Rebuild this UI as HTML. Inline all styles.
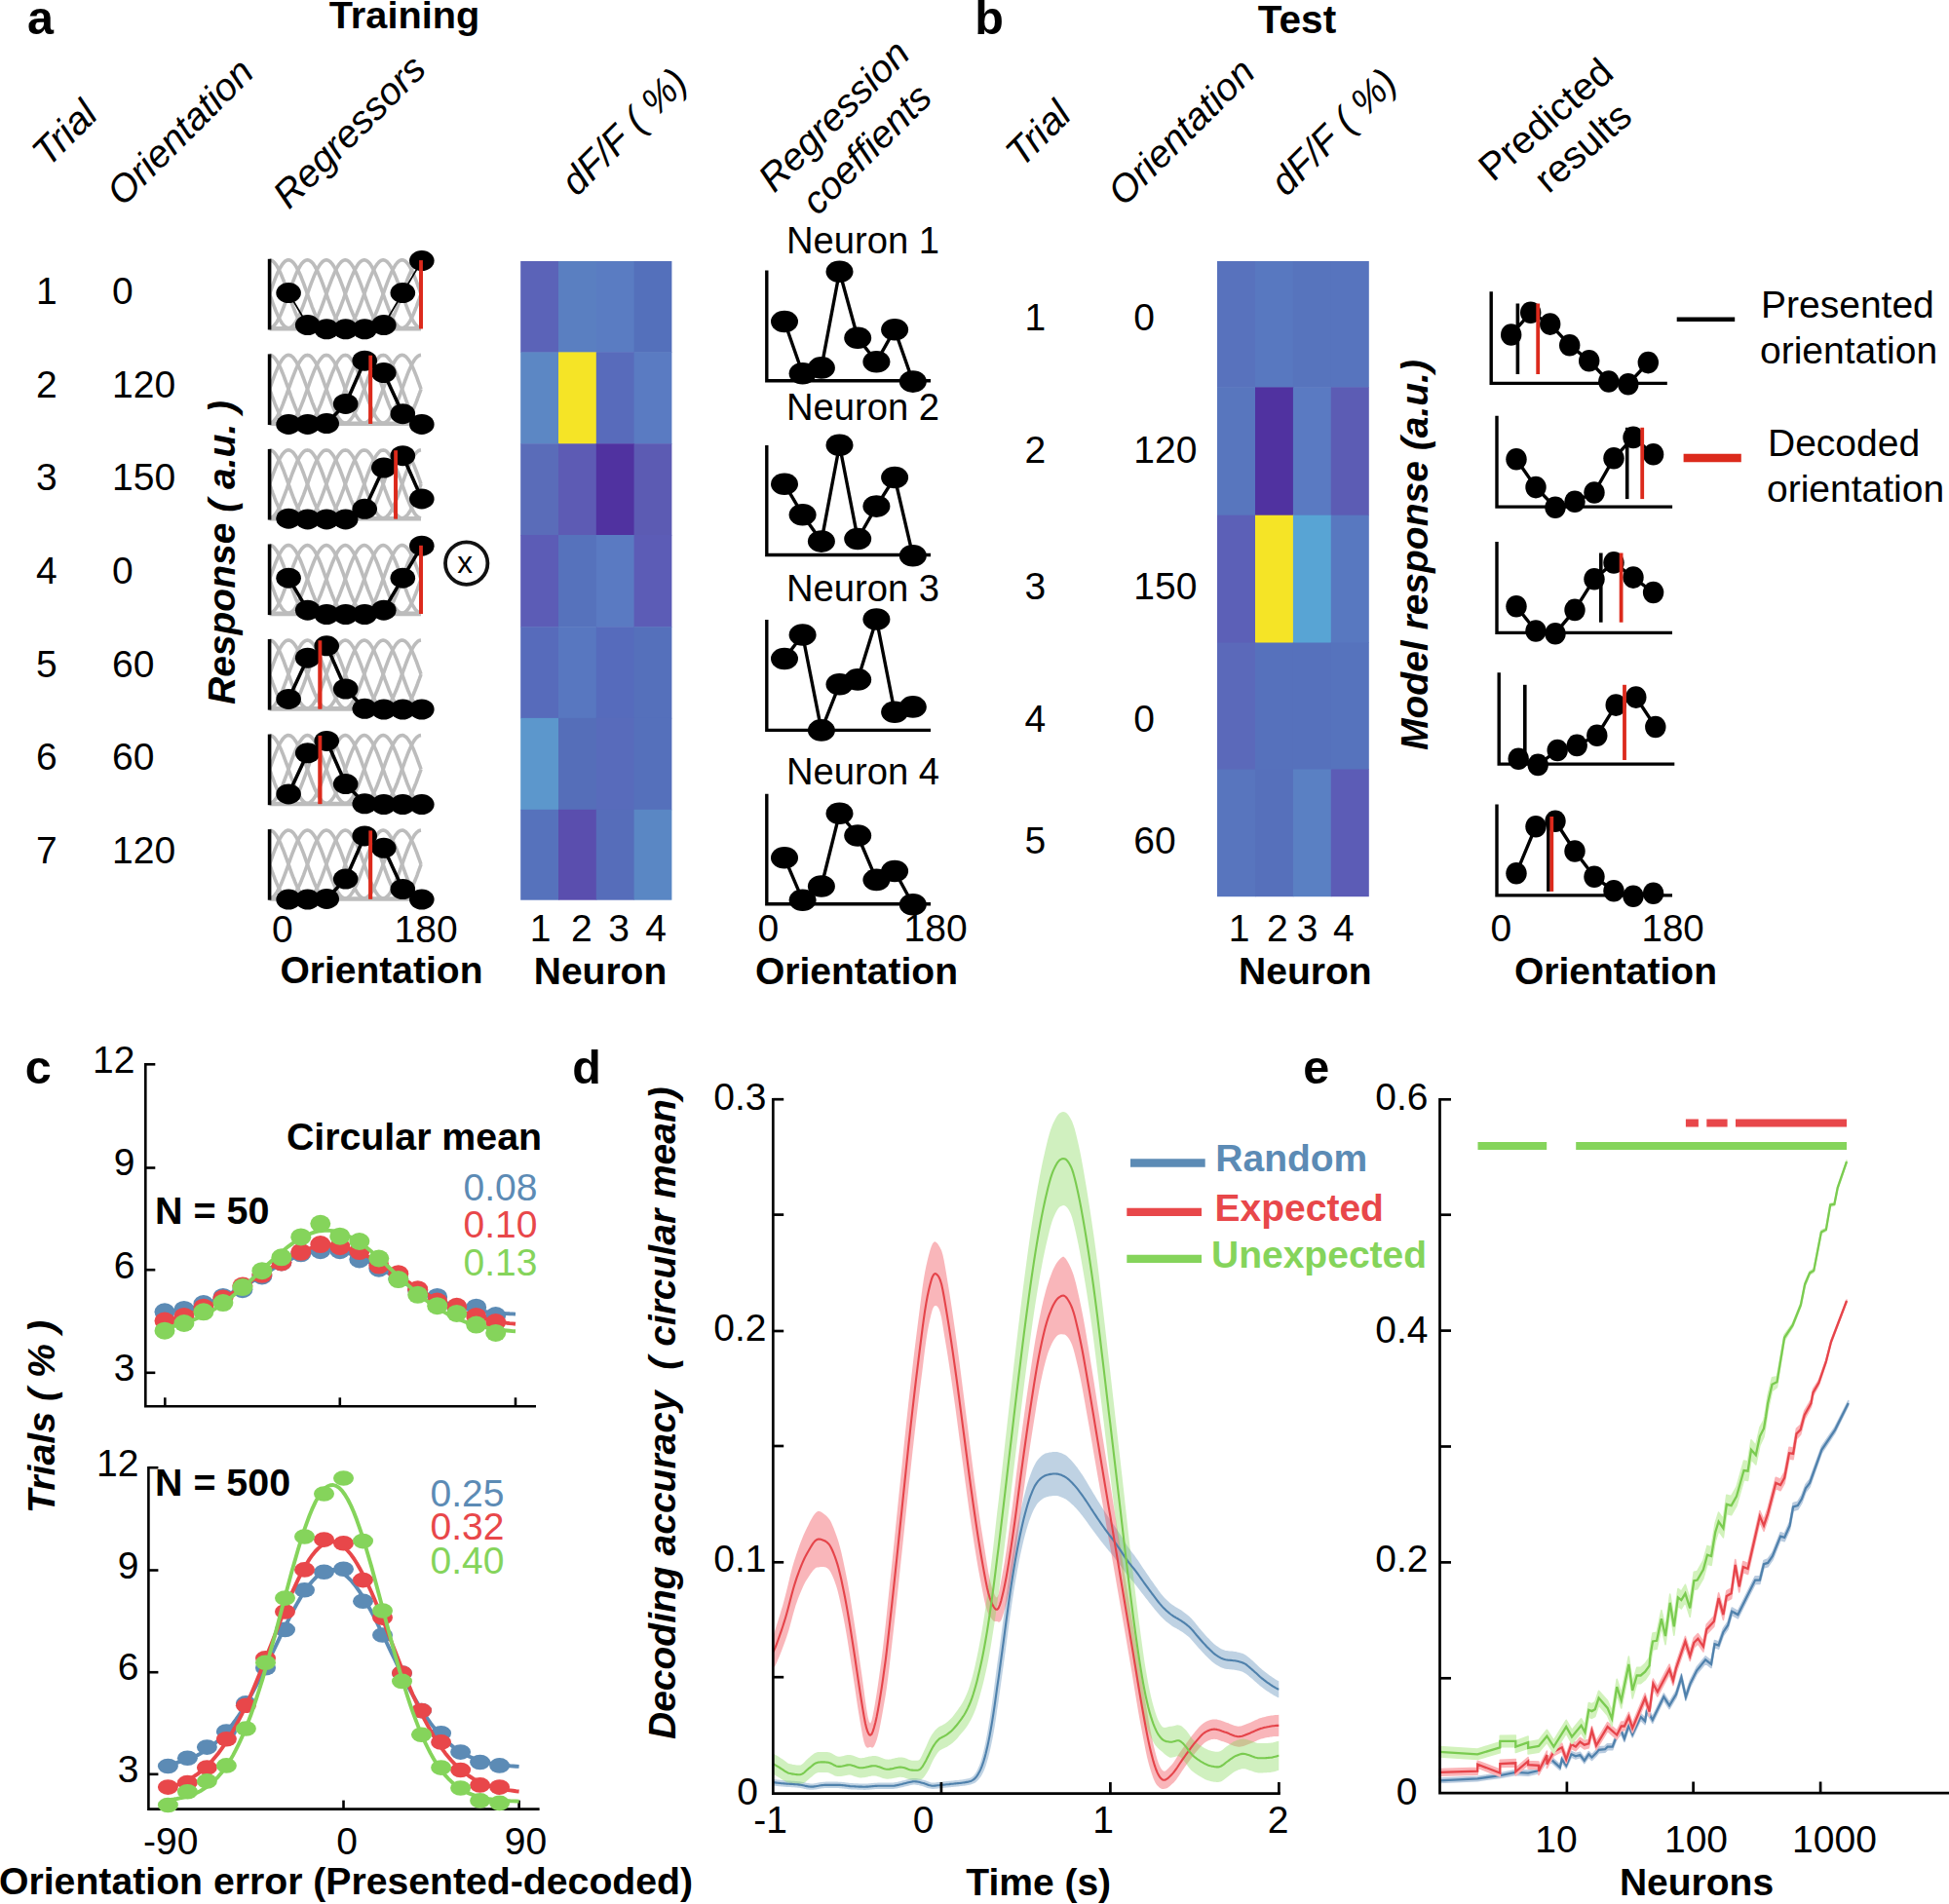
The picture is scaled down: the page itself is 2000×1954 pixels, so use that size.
<!DOCTYPE html>
<html lang="en">
<head>
<meta charset="utf-8">
<title>Orientation decoding figure</title>
<style>
html,body{margin:0;padding:0;background:#fff;}
body{width:2000px;height:1954px;overflow:hidden;}
svg{display:block;font-family:"Liberation Sans",sans-serif;}
</style>
</head>
<body>
<svg width="2000" height="1954" viewBox="0 0 2000 1954">
<rect width="2000" height="1954" fill="#fff"/>
<g id="panel-a">
<text x="28" y="35.3" font-size="48.5" font-weight="bold">a</text>
<text x="415" y="29" font-size="39.7" font-weight="bold" text-anchor="middle">Training</text>
<text transform="translate(49.5 172.5) rotate(-45)" font-size="40" font-style="italic">Trial</text>
<text transform="translate(126 213) rotate(-45)" font-size="39.5" font-style="italic">Orientation</text>
<text transform="translate(296.5 215.8) rotate(-45)" font-size="39.5" font-style="italic">Regressors</text>
<text transform="translate(592 202.5) rotate(-45)" font-size="39.5" font-style="italic">dF/F ( %)</text>
<text transform="translate(794.5 198.8) rotate(-45)" font-size="39.5" font-style="italic">Regression</text>
<text transform="translate(839 222.2) rotate(-45)" font-size="39.5" font-style="italic">coeffients</text>
<text x="37" y="312" font-size="39">1</text>
<text x="115" y="312" font-size="39">0</text>
<text x="37" y="408" font-size="39">2</text>
<text x="115" y="408" font-size="39">120</text>
<text x="37" y="503.4" font-size="39">3</text>
<text x="115" y="503.4" font-size="39">150</text>
<text x="37" y="599.2" font-size="39">4</text>
<text x="115" y="599.2" font-size="39">0</text>
<text x="37" y="694.7" font-size="39">5</text>
<text x="115" y="694.7" font-size="39">60</text>
<text x="37" y="790.3" font-size="39">6</text>
<text x="115" y="790.3" font-size="39">60</text>
<text x="37" y="886.3" font-size="39">7</text>
<text x="115" y="886.3" font-size="39">120</text>
<text transform="translate(240.5 723) rotate(-90)" font-size="39" font-weight="bold" font-style="italic">Response ( a.u. )</text>
<polyline points="276.6,301.7 277.1,303.1 277.6,304.4 278.1,305.8 278.5,307.2 279,308.5 279.5,309.8 280,311.2 280.5,312.5 281,313.8 281.5,315.1 281.9,316.3 282.4,317.5 282.9,318.8 283.4,319.9 283.9,321.1 284.4,322.2 284.9,323.3 285.3,324.4 285.8,325.4 286.3,326.4 286.8,327.3 287.3,328.2 287.8,329.1 288.3,329.9 288.7,330.7 289.2,331.5 289.7,332.2 290.2,332.8 290.7,333.4 291.2,333.9 291.7,334.4 292.1,334.9 292.6,335.3 293.1,335.6 293.6,335.9 294.1,336.2 294.6,336.4 295.1,336.5 295.5,336.6 296,336.6" fill="none" stroke="#bcbcbc" stroke-width="3.6" stroke-linejoin="round" stroke-linecap="butt"/>
<polyline points="276.6,266.8 277.6,266.9 278.5,267.2 279.5,267.8 280.5,268.5 281.5,269.5 282.4,270.6 283.4,271.9 284.4,273.5 285.3,275.2 286.3,277 287.3,279 288.3,281.2 289.2,283.5 290.2,285.9 291.2,288.3 292.1,290.9 293.1,293.6 294.1,296.2 295.1,299 296,301.7 297,304.4 298,307.2 298.9,309.8 299.9,312.5 300.9,315.1 301.9,317.5 302.8,319.9 303.8,322.2 304.8,324.4 305.7,326.4 306.7,328.2 307.7,329.9 308.7,331.5 309.6,332.8 310.6,333.9 311.6,334.9 312.5,335.6 313.5,336.2 314.5,336.5 315.5,336.6" fill="none" stroke="#bcbcbc" stroke-width="3.6" stroke-linejoin="round" stroke-linecap="butt"/>
<polyline points="276.6,301.7 278.1,297.6 279.5,293.6 281,289.6 282.4,285.9 283.9,282.3 285.3,279 286.8,276.1 288.3,273.5 289.7,271.2 291.2,269.5 292.6,268.1 294.1,267.2 295.5,266.8 297,266.9 298.5,267.5 299.9,268.5 301.4,270 302.8,271.9 304.3,274.3 305.7,277 307.2,280.1 308.7,283.5 310.1,287.1 311.6,290.9 313,294.9 314.5,299 315.9,303.1 317.4,307.2 318.9,311.2 320.3,315.1 321.8,318.8 323.2,322.2 324.7,325.4 326.1,328.2 327.6,330.7 329.1,332.8 330.5,334.4 332,335.6 333.4,336.4 334.9,336.6" fill="none" stroke="#bcbcbc" stroke-width="3.6" stroke-linejoin="round" stroke-linecap="butt"/>
<polyline points="276.6,336.6 278.5,336.2 280.5,334.9 282.4,332.8 284.4,329.9 286.3,326.4 288.3,322.2 290.2,317.5 292.1,312.5 294.1,307.2 296,301.7 298,296.2 299.9,290.9 301.9,285.9 303.8,281.2 305.7,277 307.7,273.5 309.6,270.6 311.6,268.5 313.5,267.2 315.5,266.8 317.4,267.2 319.3,268.5 321.3,270.6 323.2,273.5 325.2,277 327.1,281.2 329.1,285.9 331,290.9 332.9,296.2 334.9,301.7 336.8,307.2 338.8,312.5 340.7,317.5 342.7,322.2 344.6,326.4 346.5,329.9 348.5,332.8 350.4,334.9 352.4,336.2 354.3,336.6" fill="none" stroke="#bcbcbc" stroke-width="3.6" stroke-linejoin="round" stroke-linecap="butt"/>
<polyline points="296,336.6 298,336.2 299.9,334.9 301.9,332.8 303.8,329.9 305.7,326.4 307.7,322.2 309.6,317.5 311.6,312.5 313.5,307.2 315.5,301.7 317.4,296.2 319.3,290.9 321.3,285.9 323.2,281.2 325.2,277 327.1,273.5 329.1,270.6 331,268.5 332.9,267.2 334.9,266.8 336.8,267.2 338.8,268.5 340.7,270.6 342.7,273.5 344.6,277 346.5,281.2 348.5,285.9 350.4,290.9 352.4,296.2 354.3,301.7 356.3,307.2 358.2,312.5 360.1,317.5 362.1,322.2 364,326.4 366,329.9 367.9,332.8 369.9,334.9 371.8,336.2 373.8,336.6" fill="none" stroke="#bcbcbc" stroke-width="3.6" stroke-linejoin="round" stroke-linecap="butt"/>
<polyline points="315.5,336.6 317.4,336.2 319.3,334.9 321.3,332.8 323.2,329.9 325.2,326.4 327.1,322.2 329.1,317.5 331,312.5 332.9,307.2 334.9,301.7 336.8,296.2 338.8,290.9 340.7,285.9 342.7,281.2 344.6,277 346.5,273.5 348.5,270.6 350.4,268.5 352.4,267.2 354.3,266.8 356.3,267.2 358.2,268.5 360.1,270.6 362.1,273.5 364,277 366,281.2 367.9,285.9 369.9,290.9 371.8,296.2 373.8,301.7 375.7,307.2 377.6,312.5 379.6,317.5 381.5,322.2 383.5,326.4 385.4,329.9 387.4,332.8 389.3,334.9 391.2,336.2 393.2,336.6" fill="none" stroke="#bcbcbc" stroke-width="3.6" stroke-linejoin="round" stroke-linecap="butt"/>
<polyline points="334.9,336.6 336.8,336.2 338.8,334.9 340.7,332.8 342.7,329.9 344.6,326.4 346.5,322.2 348.5,317.5 350.4,312.5 352.4,307.2 354.3,301.7 356.3,296.2 358.2,290.9 360.1,285.9 362.1,281.2 364,277 366,273.5 367.9,270.6 369.9,268.5 371.8,267.2 373.8,266.8 375.7,267.2 377.6,268.5 379.6,270.6 381.5,273.5 383.5,277 385.4,281.2 387.4,285.9 389.3,290.9 391.2,296.2 393.2,301.7 395.1,307.2 397.1,312.5 399,317.5 401,322.2 402.9,326.4 404.8,329.9 406.8,332.8 408.7,334.9 410.7,336.2 412.6,336.6" fill="none" stroke="#bcbcbc" stroke-width="3.6" stroke-linejoin="round" stroke-linecap="butt"/>
<polyline points="354.3,336.6 356.3,336.2 358.2,334.9 360.1,332.8 362.1,329.9 364,326.4 366,322.2 367.9,317.5 369.9,312.5 371.8,307.2 373.8,301.7 375.7,296.2 377.6,290.9 379.6,285.9 381.5,281.2 383.5,277 385.4,273.5 387.4,270.6 389.3,268.5 391.2,267.2 393.2,266.8 395.1,267.2 397.1,268.5 399,270.6 401,273.5 402.9,277 404.8,281.2 406.8,285.9 408.7,290.9 410.7,296.2 412.6,301.7 414.6,307.2 416.5,312.5 418.4,317.5 420.4,322.2 422.3,326.4 424.3,329.9 426.2,332.8 428.2,334.9 430.1,336.2 432,336.6" fill="none" stroke="#bcbcbc" stroke-width="3.6" stroke-linejoin="round" stroke-linecap="butt"/>
<polyline points="373.8,336.6 375.2,336.4 376.7,335.6 378.1,334.4 379.6,332.8 381,330.7 382.5,328.2 384,325.4 385.4,322.2 386.9,318.8 388.3,315.1 389.8,311.2 391.2,307.2 392.7,303.1 394.2,299 395.6,294.9 397.1,290.9 398.5,287.1 400,283.5 401.4,280.1 402.9,277 404.4,274.3 405.8,271.9 407.3,270 408.7,268.5 410.2,267.5 411.6,266.9 413.1,266.8 414.6,267.2 416,268.1 417.5,269.5 418.9,271.2 420.4,273.5 421.8,276.1 423.3,279 424.8,282.3 426.2,285.9 427.7,289.6 429.1,293.6 430.6,297.6 432,301.7" fill="none" stroke="#bcbcbc" stroke-width="3.6" stroke-linejoin="round" stroke-linecap="butt"/>
<polyline points="393.2,336.6 394.2,336.5 395.1,336.2 396.1,335.6 397.1,334.9 398,333.9 399,332.8 400,331.5 401,329.9 401.9,328.2 402.9,326.4 403.9,324.4 404.8,322.2 405.8,319.9 406.8,317.5 407.8,315.1 408.7,312.5 409.7,309.8 410.7,307.2 411.6,304.4 412.6,301.7 413.6,299 414.6,296.2 415.5,293.6 416.5,290.9 417.5,288.3 418.4,285.9 419.4,283.5 420.4,281.2 421.4,279 422.3,277 423.3,275.2 424.3,273.5 425.2,271.9 426.2,270.6 427.2,269.5 428.2,268.5 429.1,267.8 430.1,267.2 431.1,266.9 432,266.8" fill="none" stroke="#bcbcbc" stroke-width="3.6" stroke-linejoin="round" stroke-linecap="butt"/>
<polyline points="412.6,336.6 413.1,336.6 413.6,336.5 414.1,336.4 414.6,336.2 415,335.9 415.5,335.6 416,335.3 416.5,334.9 417,334.4 417.5,333.9 418,333.4 418.4,332.8 418.9,332.2 419.4,331.5 419.9,330.7 420.4,329.9 420.9,329.1 421.4,328.2 421.8,327.3 422.3,326.4 422.8,325.4 423.3,324.4 423.8,323.3 424.3,322.2 424.8,321.1 425.2,319.9 425.7,318.8 426.2,317.5 426.7,316.3 427.2,315.1 427.7,313.8 428.2,312.5 428.6,311.2 429.1,309.8 429.6,308.5 430.1,307.2 430.6,305.8 431.1,304.4 431.6,303.1 432,301.7" fill="none" stroke="#bcbcbc" stroke-width="3.6" stroke-linejoin="round" stroke-linecap="butt"/>
<line x1="276.6" y1="337.2" x2="432" y2="337.2" stroke="#bcbcbc" stroke-width="4.6"/>
<line x1="276.6" y1="265.8" x2="276.6" y2="338.4" stroke="#000" stroke-width="3.6"/>
<polyline points="296.1,300.6 315.7,333.6 335.2,337.8 354.7,337.8 374.2,337.8 393.8,333.6 413.3,300.6 432.8,267.6" fill="none" stroke="#000" stroke-width="1.8" stroke-linejoin="round" stroke-linecap="butt"/>
<line x1="432" y1="267.1" x2="432" y2="337.3" stroke="#dc2a1c" stroke-width="3.8"/>
<ellipse cx="296.1" cy="300.6" rx="12.8" ry="10.5" fill="#000"/>
<ellipse cx="315.7" cy="333.6" rx="12.8" ry="10.5" fill="#000"/>
<ellipse cx="335.2" cy="337.8" rx="12.8" ry="10.5" fill="#000"/>
<ellipse cx="354.7" cy="337.8" rx="12.8" ry="10.5" fill="#000"/>
<ellipse cx="374.2" cy="337.8" rx="12.8" ry="10.5" fill="#000"/>
<ellipse cx="393.8" cy="333.6" rx="12.8" ry="10.5" fill="#000"/>
<ellipse cx="413.3" cy="300.6" rx="12.8" ry="10.5" fill="#000"/>
<ellipse cx="432.8" cy="267.6" rx="12.8" ry="10.5" fill="#000"/>
<polyline points="276.6,399.3 277.1,400.6 277.6,402 278.1,403.4 278.5,404.7 279,406.1 279.5,407.4 280,408.7 280.5,410 281,411.3 281.5,412.6 281.9,413.9 282.4,415.1 282.9,416.3 283.4,417.5 283.9,418.6 284.4,419.8 284.9,420.9 285.3,421.9 285.8,422.9 286.3,423.9 286.8,424.9 287.3,425.8 287.8,426.7 288.3,427.5 288.7,428.3 289.2,429 289.7,429.7 290.2,430.3 290.7,430.9 291.2,431.5 291.7,432 292.1,432.4 292.6,432.8 293.1,433.2 293.6,433.5 294.1,433.7 294.6,433.9 295.1,434 295.5,434.1 296,434.2" fill="none" stroke="#bcbcbc" stroke-width="3.6" stroke-linejoin="round" stroke-linecap="butt"/>
<polyline points="276.6,364.4 277.6,364.5 278.5,364.8 279.5,365.3 280.5,366.1 281.5,367 282.4,368.2 283.4,369.5 284.4,371 285.3,372.7 286.3,374.6 287.3,376.6 288.3,378.7 289.2,381 290.2,383.4 291.2,385.9 292.1,388.5 293.1,391.1 294.1,393.8 295.1,396.5 296,399.3 297,402 298,404.7 298.9,407.4 299.9,410 300.9,412.6 301.9,415.1 302.8,417.5 303.8,419.8 304.8,421.9 305.7,423.9 306.7,425.8 307.7,427.5 308.7,429 309.6,430.3 310.6,431.5 311.6,432.4 312.5,433.2 313.5,433.7 314.5,434 315.5,434.2" fill="none" stroke="#bcbcbc" stroke-width="3.6" stroke-linejoin="round" stroke-linecap="butt"/>
<polyline points="276.6,399.3 278.1,395.1 279.5,391.1 281,387.2 282.4,383.4 283.9,379.9 285.3,376.6 286.8,373.6 288.3,371 289.7,368.8 291.2,367 292.6,365.7 294.1,364.8 295.5,364.4 297,364.5 298.5,365 299.9,366.1 301.4,367.6 302.8,369.5 304.3,371.8 305.7,374.6 307.2,377.6 308.7,381 310.1,384.6 311.6,388.5 313,392.4 314.5,396.5 315.9,400.6 317.4,404.7 318.9,408.7 320.3,412.6 321.8,416.3 323.2,419.8 324.7,422.9 326.1,425.8 327.6,428.3 329.1,430.3 330.5,432 332,433.2 333.4,433.9 334.9,434.2" fill="none" stroke="#bcbcbc" stroke-width="3.6" stroke-linejoin="round" stroke-linecap="butt"/>
<polyline points="276.6,434.2 278.5,433.7 280.5,432.4 282.4,430.3 284.4,427.5 286.3,423.9 288.3,419.8 290.2,415.1 292.1,410 294.1,404.7 296,399.3 298,393.8 299.9,388.5 301.9,383.4 303.8,378.7 305.7,374.6 307.7,371 309.6,368.2 311.6,366.1 313.5,364.8 315.5,364.4 317.4,364.8 319.3,366.1 321.3,368.2 323.2,371 325.2,374.6 327.1,378.7 329.1,383.4 331,388.5 332.9,393.8 334.9,399.3 336.8,404.7 338.8,410 340.7,415.1 342.7,419.8 344.6,423.9 346.5,427.5 348.5,430.3 350.4,432.4 352.4,433.7 354.3,434.2" fill="none" stroke="#bcbcbc" stroke-width="3.6" stroke-linejoin="round" stroke-linecap="butt"/>
<polyline points="296,434.2 298,433.7 299.9,432.4 301.9,430.3 303.8,427.5 305.7,423.9 307.7,419.8 309.6,415.1 311.6,410 313.5,404.7 315.5,399.3 317.4,393.8 319.3,388.5 321.3,383.4 323.2,378.7 325.2,374.6 327.1,371 329.1,368.2 331,366.1 332.9,364.8 334.9,364.4 336.8,364.8 338.8,366.1 340.7,368.2 342.7,371 344.6,374.6 346.5,378.7 348.5,383.4 350.4,388.5 352.4,393.8 354.3,399.3 356.3,404.7 358.2,410 360.1,415.1 362.1,419.8 364,423.9 366,427.5 367.9,430.3 369.9,432.4 371.8,433.7 373.8,434.2" fill="none" stroke="#bcbcbc" stroke-width="3.6" stroke-linejoin="round" stroke-linecap="butt"/>
<polyline points="315.5,434.2 317.4,433.7 319.3,432.4 321.3,430.3 323.2,427.5 325.2,423.9 327.1,419.8 329.1,415.1 331,410 332.9,404.7 334.9,399.3 336.8,393.8 338.8,388.5 340.7,383.4 342.7,378.7 344.6,374.6 346.5,371 348.5,368.2 350.4,366.1 352.4,364.8 354.3,364.4 356.3,364.8 358.2,366.1 360.1,368.2 362.1,371 364,374.6 366,378.7 367.9,383.4 369.9,388.5 371.8,393.8 373.8,399.3 375.7,404.7 377.6,410 379.6,415.1 381.5,419.8 383.5,423.9 385.4,427.5 387.4,430.3 389.3,432.4 391.2,433.7 393.2,434.2" fill="none" stroke="#bcbcbc" stroke-width="3.6" stroke-linejoin="round" stroke-linecap="butt"/>
<polyline points="334.9,434.2 336.8,433.7 338.8,432.4 340.7,430.3 342.7,427.5 344.6,423.9 346.5,419.8 348.5,415.1 350.4,410 352.4,404.7 354.3,399.3 356.3,393.8 358.2,388.5 360.1,383.4 362.1,378.7 364,374.6 366,371 367.9,368.2 369.9,366.1 371.8,364.8 373.8,364.4 375.7,364.8 377.6,366.1 379.6,368.2 381.5,371 383.5,374.6 385.4,378.7 387.4,383.4 389.3,388.5 391.2,393.8 393.2,399.3 395.1,404.7 397.1,410 399,415.1 401,419.8 402.9,423.9 404.8,427.5 406.8,430.3 408.7,432.4 410.7,433.7 412.6,434.2" fill="none" stroke="#bcbcbc" stroke-width="3.6" stroke-linejoin="round" stroke-linecap="butt"/>
<polyline points="354.3,434.2 356.3,433.7 358.2,432.4 360.1,430.3 362.1,427.5 364,423.9 366,419.8 367.9,415.1 369.9,410 371.8,404.7 373.8,399.3 375.7,393.8 377.6,388.5 379.6,383.4 381.5,378.7 383.5,374.6 385.4,371 387.4,368.2 389.3,366.1 391.2,364.8 393.2,364.4 395.1,364.8 397.1,366.1 399,368.2 401,371 402.9,374.6 404.8,378.7 406.8,383.4 408.7,388.5 410.7,393.8 412.6,399.3 414.6,404.7 416.5,410 418.4,415.1 420.4,419.8 422.3,423.9 424.3,427.5 426.2,430.3 428.2,432.4 430.1,433.7 432,434.2" fill="none" stroke="#bcbcbc" stroke-width="3.6" stroke-linejoin="round" stroke-linecap="butt"/>
<polyline points="373.8,434.2 375.2,433.9 376.7,433.2 378.1,432 379.6,430.3 381,428.3 382.5,425.8 384,422.9 385.4,419.8 386.9,416.3 388.3,412.6 389.8,408.7 391.2,404.7 392.7,400.6 394.2,396.5 395.6,392.4 397.1,388.5 398.5,384.6 400,381 401.4,377.6 402.9,374.6 404.4,371.8 405.8,369.5 407.3,367.6 408.7,366.1 410.2,365 411.6,364.5 413.1,364.4 414.6,364.8 416,365.7 417.5,367 418.9,368.8 420.4,371 421.8,373.6 423.3,376.6 424.8,379.9 426.2,383.4 427.7,387.2 429.1,391.1 430.6,395.1 432,399.3" fill="none" stroke="#bcbcbc" stroke-width="3.6" stroke-linejoin="round" stroke-linecap="butt"/>
<polyline points="393.2,434.2 394.2,434 395.1,433.7 396.1,433.2 397.1,432.4 398,431.5 399,430.3 400,429 401,427.5 401.9,425.8 402.9,423.9 403.9,421.9 404.8,419.8 405.8,417.5 406.8,415.1 407.8,412.6 408.7,410 409.7,407.4 410.7,404.7 411.6,402 412.6,399.3 413.6,396.5 414.6,393.8 415.5,391.1 416.5,388.5 417.5,385.9 418.4,383.4 419.4,381 420.4,378.7 421.4,376.6 422.3,374.6 423.3,372.7 424.3,371 425.2,369.5 426.2,368.2 427.2,367 428.2,366.1 429.1,365.3 430.1,364.8 431.1,364.5 432,364.4" fill="none" stroke="#bcbcbc" stroke-width="3.6" stroke-linejoin="round" stroke-linecap="butt"/>
<polyline points="412.6,434.2 413.1,434.1 413.6,434 414.1,433.9 414.6,433.7 415,433.5 415.5,433.2 416,432.8 416.5,432.4 417,432 417.5,431.5 418,430.9 418.4,430.3 418.9,429.7 419.4,429 419.9,428.3 420.4,427.5 420.9,426.7 421.4,425.8 421.8,424.9 422.3,423.9 422.8,422.9 423.3,421.9 423.8,420.9 424.3,419.8 424.8,418.6 425.2,417.5 425.7,416.3 426.2,415.1 426.7,413.9 427.2,412.6 427.7,411.3 428.2,410 428.6,408.7 429.1,407.4 429.6,406.1 430.1,404.7 430.6,403.4 431.1,402 431.6,400.6 432,399.3" fill="none" stroke="#bcbcbc" stroke-width="3.6" stroke-linejoin="round" stroke-linecap="butt"/>
<line x1="276.6" y1="434.8" x2="432" y2="434.8" stroke="#bcbcbc" stroke-width="4.6"/>
<line x1="276.6" y1="363.4" x2="276.6" y2="436" stroke="#000" stroke-width="3.6"/>
<polyline points="296.1,435.4 315.7,435.4 335.2,434.6 354.7,414.4 374.2,370.2 393.8,382.6 413.3,424.7 432.8,435.4" fill="none" stroke="#000" stroke-width="3.6" stroke-linejoin="round" stroke-linecap="butt"/>
<line x1="380.2" y1="364.7" x2="380.2" y2="434.9" stroke="#dc2a1c" stroke-width="3.8"/>
<ellipse cx="296.1" cy="435.4" rx="12.8" ry="10.5" fill="#000"/>
<ellipse cx="315.7" cy="435.4" rx="12.8" ry="10.5" fill="#000"/>
<ellipse cx="335.2" cy="434.6" rx="12.8" ry="10.5" fill="#000"/>
<ellipse cx="354.7" cy="414.4" rx="12.8" ry="10.5" fill="#000"/>
<ellipse cx="374.2" cy="370.2" rx="12.8" ry="10.5" fill="#000"/>
<ellipse cx="393.8" cy="382.6" rx="12.8" ry="10.5" fill="#000"/>
<ellipse cx="413.3" cy="424.7" rx="12.8" ry="10.5" fill="#000"/>
<ellipse cx="432.8" cy="435.4" rx="12.8" ry="10.5" fill="#000"/>
<polyline points="276.6,496.8 277.1,498.2 277.6,499.5 278.1,500.9 278.5,502.3 279,503.6 279.5,504.9 280,506.3 280.5,507.6 281,508.9 281.5,510.2 281.9,511.4 282.4,512.6 282.9,513.9 283.4,515 283.9,516.2 284.4,517.3 284.9,518.4 285.3,519.5 285.8,520.5 286.3,521.5 286.8,522.4 287.3,523.3 287.8,524.2 288.3,525 288.7,525.8 289.2,526.6 289.7,527.3 290.2,527.9 290.7,528.5 291.2,529 291.7,529.5 292.1,530 292.6,530.4 293.1,530.7 293.6,531 294.1,531.3 294.6,531.5 295.1,531.6 295.5,531.7 296,531.7" fill="none" stroke="#bcbcbc" stroke-width="3.6" stroke-linejoin="round" stroke-linecap="butt"/>
<polyline points="276.6,461.9 277.6,462 278.5,462.3 279.5,462.9 280.5,463.6 281.5,464.6 282.4,465.7 283.4,467 284.4,468.6 285.3,470.3 286.3,472.1 287.3,474.1 288.3,476.3 289.2,478.6 290.2,481 291.2,483.4 292.1,486 293.1,488.7 294.1,491.3 295.1,494.1 296,496.8 297,499.5 298,502.3 298.9,504.9 299.9,507.6 300.9,510.2 301.9,512.6 302.8,515 303.8,517.3 304.8,519.5 305.7,521.5 306.7,523.3 307.7,525 308.7,526.6 309.6,527.9 310.6,529 311.6,530 312.5,530.7 313.5,531.3 314.5,531.6 315.5,531.7" fill="none" stroke="#bcbcbc" stroke-width="3.6" stroke-linejoin="round" stroke-linecap="butt"/>
<polyline points="276.6,496.8 278.1,492.7 279.5,488.7 281,484.7 282.4,481 283.9,477.4 285.3,474.1 286.8,471.2 288.3,468.6 289.7,466.3 291.2,464.6 292.6,463.2 294.1,462.3 295.5,461.9 297,462 298.5,462.6 299.9,463.6 301.4,465.1 302.8,467 304.3,469.4 305.7,472.1 307.2,475.2 308.7,478.6 310.1,482.2 311.6,486 313,490 314.5,494.1 315.9,498.2 317.4,502.3 318.9,506.3 320.3,510.2 321.8,513.9 323.2,517.3 324.7,520.5 326.1,523.3 327.6,525.8 329.1,527.9 330.5,529.5 332,530.7 333.4,531.5 334.9,531.7" fill="none" stroke="#bcbcbc" stroke-width="3.6" stroke-linejoin="round" stroke-linecap="butt"/>
<polyline points="276.6,531.7 278.5,531.3 280.5,530 282.4,527.9 284.4,525 286.3,521.5 288.3,517.3 290.2,512.6 292.1,507.6 294.1,502.3 296,496.8 298,491.3 299.9,486 301.9,481 303.8,476.3 305.7,472.1 307.7,468.6 309.6,465.7 311.6,463.6 313.5,462.3 315.5,461.9 317.4,462.3 319.3,463.6 321.3,465.7 323.2,468.6 325.2,472.1 327.1,476.3 329.1,481 331,486 332.9,491.3 334.9,496.8 336.8,502.3 338.8,507.6 340.7,512.6 342.7,517.3 344.6,521.5 346.5,525 348.5,527.9 350.4,530 352.4,531.3 354.3,531.7" fill="none" stroke="#bcbcbc" stroke-width="3.6" stroke-linejoin="round" stroke-linecap="butt"/>
<polyline points="296,531.7 298,531.3 299.9,530 301.9,527.9 303.8,525 305.7,521.5 307.7,517.3 309.6,512.6 311.6,507.6 313.5,502.3 315.5,496.8 317.4,491.3 319.3,486 321.3,481 323.2,476.3 325.2,472.1 327.1,468.6 329.1,465.7 331,463.6 332.9,462.3 334.9,461.9 336.8,462.3 338.8,463.6 340.7,465.7 342.7,468.6 344.6,472.1 346.5,476.3 348.5,481 350.4,486 352.4,491.3 354.3,496.8 356.3,502.3 358.2,507.6 360.1,512.6 362.1,517.3 364,521.5 366,525 367.9,527.9 369.9,530 371.8,531.3 373.8,531.7" fill="none" stroke="#bcbcbc" stroke-width="3.6" stroke-linejoin="round" stroke-linecap="butt"/>
<polyline points="315.5,531.7 317.4,531.3 319.3,530 321.3,527.9 323.2,525 325.2,521.5 327.1,517.3 329.1,512.6 331,507.6 332.9,502.3 334.9,496.8 336.8,491.3 338.8,486 340.7,481 342.7,476.3 344.6,472.1 346.5,468.6 348.5,465.7 350.4,463.6 352.4,462.3 354.3,461.9 356.3,462.3 358.2,463.6 360.1,465.7 362.1,468.6 364,472.1 366,476.3 367.9,481 369.9,486 371.8,491.3 373.8,496.8 375.7,502.3 377.6,507.6 379.6,512.6 381.5,517.3 383.5,521.5 385.4,525 387.4,527.9 389.3,530 391.2,531.3 393.2,531.7" fill="none" stroke="#bcbcbc" stroke-width="3.6" stroke-linejoin="round" stroke-linecap="butt"/>
<polyline points="334.9,531.7 336.8,531.3 338.8,530 340.7,527.9 342.7,525 344.6,521.5 346.5,517.3 348.5,512.6 350.4,507.6 352.4,502.3 354.3,496.8 356.3,491.3 358.2,486 360.1,481 362.1,476.3 364,472.1 366,468.6 367.9,465.7 369.9,463.6 371.8,462.3 373.8,461.9 375.7,462.3 377.6,463.6 379.6,465.7 381.5,468.6 383.5,472.1 385.4,476.3 387.4,481 389.3,486 391.2,491.3 393.2,496.8 395.1,502.3 397.1,507.6 399,512.6 401,517.3 402.9,521.5 404.8,525 406.8,527.9 408.7,530 410.7,531.3 412.6,531.7" fill="none" stroke="#bcbcbc" stroke-width="3.6" stroke-linejoin="round" stroke-linecap="butt"/>
<polyline points="354.3,531.7 356.3,531.3 358.2,530 360.1,527.9 362.1,525 364,521.5 366,517.3 367.9,512.6 369.9,507.6 371.8,502.3 373.8,496.8 375.7,491.3 377.6,486 379.6,481 381.5,476.3 383.5,472.1 385.4,468.6 387.4,465.7 389.3,463.6 391.2,462.3 393.2,461.9 395.1,462.3 397.1,463.6 399,465.7 401,468.6 402.9,472.1 404.8,476.3 406.8,481 408.7,486 410.7,491.3 412.6,496.8 414.6,502.3 416.5,507.6 418.4,512.6 420.4,517.3 422.3,521.5 424.3,525 426.2,527.9 428.2,530 430.1,531.3 432,531.7" fill="none" stroke="#bcbcbc" stroke-width="3.6" stroke-linejoin="round" stroke-linecap="butt"/>
<polyline points="373.8,531.7 375.2,531.5 376.7,530.7 378.1,529.5 379.6,527.9 381,525.8 382.5,523.3 384,520.5 385.4,517.3 386.9,513.9 388.3,510.2 389.8,506.3 391.2,502.3 392.7,498.2 394.2,494.1 395.6,490 397.1,486 398.5,482.2 400,478.6 401.4,475.2 402.9,472.1 404.4,469.4 405.8,467 407.3,465.1 408.7,463.6 410.2,462.6 411.6,462 413.1,461.9 414.6,462.3 416,463.2 417.5,464.6 418.9,466.3 420.4,468.6 421.8,471.2 423.3,474.1 424.8,477.4 426.2,481 427.7,484.7 429.1,488.7 430.6,492.7 432,496.8" fill="none" stroke="#bcbcbc" stroke-width="3.6" stroke-linejoin="round" stroke-linecap="butt"/>
<polyline points="393.2,531.7 394.2,531.6 395.1,531.3 396.1,530.7 397.1,530 398,529 399,527.9 400,526.6 401,525 401.9,523.3 402.9,521.5 403.9,519.5 404.8,517.3 405.8,515 406.8,512.6 407.8,510.2 408.7,507.6 409.7,504.9 410.7,502.3 411.6,499.5 412.6,496.8 413.6,494.1 414.6,491.3 415.5,488.7 416.5,486 417.5,483.4 418.4,481 419.4,478.6 420.4,476.3 421.4,474.1 422.3,472.1 423.3,470.3 424.3,468.6 425.2,467 426.2,465.7 427.2,464.6 428.2,463.6 429.1,462.9 430.1,462.3 431.1,462 432,461.9" fill="none" stroke="#bcbcbc" stroke-width="3.6" stroke-linejoin="round" stroke-linecap="butt"/>
<polyline points="412.6,531.7 413.1,531.7 413.6,531.6 414.1,531.5 414.6,531.3 415,531 415.5,530.7 416,530.4 416.5,530 417,529.5 417.5,529 418,528.5 418.4,527.9 418.9,527.3 419.4,526.6 419.9,525.8 420.4,525 420.9,524.2 421.4,523.3 421.8,522.4 422.3,521.5 422.8,520.5 423.3,519.5 423.8,518.4 424.3,517.3 424.8,516.2 425.2,515 425.7,513.9 426.2,512.6 426.7,511.4 427.2,510.2 427.7,508.9 428.2,507.6 428.6,506.3 429.1,504.9 429.6,503.6 430.1,502.3 430.6,500.9 431.1,499.5 431.6,498.2 432,496.8" fill="none" stroke="#bcbcbc" stroke-width="3.6" stroke-linejoin="round" stroke-linecap="butt"/>
<line x1="276.6" y1="532.3" x2="432" y2="532.3" stroke="#bcbcbc" stroke-width="4.6"/>
<line x1="276.6" y1="460.9" x2="276.6" y2="533.5" stroke="#000" stroke-width="3.6"/>
<polyline points="296.1,532.2 315.7,532.9 335.2,532.9 354.7,532.9 374.2,522.3 393.8,480.1 413.3,467.7 432.8,511.9" fill="none" stroke="#000" stroke-width="3.6" stroke-linejoin="round" stroke-linecap="butt"/>
<line x1="406.1" y1="462.2" x2="406.1" y2="532.4" stroke="#dc2a1c" stroke-width="3.8"/>
<ellipse cx="296.1" cy="532.2" rx="12.8" ry="10.5" fill="#000"/>
<ellipse cx="315.7" cy="532.9" rx="12.8" ry="10.5" fill="#000"/>
<ellipse cx="335.2" cy="532.9" rx="12.8" ry="10.5" fill="#000"/>
<ellipse cx="354.7" cy="532.9" rx="12.8" ry="10.5" fill="#000"/>
<ellipse cx="374.2" cy="522.3" rx="12.8" ry="10.5" fill="#000"/>
<ellipse cx="393.8" cy="480.1" rx="12.8" ry="10.5" fill="#000"/>
<ellipse cx="413.3" cy="467.7" rx="12.8" ry="10.5" fill="#000"/>
<ellipse cx="432.8" cy="511.9" rx="12.8" ry="10.5" fill="#000"/>
<polyline points="276.6,594.4 277.1,595.7 277.6,597.1 278.1,598.5 278.5,599.8 279,601.2 279.5,602.5 280,603.8 280.5,605.1 281,606.4 281.5,607.7 281.9,609 282.4,610.2 282.9,611.4 283.4,612.6 283.9,613.7 284.4,614.9 284.9,616 285.3,617 285.8,618 286.3,619 286.8,620 287.3,620.9 287.8,621.8 288.3,622.6 288.7,623.4 289.2,624.1 289.7,624.8 290.2,625.4 290.7,626 291.2,626.6 291.7,627.1 292.1,627.5 292.6,627.9 293.1,628.3 293.6,628.6 294.1,628.8 294.6,629 295.1,629.1 295.5,629.2 296,629.2" fill="none" stroke="#bcbcbc" stroke-width="3.6" stroke-linejoin="round" stroke-linecap="butt"/>
<polyline points="276.6,559.5 277.6,559.6 278.5,559.9 279.5,560.4 280.5,561.2 281.5,562.1 282.4,563.3 283.4,564.6 284.4,566.1 285.3,567.8 286.3,569.7 287.3,571.7 288.3,573.8 289.2,576.1 290.2,578.5 291.2,581 292.1,583.6 293.1,586.2 294.1,588.9 295.1,591.6 296,594.4 297,597.1 298,599.8 298.9,602.5 299.9,605.1 300.9,607.7 301.9,610.2 302.8,612.6 303.8,614.9 304.8,617 305.7,619 306.7,620.9 307.7,622.6 308.7,624.1 309.6,625.4 310.6,626.6 311.6,627.5 312.5,628.3 313.5,628.8 314.5,629.1 315.5,629.2" fill="none" stroke="#bcbcbc" stroke-width="3.6" stroke-linejoin="round" stroke-linecap="butt"/>
<polyline points="276.6,594.4 278.1,590.2 279.5,586.2 281,582.3 282.4,578.5 283.9,575 285.3,571.7 286.8,568.7 288.3,566.1 289.7,563.9 291.2,562.1 292.6,560.8 294.1,559.9 295.5,559.5 297,559.6 298.5,560.1 299.9,561.2 301.4,562.7 302.8,564.6 304.3,566.9 305.7,569.7 307.2,572.7 308.7,576.1 310.1,579.7 311.6,583.6 313,587.5 314.5,591.6 315.9,595.7 317.4,599.8 318.9,603.8 320.3,607.7 321.8,611.4 323.2,614.9 324.7,618 326.1,620.9 327.6,623.4 329.1,625.4 330.5,627.1 332,628.3 333.4,629 334.9,629.2" fill="none" stroke="#bcbcbc" stroke-width="3.6" stroke-linejoin="round" stroke-linecap="butt"/>
<polyline points="276.6,629.2 278.5,628.8 280.5,627.5 282.4,625.4 284.4,622.6 286.3,619 288.3,614.9 290.2,610.2 292.1,605.1 294.1,599.8 296,594.4 298,588.9 299.9,583.6 301.9,578.5 303.8,573.8 305.7,569.7 307.7,566.1 309.6,563.3 311.6,561.2 313.5,559.9 315.5,559.5 317.4,559.9 319.3,561.2 321.3,563.3 323.2,566.1 325.2,569.7 327.1,573.8 329.1,578.5 331,583.6 332.9,588.9 334.9,594.4 336.8,599.8 338.8,605.1 340.7,610.2 342.7,614.9 344.6,619 346.5,622.6 348.5,625.4 350.4,627.5 352.4,628.8 354.3,629.2" fill="none" stroke="#bcbcbc" stroke-width="3.6" stroke-linejoin="round" stroke-linecap="butt"/>
<polyline points="296,629.2 298,628.8 299.9,627.5 301.9,625.4 303.8,622.6 305.7,619 307.7,614.9 309.6,610.2 311.6,605.1 313.5,599.8 315.5,594.4 317.4,588.9 319.3,583.6 321.3,578.5 323.2,573.8 325.2,569.7 327.1,566.1 329.1,563.3 331,561.2 332.9,559.9 334.9,559.5 336.8,559.9 338.8,561.2 340.7,563.3 342.7,566.1 344.6,569.7 346.5,573.8 348.5,578.5 350.4,583.6 352.4,588.9 354.3,594.4 356.3,599.8 358.2,605.1 360.1,610.2 362.1,614.9 364,619 366,622.6 367.9,625.4 369.9,627.5 371.8,628.8 373.8,629.2" fill="none" stroke="#bcbcbc" stroke-width="3.6" stroke-linejoin="round" stroke-linecap="butt"/>
<polyline points="315.5,629.2 317.4,628.8 319.3,627.5 321.3,625.4 323.2,622.6 325.2,619 327.1,614.9 329.1,610.2 331,605.1 332.9,599.8 334.9,594.4 336.8,588.9 338.8,583.6 340.7,578.5 342.7,573.8 344.6,569.7 346.5,566.1 348.5,563.3 350.4,561.2 352.4,559.9 354.3,559.5 356.3,559.9 358.2,561.2 360.1,563.3 362.1,566.1 364,569.7 366,573.8 367.9,578.5 369.9,583.6 371.8,588.9 373.8,594.4 375.7,599.8 377.6,605.1 379.6,610.2 381.5,614.9 383.5,619 385.4,622.6 387.4,625.4 389.3,627.5 391.2,628.8 393.2,629.2" fill="none" stroke="#bcbcbc" stroke-width="3.6" stroke-linejoin="round" stroke-linecap="butt"/>
<polyline points="334.9,629.2 336.8,628.8 338.8,627.5 340.7,625.4 342.7,622.6 344.6,619 346.5,614.9 348.5,610.2 350.4,605.1 352.4,599.8 354.3,594.4 356.3,588.9 358.2,583.6 360.1,578.5 362.1,573.8 364,569.7 366,566.1 367.9,563.3 369.9,561.2 371.8,559.9 373.8,559.5 375.7,559.9 377.6,561.2 379.6,563.3 381.5,566.1 383.5,569.7 385.4,573.8 387.4,578.5 389.3,583.6 391.2,588.9 393.2,594.4 395.1,599.8 397.1,605.1 399,610.2 401,614.9 402.9,619 404.8,622.6 406.8,625.4 408.7,627.5 410.7,628.8 412.6,629.2" fill="none" stroke="#bcbcbc" stroke-width="3.6" stroke-linejoin="round" stroke-linecap="butt"/>
<polyline points="354.3,629.2 356.3,628.8 358.2,627.5 360.1,625.4 362.1,622.6 364,619 366,614.9 367.9,610.2 369.9,605.1 371.8,599.8 373.8,594.4 375.7,588.9 377.6,583.6 379.6,578.5 381.5,573.8 383.5,569.7 385.4,566.1 387.4,563.3 389.3,561.2 391.2,559.9 393.2,559.5 395.1,559.9 397.1,561.2 399,563.3 401,566.1 402.9,569.7 404.8,573.8 406.8,578.5 408.7,583.6 410.7,588.9 412.6,594.4 414.6,599.8 416.5,605.1 418.4,610.2 420.4,614.9 422.3,619 424.3,622.6 426.2,625.4 428.2,627.5 430.1,628.8 432,629.2" fill="none" stroke="#bcbcbc" stroke-width="3.6" stroke-linejoin="round" stroke-linecap="butt"/>
<polyline points="373.8,629.2 375.2,629 376.7,628.3 378.1,627.1 379.6,625.4 381,623.4 382.5,620.9 384,618 385.4,614.9 386.9,611.4 388.3,607.7 389.8,603.8 391.2,599.8 392.7,595.7 394.2,591.6 395.6,587.5 397.1,583.6 398.5,579.7 400,576.1 401.4,572.7 402.9,569.7 404.4,566.9 405.8,564.6 407.3,562.7 408.7,561.2 410.2,560.1 411.6,559.6 413.1,559.5 414.6,559.9 416,560.8 417.5,562.1 418.9,563.9 420.4,566.1 421.8,568.7 423.3,571.7 424.8,575 426.2,578.5 427.7,582.3 429.1,586.2 430.6,590.2 432,594.4" fill="none" stroke="#bcbcbc" stroke-width="3.6" stroke-linejoin="round" stroke-linecap="butt"/>
<polyline points="393.2,629.2 394.2,629.1 395.1,628.8 396.1,628.3 397.1,627.5 398,626.6 399,625.4 400,624.1 401,622.6 401.9,620.9 402.9,619 403.9,617 404.8,614.9 405.8,612.6 406.8,610.2 407.8,607.7 408.7,605.1 409.7,602.5 410.7,599.8 411.6,597.1 412.6,594.4 413.6,591.6 414.6,588.9 415.5,586.2 416.5,583.6 417.5,581 418.4,578.5 419.4,576.1 420.4,573.8 421.4,571.7 422.3,569.7 423.3,567.8 424.3,566.1 425.2,564.6 426.2,563.3 427.2,562.1 428.2,561.2 429.1,560.4 430.1,559.9 431.1,559.6 432,559.5" fill="none" stroke="#bcbcbc" stroke-width="3.6" stroke-linejoin="round" stroke-linecap="butt"/>
<polyline points="412.6,629.2 413.1,629.2 413.6,629.1 414.1,629 414.6,628.8 415,628.6 415.5,628.3 416,627.9 416.5,627.5 417,627.1 417.5,626.6 418,626 418.4,625.4 418.9,624.8 419.4,624.1 419.9,623.4 420.4,622.6 420.9,621.8 421.4,620.9 421.8,620 422.3,619 422.8,618 423.3,617 423.8,616 424.3,614.9 424.8,613.7 425.2,612.6 425.7,611.4 426.2,610.2 426.7,609 427.2,607.7 427.7,606.4 428.2,605.1 428.6,603.8 429.1,602.5 429.6,601.2 430.1,599.8 430.6,598.5 431.1,597.1 431.6,595.7 432,594.4" fill="none" stroke="#bcbcbc" stroke-width="3.6" stroke-linejoin="round" stroke-linecap="butt"/>
<line x1="276.6" y1="629.9" x2="432" y2="629.9" stroke="#bcbcbc" stroke-width="4.6"/>
<line x1="276.6" y1="558.5" x2="276.6" y2="631.1" stroke="#000" stroke-width="3.6"/>
<polyline points="296.1,593.2 315.7,626.2 335.2,630.5 354.7,630.5 374.2,630.5 393.8,626.2 413.3,593.2 432.8,560.2" fill="none" stroke="#000" stroke-width="3.6" stroke-linejoin="round" stroke-linecap="butt"/>
<line x1="432" y1="559.8" x2="432" y2="630" stroke="#dc2a1c" stroke-width="3.8"/>
<ellipse cx="296.1" cy="593.2" rx="12.8" ry="10.5" fill="#000"/>
<ellipse cx="315.7" cy="626.2" rx="12.8" ry="10.5" fill="#000"/>
<ellipse cx="335.2" cy="630.5" rx="12.8" ry="10.5" fill="#000"/>
<ellipse cx="354.7" cy="630.5" rx="12.8" ry="10.5" fill="#000"/>
<ellipse cx="374.2" cy="630.5" rx="12.8" ry="10.5" fill="#000"/>
<ellipse cx="393.8" cy="626.2" rx="12.8" ry="10.5" fill="#000"/>
<ellipse cx="413.3" cy="593.2" rx="12.8" ry="10.5" fill="#000"/>
<ellipse cx="432.8" cy="560.2" rx="12.8" ry="10.5" fill="#000"/>
<polyline points="276.6,691.9 277.1,693.3 277.6,694.6 278.1,696 278.5,697.4 279,698.7 279.5,700 280,701.4 280.5,702.7 281,704 281.5,705.3 281.9,706.5 282.4,707.7 282.9,709 283.4,710.1 283.9,711.3 284.4,712.4 284.9,713.5 285.3,714.6 285.8,715.6 286.3,716.6 286.8,717.5 287.3,718.4 287.8,719.3 288.3,720.1 288.7,720.9 289.2,721.7 289.7,722.4 290.2,723 290.7,723.6 291.2,724.1 291.7,724.6 292.1,725.1 292.6,725.5 293.1,725.8 293.6,726.1 294.1,726.4 294.6,726.6 295.1,726.7 295.5,726.8 296,726.8" fill="none" stroke="#bcbcbc" stroke-width="3.6" stroke-linejoin="round" stroke-linecap="butt"/>
<polyline points="276.6,657 277.6,657.1 278.5,657.4 279.5,658 280.5,658.7 281.5,659.7 282.4,660.8 283.4,662.1 284.4,663.7 285.3,665.4 286.3,667.2 287.3,669.2 288.3,671.4 289.2,673.7 290.2,676.1 291.2,678.5 292.1,681.1 293.1,683.8 294.1,686.4 295.1,689.2 296,691.9 297,694.6 298,697.4 298.9,700 299.9,702.7 300.9,705.3 301.9,707.7 302.8,710.1 303.8,712.4 304.8,714.6 305.7,716.6 306.7,718.4 307.7,720.1 308.7,721.7 309.6,723 310.6,724.1 311.6,725.1 312.5,725.8 313.5,726.4 314.5,726.7 315.5,726.8" fill="none" stroke="#bcbcbc" stroke-width="3.6" stroke-linejoin="round" stroke-linecap="butt"/>
<polyline points="276.6,691.9 278.1,687.8 279.5,683.8 281,679.8 282.4,676.1 283.9,672.5 285.3,669.2 286.8,666.3 288.3,663.7 289.7,661.4 291.2,659.7 292.6,658.3 294.1,657.4 295.5,657 297,657.1 298.5,657.7 299.9,658.7 301.4,660.2 302.8,662.1 304.3,664.5 305.7,667.2 307.2,670.3 308.7,673.7 310.1,677.3 311.6,681.1 313,685.1 314.5,689.2 315.9,693.3 317.4,697.4 318.9,701.4 320.3,705.3 321.8,709 323.2,712.4 324.7,715.6 326.1,718.4 327.6,720.9 329.1,723 330.5,724.6 332,725.8 333.4,726.6 334.9,726.8" fill="none" stroke="#bcbcbc" stroke-width="3.6" stroke-linejoin="round" stroke-linecap="butt"/>
<polyline points="276.6,726.8 278.5,726.4 280.5,725.1 282.4,723 284.4,720.1 286.3,716.6 288.3,712.4 290.2,707.7 292.1,702.7 294.1,697.4 296,691.9 298,686.4 299.9,681.1 301.9,676.1 303.8,671.4 305.7,667.2 307.7,663.7 309.6,660.8 311.6,658.7 313.5,657.4 315.5,657 317.4,657.4 319.3,658.7 321.3,660.8 323.2,663.7 325.2,667.2 327.1,671.4 329.1,676.1 331,681.1 332.9,686.4 334.9,691.9 336.8,697.4 338.8,702.7 340.7,707.7 342.7,712.4 344.6,716.6 346.5,720.1 348.5,723 350.4,725.1 352.4,726.4 354.3,726.8" fill="none" stroke="#bcbcbc" stroke-width="3.6" stroke-linejoin="round" stroke-linecap="butt"/>
<polyline points="296,726.8 298,726.4 299.9,725.1 301.9,723 303.8,720.1 305.7,716.6 307.7,712.4 309.6,707.7 311.6,702.7 313.5,697.4 315.5,691.9 317.4,686.4 319.3,681.1 321.3,676.1 323.2,671.4 325.2,667.2 327.1,663.7 329.1,660.8 331,658.7 332.9,657.4 334.9,657 336.8,657.4 338.8,658.7 340.7,660.8 342.7,663.7 344.6,667.2 346.5,671.4 348.5,676.1 350.4,681.1 352.4,686.4 354.3,691.9 356.3,697.4 358.2,702.7 360.1,707.7 362.1,712.4 364,716.6 366,720.1 367.9,723 369.9,725.1 371.8,726.4 373.8,726.8" fill="none" stroke="#bcbcbc" stroke-width="3.6" stroke-linejoin="round" stroke-linecap="butt"/>
<polyline points="315.5,726.8 317.4,726.4 319.3,725.1 321.3,723 323.2,720.1 325.2,716.6 327.1,712.4 329.1,707.7 331,702.7 332.9,697.4 334.9,691.9 336.8,686.4 338.8,681.1 340.7,676.1 342.7,671.4 344.6,667.2 346.5,663.7 348.5,660.8 350.4,658.7 352.4,657.4 354.3,657 356.3,657.4 358.2,658.7 360.1,660.8 362.1,663.7 364,667.2 366,671.4 367.9,676.1 369.9,681.1 371.8,686.4 373.8,691.9 375.7,697.4 377.6,702.7 379.6,707.7 381.5,712.4 383.5,716.6 385.4,720.1 387.4,723 389.3,725.1 391.2,726.4 393.2,726.8" fill="none" stroke="#bcbcbc" stroke-width="3.6" stroke-linejoin="round" stroke-linecap="butt"/>
<polyline points="334.9,726.8 336.8,726.4 338.8,725.1 340.7,723 342.7,720.1 344.6,716.6 346.5,712.4 348.5,707.7 350.4,702.7 352.4,697.4 354.3,691.9 356.3,686.4 358.2,681.1 360.1,676.1 362.1,671.4 364,667.2 366,663.7 367.9,660.8 369.9,658.7 371.8,657.4 373.8,657 375.7,657.4 377.6,658.7 379.6,660.8 381.5,663.7 383.5,667.2 385.4,671.4 387.4,676.1 389.3,681.1 391.2,686.4 393.2,691.9 395.1,697.4 397.1,702.7 399,707.7 401,712.4 402.9,716.6 404.8,720.1 406.8,723 408.7,725.1 410.7,726.4 412.6,726.8" fill="none" stroke="#bcbcbc" stroke-width="3.6" stroke-linejoin="round" stroke-linecap="butt"/>
<polyline points="354.3,726.8 356.3,726.4 358.2,725.1 360.1,723 362.1,720.1 364,716.6 366,712.4 367.9,707.7 369.9,702.7 371.8,697.4 373.8,691.9 375.7,686.4 377.6,681.1 379.6,676.1 381.5,671.4 383.5,667.2 385.4,663.7 387.4,660.8 389.3,658.7 391.2,657.4 393.2,657 395.1,657.4 397.1,658.7 399,660.8 401,663.7 402.9,667.2 404.8,671.4 406.8,676.1 408.7,681.1 410.7,686.4 412.6,691.9 414.6,697.4 416.5,702.7 418.4,707.7 420.4,712.4 422.3,716.6 424.3,720.1 426.2,723 428.2,725.1 430.1,726.4 432,726.8" fill="none" stroke="#bcbcbc" stroke-width="3.6" stroke-linejoin="round" stroke-linecap="butt"/>
<polyline points="373.8,726.8 375.2,726.6 376.7,725.8 378.1,724.6 379.6,723 381,720.9 382.5,718.4 384,715.6 385.4,712.4 386.9,709 388.3,705.3 389.8,701.4 391.2,697.4 392.7,693.3 394.2,689.2 395.6,685.1 397.1,681.1 398.5,677.3 400,673.7 401.4,670.3 402.9,667.2 404.4,664.5 405.8,662.1 407.3,660.2 408.7,658.7 410.2,657.7 411.6,657.1 413.1,657 414.6,657.4 416,658.3 417.5,659.7 418.9,661.4 420.4,663.7 421.8,666.3 423.3,669.2 424.8,672.5 426.2,676.1 427.7,679.8 429.1,683.8 430.6,687.8 432,691.9" fill="none" stroke="#bcbcbc" stroke-width="3.6" stroke-linejoin="round" stroke-linecap="butt"/>
<polyline points="393.2,726.8 394.2,726.7 395.1,726.4 396.1,725.8 397.1,725.1 398,724.1 399,723 400,721.7 401,720.1 401.9,718.4 402.9,716.6 403.9,714.6 404.8,712.4 405.8,710.1 406.8,707.7 407.8,705.3 408.7,702.7 409.7,700 410.7,697.4 411.6,694.6 412.6,691.9 413.6,689.2 414.6,686.4 415.5,683.8 416.5,681.1 417.5,678.5 418.4,676.1 419.4,673.7 420.4,671.4 421.4,669.2 422.3,667.2 423.3,665.4 424.3,663.7 425.2,662.1 426.2,660.8 427.2,659.7 428.2,658.7 429.1,658 430.1,657.4 431.1,657.1 432,657" fill="none" stroke="#bcbcbc" stroke-width="3.6" stroke-linejoin="round" stroke-linecap="butt"/>
<polyline points="412.6,726.8 413.1,726.8 413.6,726.7 414.1,726.6 414.6,726.4 415,726.1 415.5,725.8 416,725.5 416.5,725.1 417,724.6 417.5,724.1 418,723.6 418.4,723 418.9,722.4 419.4,721.7 419.9,720.9 420.4,720.1 420.9,719.3 421.4,718.4 421.8,717.5 422.3,716.6 422.8,715.6 423.3,714.6 423.8,713.5 424.3,712.4 424.8,711.3 425.2,710.1 425.7,709 426.2,707.7 426.7,706.5 427.2,705.3 427.7,704 428.2,702.7 428.6,701.4 429.1,700 429.6,698.7 430.1,697.4 430.6,696 431.1,694.6 431.6,693.3 432,691.9" fill="none" stroke="#bcbcbc" stroke-width="3.6" stroke-linejoin="round" stroke-linecap="butt"/>
<line x1="276.6" y1="727.4" x2="432" y2="727.4" stroke="#bcbcbc" stroke-width="4.6"/>
<line x1="276.6" y1="656" x2="276.6" y2="728.6" stroke="#000" stroke-width="3.6"/>
<polyline points="296.1,717.4 315.7,675.2 335.2,662.8 354.7,707 374.2,727.3 393.8,728 413.3,728 432.8,728" fill="none" stroke="#000" stroke-width="3.6" stroke-linejoin="round" stroke-linecap="butt"/>
<line x1="328.4" y1="657.3" x2="328.4" y2="727.5" stroke="#dc2a1c" stroke-width="3.8"/>
<ellipse cx="296.1" cy="717.4" rx="12.8" ry="10.5" fill="#000"/>
<ellipse cx="315.7" cy="675.2" rx="12.8" ry="10.5" fill="#000"/>
<ellipse cx="335.2" cy="662.8" rx="12.8" ry="10.5" fill="#000"/>
<ellipse cx="354.7" cy="707" rx="12.8" ry="10.5" fill="#000"/>
<ellipse cx="374.2" cy="727.3" rx="12.8" ry="10.5" fill="#000"/>
<ellipse cx="393.8" cy="728" rx="12.8" ry="10.5" fill="#000"/>
<ellipse cx="413.3" cy="728" rx="12.8" ry="10.5" fill="#000"/>
<ellipse cx="432.8" cy="728" rx="12.8" ry="10.5" fill="#000"/>
<polyline points="276.6,789.5 277.1,790.8 277.6,792.2 278.1,793.6 278.5,794.9 279,796.3 279.5,797.6 280,798.9 280.5,800.2 281,801.5 281.5,802.8 281.9,804.1 282.4,805.3 282.9,806.5 283.4,807.7 283.9,808.8 284.4,810 284.9,811.1 285.3,812.1 285.8,813.1 286.3,814.1 286.8,815.1 287.3,816 287.8,816.9 288.3,817.7 288.7,818.5 289.2,819.2 289.7,819.9 290.2,820.5 290.7,821.1 291.2,821.7 291.7,822.2 292.1,822.6 292.6,823 293.1,823.4 293.6,823.7 294.1,823.9 294.6,824.1 295.1,824.2 295.5,824.3 296,824.4" fill="none" stroke="#bcbcbc" stroke-width="3.6" stroke-linejoin="round" stroke-linecap="butt"/>
<polyline points="276.6,754.6 277.6,754.7 278.5,755 279.5,755.5 280.5,756.3 281.5,757.2 282.4,758.4 283.4,759.7 284.4,761.2 285.3,762.9 286.3,764.8 287.3,766.8 288.3,768.9 289.2,771.2 290.2,773.6 291.2,776.1 292.1,778.7 293.1,781.3 294.1,784 295.1,786.7 296,789.5 297,792.2 298,794.9 298.9,797.6 299.9,800.2 300.9,802.8 301.9,805.3 302.8,807.7 303.8,810 304.8,812.1 305.7,814.1 306.7,816 307.7,817.7 308.7,819.2 309.6,820.5 310.6,821.7 311.6,822.6 312.5,823.4 313.5,823.9 314.5,824.2 315.5,824.4" fill="none" stroke="#bcbcbc" stroke-width="3.6" stroke-linejoin="round" stroke-linecap="butt"/>
<polyline points="276.6,789.5 278.1,785.3 279.5,781.3 281,777.4 282.4,773.6 283.9,770.1 285.3,766.8 286.8,763.8 288.3,761.2 289.7,759 291.2,757.2 292.6,755.9 294.1,755 295.5,754.6 297,754.7 298.5,755.2 299.9,756.3 301.4,757.8 302.8,759.7 304.3,762 305.7,764.8 307.2,767.8 308.7,771.2 310.1,774.8 311.6,778.7 313,782.6 314.5,786.7 315.9,790.8 317.4,794.9 318.9,798.9 320.3,802.8 321.8,806.5 323.2,810 324.7,813.1 326.1,816 327.6,818.5 329.1,820.5 330.5,822.2 332,823.4 333.4,824.1 334.9,824.4" fill="none" stroke="#bcbcbc" stroke-width="3.6" stroke-linejoin="round" stroke-linecap="butt"/>
<polyline points="276.6,824.4 278.5,823.9 280.5,822.6 282.4,820.5 284.4,817.7 286.3,814.1 288.3,810 290.2,805.3 292.1,800.2 294.1,794.9 296,789.5 298,784 299.9,778.7 301.9,773.6 303.8,768.9 305.7,764.8 307.7,761.2 309.6,758.4 311.6,756.3 313.5,755 315.5,754.6 317.4,755 319.3,756.3 321.3,758.4 323.2,761.2 325.2,764.8 327.1,768.9 329.1,773.6 331,778.7 332.9,784 334.9,789.5 336.8,794.9 338.8,800.2 340.7,805.3 342.7,810 344.6,814.1 346.5,817.7 348.5,820.5 350.4,822.6 352.4,823.9 354.3,824.4" fill="none" stroke="#bcbcbc" stroke-width="3.6" stroke-linejoin="round" stroke-linecap="butt"/>
<polyline points="296,824.4 298,823.9 299.9,822.6 301.9,820.5 303.8,817.7 305.7,814.1 307.7,810 309.6,805.3 311.6,800.2 313.5,794.9 315.5,789.5 317.4,784 319.3,778.7 321.3,773.6 323.2,768.9 325.2,764.8 327.1,761.2 329.1,758.4 331,756.3 332.9,755 334.9,754.6 336.8,755 338.8,756.3 340.7,758.4 342.7,761.2 344.6,764.8 346.5,768.9 348.5,773.6 350.4,778.7 352.4,784 354.3,789.5 356.3,794.9 358.2,800.2 360.1,805.3 362.1,810 364,814.1 366,817.7 367.9,820.5 369.9,822.6 371.8,823.9 373.8,824.4" fill="none" stroke="#bcbcbc" stroke-width="3.6" stroke-linejoin="round" stroke-linecap="butt"/>
<polyline points="315.5,824.4 317.4,823.9 319.3,822.6 321.3,820.5 323.2,817.7 325.2,814.1 327.1,810 329.1,805.3 331,800.2 332.9,794.9 334.9,789.5 336.8,784 338.8,778.7 340.7,773.6 342.7,768.9 344.6,764.8 346.5,761.2 348.5,758.4 350.4,756.3 352.4,755 354.3,754.6 356.3,755 358.2,756.3 360.1,758.4 362.1,761.2 364,764.8 366,768.9 367.9,773.6 369.9,778.7 371.8,784 373.8,789.5 375.7,794.9 377.6,800.2 379.6,805.3 381.5,810 383.5,814.1 385.4,817.7 387.4,820.5 389.3,822.6 391.2,823.9 393.2,824.4" fill="none" stroke="#bcbcbc" stroke-width="3.6" stroke-linejoin="round" stroke-linecap="butt"/>
<polyline points="334.9,824.4 336.8,823.9 338.8,822.6 340.7,820.5 342.7,817.7 344.6,814.1 346.5,810 348.5,805.3 350.4,800.2 352.4,794.9 354.3,789.5 356.3,784 358.2,778.7 360.1,773.6 362.1,768.9 364,764.8 366,761.2 367.9,758.4 369.9,756.3 371.8,755 373.8,754.6 375.7,755 377.6,756.3 379.6,758.4 381.5,761.2 383.5,764.8 385.4,768.9 387.4,773.6 389.3,778.7 391.2,784 393.2,789.5 395.1,794.9 397.1,800.2 399,805.3 401,810 402.9,814.1 404.8,817.7 406.8,820.5 408.7,822.6 410.7,823.9 412.6,824.4" fill="none" stroke="#bcbcbc" stroke-width="3.6" stroke-linejoin="round" stroke-linecap="butt"/>
<polyline points="354.3,824.4 356.3,823.9 358.2,822.6 360.1,820.5 362.1,817.7 364,814.1 366,810 367.9,805.3 369.9,800.2 371.8,794.9 373.8,789.5 375.7,784 377.6,778.7 379.6,773.6 381.5,768.9 383.5,764.8 385.4,761.2 387.4,758.4 389.3,756.3 391.2,755 393.2,754.6 395.1,755 397.1,756.3 399,758.4 401,761.2 402.9,764.8 404.8,768.9 406.8,773.6 408.7,778.7 410.7,784 412.6,789.5 414.6,794.9 416.5,800.2 418.4,805.3 420.4,810 422.3,814.1 424.3,817.7 426.2,820.5 428.2,822.6 430.1,823.9 432,824.4" fill="none" stroke="#bcbcbc" stroke-width="3.6" stroke-linejoin="round" stroke-linecap="butt"/>
<polyline points="373.8,824.4 375.2,824.1 376.7,823.4 378.1,822.2 379.6,820.5 381,818.5 382.5,816 384,813.1 385.4,810 386.9,806.5 388.3,802.8 389.8,798.9 391.2,794.9 392.7,790.8 394.2,786.7 395.6,782.6 397.1,778.7 398.5,774.8 400,771.2 401.4,767.8 402.9,764.8 404.4,762 405.8,759.7 407.3,757.8 408.7,756.3 410.2,755.2 411.6,754.7 413.1,754.6 414.6,755 416,755.9 417.5,757.2 418.9,759 420.4,761.2 421.8,763.8 423.3,766.8 424.8,770.1 426.2,773.6 427.7,777.4 429.1,781.3 430.6,785.3 432,789.5" fill="none" stroke="#bcbcbc" stroke-width="3.6" stroke-linejoin="round" stroke-linecap="butt"/>
<polyline points="393.2,824.4 394.2,824.2 395.1,823.9 396.1,823.4 397.1,822.6 398,821.7 399,820.5 400,819.2 401,817.7 401.9,816 402.9,814.1 403.9,812.1 404.8,810 405.8,807.7 406.8,805.3 407.8,802.8 408.7,800.2 409.7,797.6 410.7,794.9 411.6,792.2 412.6,789.5 413.6,786.7 414.6,784 415.5,781.3 416.5,778.7 417.5,776.1 418.4,773.6 419.4,771.2 420.4,768.9 421.4,766.8 422.3,764.8 423.3,762.9 424.3,761.2 425.2,759.7 426.2,758.4 427.2,757.2 428.2,756.3 429.1,755.5 430.1,755 431.1,754.7 432,754.6" fill="none" stroke="#bcbcbc" stroke-width="3.6" stroke-linejoin="round" stroke-linecap="butt"/>
<polyline points="412.6,824.4 413.1,824.3 413.6,824.2 414.1,824.1 414.6,823.9 415,823.7 415.5,823.4 416,823 416.5,822.6 417,822.2 417.5,821.7 418,821.1 418.4,820.5 418.9,819.9 419.4,819.2 419.9,818.5 420.4,817.7 420.9,816.9 421.4,816 421.8,815.1 422.3,814.1 422.8,813.1 423.3,812.1 423.8,811.1 424.3,810 424.8,808.8 425.2,807.7 425.7,806.5 426.2,805.3 426.7,804.1 427.2,802.8 427.7,801.5 428.2,800.2 428.6,798.9 429.1,797.6 429.6,796.3 430.1,794.9 430.6,793.6 431.1,792.2 431.6,790.8 432,789.5" fill="none" stroke="#bcbcbc" stroke-width="3.6" stroke-linejoin="round" stroke-linecap="butt"/>
<line x1="276.6" y1="825" x2="432" y2="825" stroke="#bcbcbc" stroke-width="4.6"/>
<line x1="276.6" y1="753.6" x2="276.6" y2="826.2" stroke="#000" stroke-width="3.6"/>
<polyline points="296.1,814.9 315.7,772.8 335.2,760.4 354.7,804.6 374.2,824.8 393.8,825.6 413.3,825.6 432.8,825.6" fill="none" stroke="#000" stroke-width="3.6" stroke-linejoin="round" stroke-linecap="butt"/>
<line x1="328.4" y1="754.9" x2="328.4" y2="825.1" stroke="#dc2a1c" stroke-width="3.8"/>
<ellipse cx="296.1" cy="814.9" rx="12.8" ry="10.5" fill="#000"/>
<ellipse cx="315.7" cy="772.8" rx="12.8" ry="10.5" fill="#000"/>
<ellipse cx="335.2" cy="760.4" rx="12.8" ry="10.5" fill="#000"/>
<ellipse cx="354.7" cy="804.6" rx="12.8" ry="10.5" fill="#000"/>
<ellipse cx="374.2" cy="824.8" rx="12.8" ry="10.5" fill="#000"/>
<ellipse cx="393.8" cy="825.6" rx="12.8" ry="10.5" fill="#000"/>
<ellipse cx="413.3" cy="825.6" rx="12.8" ry="10.5" fill="#000"/>
<ellipse cx="432.8" cy="825.6" rx="12.8" ry="10.5" fill="#000"/>
<polyline points="276.6,887 277.1,888.4 277.6,889.7 278.1,891.1 278.5,892.5 279,893.8 279.5,895.1 280,896.5 280.5,897.8 281,899.1 281.5,900.4 281.9,901.6 282.4,902.8 282.9,904.1 283.4,905.2 283.9,906.4 284.4,907.5 284.9,908.6 285.3,909.7 285.8,910.7 286.3,911.7 286.8,912.6 287.3,913.5 287.8,914.4 288.3,915.2 288.7,916 289.2,916.8 289.7,917.5 290.2,918.1 290.7,918.7 291.2,919.2 291.7,919.7 292.1,920.2 292.6,920.6 293.1,920.9 293.6,921.2 294.1,921.5 294.6,921.7 295.1,921.8 295.5,921.9 296,921.9" fill="none" stroke="#bcbcbc" stroke-width="3.6" stroke-linejoin="round" stroke-linecap="butt"/>
<polyline points="276.6,852.1 277.6,852.2 278.5,852.5 279.5,853.1 280.5,853.8 281.5,854.8 282.4,855.9 283.4,857.2 284.4,858.8 285.3,860.5 286.3,862.3 287.3,864.3 288.3,866.5 289.2,868.8 290.2,871.2 291.2,873.6 292.1,876.2 293.1,878.9 294.1,881.5 295.1,884.3 296,887 297,889.7 298,892.5 298.9,895.1 299.9,897.8 300.9,900.4 301.9,902.8 302.8,905.2 303.8,907.5 304.8,909.7 305.7,911.7 306.7,913.5 307.7,915.2 308.7,916.8 309.6,918.1 310.6,919.2 311.6,920.2 312.5,920.9 313.5,921.5 314.5,921.8 315.5,921.9" fill="none" stroke="#bcbcbc" stroke-width="3.6" stroke-linejoin="round" stroke-linecap="butt"/>
<polyline points="276.6,887 278.1,882.9 279.5,878.9 281,874.9 282.4,871.2 283.9,867.6 285.3,864.3 286.8,861.4 288.3,858.8 289.7,856.5 291.2,854.8 292.6,853.4 294.1,852.5 295.5,852.1 297,852.2 298.5,852.8 299.9,853.8 301.4,855.3 302.8,857.2 304.3,859.6 305.7,862.3 307.2,865.4 308.7,868.8 310.1,872.4 311.6,876.2 313,880.2 314.5,884.3 315.9,888.4 317.4,892.5 318.9,896.5 320.3,900.4 321.8,904.1 323.2,907.5 324.7,910.7 326.1,913.5 327.6,916 329.1,918.1 330.5,919.7 332,920.9 333.4,921.7 334.9,921.9" fill="none" stroke="#bcbcbc" stroke-width="3.6" stroke-linejoin="round" stroke-linecap="butt"/>
<polyline points="276.6,921.9 278.5,921.5 280.5,920.2 282.4,918.1 284.4,915.2 286.3,911.7 288.3,907.5 290.2,902.8 292.1,897.8 294.1,892.5 296,887 298,881.5 299.9,876.2 301.9,871.2 303.8,866.5 305.7,862.3 307.7,858.8 309.6,855.9 311.6,853.8 313.5,852.5 315.5,852.1 317.4,852.5 319.3,853.8 321.3,855.9 323.2,858.8 325.2,862.3 327.1,866.5 329.1,871.2 331,876.2 332.9,881.5 334.9,887 336.8,892.5 338.8,897.8 340.7,902.8 342.7,907.5 344.6,911.7 346.5,915.2 348.5,918.1 350.4,920.2 352.4,921.5 354.3,921.9" fill="none" stroke="#bcbcbc" stroke-width="3.6" stroke-linejoin="round" stroke-linecap="butt"/>
<polyline points="296,921.9 298,921.5 299.9,920.2 301.9,918.1 303.8,915.2 305.7,911.7 307.7,907.5 309.6,902.8 311.6,897.8 313.5,892.5 315.5,887 317.4,881.5 319.3,876.2 321.3,871.2 323.2,866.5 325.2,862.3 327.1,858.8 329.1,855.9 331,853.8 332.9,852.5 334.9,852.1 336.8,852.5 338.8,853.8 340.7,855.9 342.7,858.8 344.6,862.3 346.5,866.5 348.5,871.2 350.4,876.2 352.4,881.5 354.3,887 356.3,892.5 358.2,897.8 360.1,902.8 362.1,907.5 364,911.7 366,915.2 367.9,918.1 369.9,920.2 371.8,921.5 373.8,921.9" fill="none" stroke="#bcbcbc" stroke-width="3.6" stroke-linejoin="round" stroke-linecap="butt"/>
<polyline points="315.5,921.9 317.4,921.5 319.3,920.2 321.3,918.1 323.2,915.2 325.2,911.7 327.1,907.5 329.1,902.8 331,897.8 332.9,892.5 334.9,887 336.8,881.5 338.8,876.2 340.7,871.2 342.7,866.5 344.6,862.3 346.5,858.8 348.5,855.9 350.4,853.8 352.4,852.5 354.3,852.1 356.3,852.5 358.2,853.8 360.1,855.9 362.1,858.8 364,862.3 366,866.5 367.9,871.2 369.9,876.2 371.8,881.5 373.8,887 375.7,892.5 377.6,897.8 379.6,902.8 381.5,907.5 383.5,911.7 385.4,915.2 387.4,918.1 389.3,920.2 391.2,921.5 393.2,921.9" fill="none" stroke="#bcbcbc" stroke-width="3.6" stroke-linejoin="round" stroke-linecap="butt"/>
<polyline points="334.9,921.9 336.8,921.5 338.8,920.2 340.7,918.1 342.7,915.2 344.6,911.7 346.5,907.5 348.5,902.8 350.4,897.8 352.4,892.5 354.3,887 356.3,881.5 358.2,876.2 360.1,871.2 362.1,866.5 364,862.3 366,858.8 367.9,855.9 369.9,853.8 371.8,852.5 373.8,852.1 375.7,852.5 377.6,853.8 379.6,855.9 381.5,858.8 383.5,862.3 385.4,866.5 387.4,871.2 389.3,876.2 391.2,881.5 393.2,887 395.1,892.5 397.1,897.8 399,902.8 401,907.5 402.9,911.7 404.8,915.2 406.8,918.1 408.7,920.2 410.7,921.5 412.6,921.9" fill="none" stroke="#bcbcbc" stroke-width="3.6" stroke-linejoin="round" stroke-linecap="butt"/>
<polyline points="354.3,921.9 356.3,921.5 358.2,920.2 360.1,918.1 362.1,915.2 364,911.7 366,907.5 367.9,902.8 369.9,897.8 371.8,892.5 373.8,887 375.7,881.5 377.6,876.2 379.6,871.2 381.5,866.5 383.5,862.3 385.4,858.8 387.4,855.9 389.3,853.8 391.2,852.5 393.2,852.1 395.1,852.5 397.1,853.8 399,855.9 401,858.8 402.9,862.3 404.8,866.5 406.8,871.2 408.7,876.2 410.7,881.5 412.6,887 414.6,892.5 416.5,897.8 418.4,902.8 420.4,907.5 422.3,911.7 424.3,915.2 426.2,918.1 428.2,920.2 430.1,921.5 432,921.9" fill="none" stroke="#bcbcbc" stroke-width="3.6" stroke-linejoin="round" stroke-linecap="butt"/>
<polyline points="373.8,921.9 375.2,921.7 376.7,920.9 378.1,919.7 379.6,918.1 381,916 382.5,913.5 384,910.7 385.4,907.5 386.9,904.1 388.3,900.4 389.8,896.5 391.2,892.5 392.7,888.4 394.2,884.3 395.6,880.2 397.1,876.2 398.5,872.4 400,868.8 401.4,865.4 402.9,862.3 404.4,859.6 405.8,857.2 407.3,855.3 408.7,853.8 410.2,852.8 411.6,852.2 413.1,852.1 414.6,852.5 416,853.4 417.5,854.8 418.9,856.5 420.4,858.8 421.8,861.4 423.3,864.3 424.8,867.6 426.2,871.2 427.7,874.9 429.1,878.9 430.6,882.9 432,887" fill="none" stroke="#bcbcbc" stroke-width="3.6" stroke-linejoin="round" stroke-linecap="butt"/>
<polyline points="393.2,921.9 394.2,921.8 395.1,921.5 396.1,920.9 397.1,920.2 398,919.2 399,918.1 400,916.8 401,915.2 401.9,913.5 402.9,911.7 403.9,909.7 404.8,907.5 405.8,905.2 406.8,902.8 407.8,900.4 408.7,897.8 409.7,895.1 410.7,892.5 411.6,889.7 412.6,887 413.6,884.3 414.6,881.5 415.5,878.9 416.5,876.2 417.5,873.6 418.4,871.2 419.4,868.8 420.4,866.5 421.4,864.3 422.3,862.3 423.3,860.5 424.3,858.8 425.2,857.2 426.2,855.9 427.2,854.8 428.2,853.8 429.1,853.1 430.1,852.5 431.1,852.2 432,852.1" fill="none" stroke="#bcbcbc" stroke-width="3.6" stroke-linejoin="round" stroke-linecap="butt"/>
<polyline points="412.6,921.9 413.1,921.9 413.6,921.8 414.1,921.7 414.6,921.5 415,921.2 415.5,920.9 416,920.6 416.5,920.2 417,919.7 417.5,919.2 418,918.7 418.4,918.1 418.9,917.5 419.4,916.8 419.9,916 420.4,915.2 420.9,914.4 421.4,913.5 421.8,912.6 422.3,911.7 422.8,910.7 423.3,909.7 423.8,908.6 424.3,907.5 424.8,906.4 425.2,905.2 425.7,904.1 426.2,902.8 426.7,901.6 427.2,900.4 427.7,899.1 428.2,897.8 428.6,896.5 429.1,895.1 429.6,893.8 430.1,892.5 430.6,891.1 431.1,889.7 431.6,888.4 432,887" fill="none" stroke="#bcbcbc" stroke-width="3.6" stroke-linejoin="round" stroke-linecap="butt"/>
<line x1="276.6" y1="922.5" x2="432" y2="922.5" stroke="#bcbcbc" stroke-width="4.6"/>
<line x1="276.6" y1="851.1" x2="276.6" y2="923.7" stroke="#000" stroke-width="3.6"/>
<polyline points="296.1,923.1 315.7,923.1 335.2,922.4 354.7,902.1 374.2,857.9 393.8,870.3 413.3,912.5 432.8,923.1" fill="none" stroke="#000" stroke-width="3.6" stroke-linejoin="round" stroke-linecap="butt"/>
<line x1="380.2" y1="852.4" x2="380.2" y2="922.6" stroke="#dc2a1c" stroke-width="3.8"/>
<ellipse cx="296.1" cy="923.1" rx="12.8" ry="10.5" fill="#000"/>
<ellipse cx="315.7" cy="923.1" rx="12.8" ry="10.5" fill="#000"/>
<ellipse cx="335.2" cy="922.4" rx="12.8" ry="10.5" fill="#000"/>
<ellipse cx="354.7" cy="902.1" rx="12.8" ry="10.5" fill="#000"/>
<ellipse cx="374.2" cy="857.9" rx="12.8" ry="10.5" fill="#000"/>
<ellipse cx="393.8" cy="870.3" rx="12.8" ry="10.5" fill="#000"/>
<ellipse cx="413.3" cy="912.5" rx="12.8" ry="10.5" fill="#000"/>
<ellipse cx="432.8" cy="923.1" rx="12.8" ry="10.5" fill="#000"/>
<line x1="432" y1="267.1" x2="432" y2="337.3" stroke="#dc2a1c" stroke-width="3.8"/>
<line x1="380.2" y1="364.7" x2="380.2" y2="434.9" stroke="#dc2a1c" stroke-width="3.8"/>
<line x1="406.1" y1="462.2" x2="406.1" y2="532.4" stroke="#dc2a1c" stroke-width="3.8"/>
<line x1="432" y1="559.8" x2="432" y2="630" stroke="#dc2a1c" stroke-width="3.8"/>
<line x1="328.4" y1="657.3" x2="328.4" y2="727.5" stroke="#dc2a1c" stroke-width="3.8"/>
<line x1="328.4" y1="754.9" x2="328.4" y2="825.1" stroke="#dc2a1c" stroke-width="3.8"/>
<line x1="380.2" y1="852.4" x2="380.2" y2="922.6" stroke="#dc2a1c" stroke-width="3.8"/>
<circle cx="478.7" cy="578.1" r="21.7" fill="none" stroke="#111" stroke-width="3.8"/>
<text x="477.2" y="588" font-size="31.5" text-anchor="middle">x</text>
<text x="279" y="967" font-size="39">0</text>
<text x="404.5" y="967" font-size="39">180</text>
<text x="391.5" y="1008.7" font-size="39" font-weight="bold" text-anchor="middle">Orientation</text>
<rect x="534.2" y="268" width="39.3" height="93.9" fill="#5b63b8"/>
<rect x="573" y="268" width="39.3" height="93.9" fill="#5a7fc1"/>
<rect x="611.8" y="268" width="39.3" height="93.9" fill="#5a7cc2"/>
<rect x="650.6" y="268" width="38.8" height="93.9" fill="#5470bb"/>
<rect x="534.2" y="361.4" width="39.3" height="94.4" fill="#5c87c4"/>
<rect x="573" y="361.4" width="39.3" height="94.4" fill="#f5e426"/>
<rect x="611.8" y="361.4" width="39.3" height="94.4" fill="#586bbb"/>
<rect x="650.6" y="361.4" width="38.8" height="94.4" fill="#5a7bc2"/>
<rect x="534.2" y="455.3" width="39.3" height="94.2" fill="#5a6cb9"/>
<rect x="573" y="455.3" width="39.3" height="94.2" fill="#5d5bb4"/>
<rect x="611.8" y="455.3" width="39.3" height="94.2" fill="#5032a0"/>
<rect x="650.6" y="455.3" width="38.8" height="94.2" fill="#5c5bb3"/>
<rect x="534.2" y="549" width="39.3" height="94.7" fill="#5c5cb6"/>
<rect x="573" y="549" width="39.3" height="94.7" fill="#5672bc"/>
<rect x="611.8" y="549" width="39.3" height="94.7" fill="#5a7ac2"/>
<rect x="650.6" y="549" width="38.8" height="94.7" fill="#5c5cb6"/>
<rect x="534.2" y="643.2" width="39.3" height="94.2" fill="#576bbb"/>
<rect x="573" y="643.2" width="39.3" height="94.2" fill="#5877c0"/>
<rect x="611.8" y="643.2" width="39.3" height="94.2" fill="#566bbc"/>
<rect x="650.6" y="643.2" width="38.8" height="94.2" fill="#5570bb"/>
<rect x="534.2" y="736.9" width="39.3" height="94.4" fill="#5c97cc"/>
<rect x="573" y="736.9" width="39.3" height="94.4" fill="#556eb9"/>
<rect x="611.8" y="736.9" width="39.3" height="94.4" fill="#586bbb"/>
<rect x="650.6" y="736.9" width="38.8" height="94.4" fill="#5570bb"/>
<rect x="534.2" y="830.8" width="39.3" height="92.9" fill="#5672bc"/>
<rect x="573" y="830.8" width="39.3" height="92.9" fill="#5a4eae"/>
<rect x="611.8" y="830.8" width="39.3" height="92.9" fill="#566dba"/>
<rect x="650.6" y="830.8" width="38.8" height="92.9" fill="#5a87c4"/>
<text x="554.7" y="966" font-size="39" text-anchor="middle">1</text>
<text x="596.8" y="966" font-size="39" text-anchor="middle">2</text>
<text x="635" y="966" font-size="39" text-anchor="middle">3</text>
<text x="673" y="966" font-size="39" text-anchor="middle">4</text>
<text x="616" y="1009.6" font-size="39" font-weight="bold" text-anchor="middle">Neuron</text>
<text x="807" y="260" font-size="38.2">Neuron 1</text>
<polyline points="786.8,277.4 786.8,390.8 955,390.8" fill="none" stroke="#000" stroke-width="3.4" stroke-linejoin="miter" stroke-linecap="butt"/>
<polyline points="805,330 823.6,383.3 842.9,377.4 861.5,278.7 880.2,346.7 899.4,371.3 918.1,338.2 936.8,391.6" fill="none" stroke="#000" stroke-width="3.4" stroke-linejoin="round" stroke-linecap="butt"/>
<ellipse cx="805" cy="330" rx="14" ry="11.3" fill="#000"/>
<ellipse cx="823.6" cy="383.3" rx="14" ry="11.3" fill="#000"/>
<ellipse cx="842.9" cy="377.4" rx="14" ry="11.3" fill="#000"/>
<ellipse cx="861.5" cy="278.7" rx="14" ry="11.3" fill="#000"/>
<ellipse cx="880.2" cy="346.7" rx="14" ry="11.3" fill="#000"/>
<ellipse cx="899.4" cy="371.3" rx="14" ry="11.3" fill="#000"/>
<ellipse cx="918.1" cy="338.2" rx="14" ry="11.3" fill="#000"/>
<ellipse cx="936.8" cy="391.6" rx="14" ry="11.3" fill="#000"/>
<text x="807" y="431.3" font-size="38.2">Neuron 2</text>
<polyline points="786.8,457 786.8,569.5 955,569.5" fill="none" stroke="#000" stroke-width="3.4" stroke-linejoin="miter" stroke-linecap="butt"/>
<polyline points="805,496.7 823.6,528.2 842.9,555.6 861.5,456.7 880.2,553 899.4,519.6 918.1,490 936.8,570.3" fill="none" stroke="#000" stroke-width="3.4" stroke-linejoin="round" stroke-linecap="butt"/>
<ellipse cx="805" cy="496.7" rx="14" ry="11.3" fill="#000"/>
<ellipse cx="823.6" cy="528.2" rx="14" ry="11.3" fill="#000"/>
<ellipse cx="842.9" cy="555.6" rx="14" ry="11.3" fill="#000"/>
<ellipse cx="861.5" cy="456.7" rx="14" ry="11.3" fill="#000"/>
<ellipse cx="880.2" cy="553" rx="14" ry="11.3" fill="#000"/>
<ellipse cx="899.4" cy="519.6" rx="14" ry="11.3" fill="#000"/>
<ellipse cx="918.1" cy="490" rx="14" ry="11.3" fill="#000"/>
<ellipse cx="936.8" cy="570.3" rx="14" ry="11.3" fill="#000"/>
<text x="807" y="616.6" font-size="38.2">Neuron 3</text>
<polyline points="786.8,636 786.8,749.4 955,749.4" fill="none" stroke="#000" stroke-width="3.4" stroke-linejoin="miter" stroke-linecap="butt"/>
<polyline points="805,676 823.6,651.5 842.9,749.4 861.5,702.2 880.2,697.4 899.4,635.5 918.1,730.8 936.8,725.4" fill="none" stroke="#000" stroke-width="3.4" stroke-linejoin="round" stroke-linecap="butt"/>
<ellipse cx="805" cy="676" rx="14" ry="11.3" fill="#000"/>
<ellipse cx="823.6" cy="651.5" rx="14" ry="11.3" fill="#000"/>
<ellipse cx="842.9" cy="749.4" rx="14" ry="11.3" fill="#000"/>
<ellipse cx="861.5" cy="702.2" rx="14" ry="11.3" fill="#000"/>
<ellipse cx="880.2" cy="697.4" rx="14" ry="11.3" fill="#000"/>
<ellipse cx="899.4" cy="635.5" rx="14" ry="11.3" fill="#000"/>
<ellipse cx="918.1" cy="730.8" rx="14" ry="11.3" fill="#000"/>
<ellipse cx="936.8" cy="725.4" rx="14" ry="11.3" fill="#000"/>
<text x="807" y="805" font-size="38.2">Neuron 4</text>
<polyline points="786.8,814.8 786.8,927.7 955,927.7" fill="none" stroke="#000" stroke-width="3.4" stroke-linejoin="miter" stroke-linecap="butt"/>
<polyline points="805,880.2 823.6,923.7 842.9,909.5 861.5,834.8 880.2,857.5 899.4,902.9 918.1,894 936.8,928.2" fill="none" stroke="#000" stroke-width="3.4" stroke-linejoin="round" stroke-linecap="butt"/>
<ellipse cx="805" cy="880.2" rx="14" ry="11.3" fill="#000"/>
<ellipse cx="823.6" cy="923.7" rx="14" ry="11.3" fill="#000"/>
<ellipse cx="842.9" cy="909.5" rx="14" ry="11.3" fill="#000"/>
<ellipse cx="861.5" cy="834.8" rx="14" ry="11.3" fill="#000"/>
<ellipse cx="880.2" cy="857.5" rx="14" ry="11.3" fill="#000"/>
<ellipse cx="899.4" cy="902.9" rx="14" ry="11.3" fill="#000"/>
<ellipse cx="918.1" cy="894" rx="14" ry="11.3" fill="#000"/>
<ellipse cx="936.8" cy="928.2" rx="14" ry="11.3" fill="#000"/>
<text x="777.5" y="966" font-size="39">0</text>
<text x="927.5" y="966" font-size="39">180</text>
<text x="879" y="1009.6" font-size="39" font-weight="bold" text-anchor="middle">Orientation</text>
</g>
<g id="panel-b">
<text x="1000.3" y="35.3" font-size="48.5" font-weight="bold">b</text>
<text x="1331" y="34" font-size="40.5" font-weight="bold" text-anchor="middle">Test</text>
<text transform="translate(1048.5 173) rotate(-45)" font-size="40" font-style="italic">Trial</text>
<text transform="translate(1153.3 213) rotate(-45)" font-size="39.5" font-style="italic">Orientation</text>
<text transform="translate(1320 202.7) rotate(-45)" font-size="39.5" font-style="italic">dF/F ( %)</text>
<text transform="translate(1532 187.5) rotate(-41)" font-size="39.5">Predicted</text>
<text transform="translate(1589 199.4) rotate(-41)" font-size="39.5">results</text>
<text x="1051.5" y="338.7" font-size="39">1</text>
<text x="1163.3" y="338.7" font-size="39">0</text>
<text x="1051.5" y="475.3" font-size="39">2</text>
<text x="1163.3" y="475.3" font-size="39">120</text>
<text x="1051.5" y="615.2" font-size="39">3</text>
<text x="1163.3" y="615.2" font-size="39">150</text>
<text x="1051.5" y="750.8" font-size="39">4</text>
<text x="1163.3" y="750.8" font-size="39">0</text>
<text x="1051.5" y="875.6" font-size="39">5</text>
<text x="1163.3" y="875.6" font-size="39">60</text>
<rect x="1249" y="268" width="39.5" height="129.9" fill="#5872bd"/>
<rect x="1288" y="268" width="39.5" height="129.9" fill="#5878c0"/>
<rect x="1326.9" y="268" width="39.5" height="129.9" fill="#5774bd"/>
<rect x="1365.8" y="268" width="39" height="129.9" fill="#5774be"/>
<rect x="1249" y="397.4" width="39.5" height="131.8" fill="#5876be"/>
<rect x="1288" y="397.4" width="39.5" height="131.8" fill="#5032a0"/>
<rect x="1326.9" y="397.4" width="39.5" height="131.8" fill="#5a7ac2"/>
<rect x="1365.8" y="397.4" width="39" height="131.8" fill="#5c5cb4"/>
<rect x="1249" y="528.7" width="39.5" height="131.3" fill="#5c60b7"/>
<rect x="1288" y="528.7" width="39.5" height="131.3" fill="#f5e426"/>
<rect x="1326.9" y="528.7" width="39.5" height="131.3" fill="#58a4d4"/>
<rect x="1365.8" y="528.7" width="39" height="131.3" fill="#5878c0"/>
<rect x="1249" y="659.5" width="39.5" height="130.5" fill="#5b69ba"/>
<rect x="1288" y="659.5" width="39.5" height="130.5" fill="#5671bc"/>
<rect x="1326.9" y="659.5" width="39.5" height="130.5" fill="#5671bc"/>
<rect x="1365.8" y="659.5" width="39" height="130.5" fill="#5673bd"/>
<rect x="1249" y="789.5" width="39.5" height="130.7" fill="#5875be"/>
<rect x="1288" y="789.5" width="39.5" height="130.7" fill="#5670bb"/>
<rect x="1326.9" y="789.5" width="39.5" height="130.7" fill="#5a80c3"/>
<rect x="1365.8" y="789.5" width="39" height="130.7" fill="#5c5cb6"/>
<text x="1271.6" y="966" font-size="39" text-anchor="middle">1</text>
<text x="1310.8" y="966" font-size="39" text-anchor="middle">2</text>
<text x="1341.5" y="966" font-size="39" text-anchor="middle">3</text>
<text x="1378.9" y="966" font-size="39" text-anchor="middle">4</text>
<text x="1339.3" y="1009.6" font-size="39" font-weight="bold" text-anchor="middle">Neuron</text>
<text transform="translate(1464.5 770) rotate(-90)" font-size="39" font-weight="bold" font-style="italic">Model response (a.u.)</text>
<polyline points="1530.2,299.2 1530.2,393.4 1710.8,393.4" fill="none" stroke="#000" stroke-width="3.4" stroke-linejoin="miter" stroke-linecap="butt"/>
<polyline points="1550.7,343.5 1570.7,320.8 1590.7,332.6 1610.7,354.2 1630.7,370.2 1650.8,391.5 1670.8,394.2 1691.3,372.1" fill="none" stroke="#000" stroke-width="3.4" stroke-linejoin="round" stroke-linecap="butt"/>
<ellipse cx="1550.7" cy="343.5" rx="10.7" ry="11.3" fill="#000"/>
<ellipse cx="1570.7" cy="320.8" rx="10.7" ry="11.3" fill="#000"/>
<ellipse cx="1590.7" cy="332.6" rx="10.7" ry="11.3" fill="#000"/>
<ellipse cx="1610.7" cy="354.2" rx="10.7" ry="11.3" fill="#000"/>
<ellipse cx="1630.7" cy="370.2" rx="10.7" ry="11.3" fill="#000"/>
<ellipse cx="1650.8" cy="391.5" rx="10.7" ry="11.3" fill="#000"/>
<ellipse cx="1670.8" cy="394.2" rx="10.7" ry="11.3" fill="#000"/>
<ellipse cx="1691.3" cy="372.1" rx="10.7" ry="11.3" fill="#000"/>
<line x1="1557.4" y1="311.5" x2="1557.4" y2="384" stroke="#000" stroke-width="3.6"/>
<line x1="1578.2" y1="311.5" x2="1578.2" y2="384" stroke="#dc2a1c" stroke-width="3.8"/>
<polyline points="1536,426.8 1536,520.1 1716.1,520.1" fill="none" stroke="#000" stroke-width="3.4" stroke-linejoin="miter" stroke-linecap="butt"/>
<polyline points="1556,471.3 1576,500.1 1596,520.7 1616,514.8 1636,505.5 1656,470.3 1676,448.9 1696.6,466.3" fill="none" stroke="#000" stroke-width="3.4" stroke-linejoin="round" stroke-linecap="butt"/>
<ellipse cx="1556" cy="471.3" rx="10.7" ry="11.3" fill="#000"/>
<ellipse cx="1576" cy="500.1" rx="10.7" ry="11.3" fill="#000"/>
<ellipse cx="1596" cy="520.7" rx="10.7" ry="11.3" fill="#000"/>
<ellipse cx="1616" cy="514.8" rx="10.7" ry="11.3" fill="#000"/>
<ellipse cx="1636" cy="505.5" rx="10.7" ry="11.3" fill="#000"/>
<ellipse cx="1656" cy="470.3" rx="10.7" ry="11.3" fill="#000"/>
<ellipse cx="1676" cy="448.9" rx="10.7" ry="11.3" fill="#000"/>
<ellipse cx="1696.6" cy="466.3" rx="10.7" ry="11.3" fill="#000"/>
<line x1="1669.7" y1="438.8" x2="1669.7" y2="512.1" stroke="#000" stroke-width="3.6"/>
<line x1="1685.2" y1="438.8" x2="1685.2" y2="512.1" stroke="#dc2a1c" stroke-width="3.8"/>
<polyline points="1536,556 1536,649.4 1716,649.4" fill="none" stroke="#000" stroke-width="3.4" stroke-linejoin="miter" stroke-linecap="butt"/>
<polyline points="1556,622.2 1576,647.5 1596,650.2 1616,625.9 1636,594.2 1656,577.4 1676,592.6 1696.6,608" fill="none" stroke="#000" stroke-width="3.4" stroke-linejoin="round" stroke-linecap="butt"/>
<ellipse cx="1556" cy="622.2" rx="10.7" ry="11.3" fill="#000"/>
<ellipse cx="1576" cy="647.5" rx="10.7" ry="11.3" fill="#000"/>
<ellipse cx="1596" cy="650.2" rx="10.7" ry="11.3" fill="#000"/>
<ellipse cx="1616" cy="625.9" rx="10.7" ry="11.3" fill="#000"/>
<ellipse cx="1636" cy="594.2" rx="10.7" ry="11.3" fill="#000"/>
<ellipse cx="1656" cy="577.4" rx="10.7" ry="11.3" fill="#000"/>
<ellipse cx="1676" cy="592.6" rx="10.7" ry="11.3" fill="#000"/>
<ellipse cx="1696.6" cy="608" rx="10.7" ry="11.3" fill="#000"/>
<line x1="1642.8" y1="567.5" x2="1642.8" y2="638.7" stroke="#000" stroke-width="3.6"/>
<line x1="1663.6" y1="567.5" x2="1663.6" y2="638.7" stroke="#dc2a1c" stroke-width="3.8"/>
<polyline points="1538.2,690.2 1538.2,784.1 1718.3,784.1" fill="none" stroke="#000" stroke-width="3.4" stroke-linejoin="miter" stroke-linecap="butt"/>
<polyline points="1558.2,778.8 1578.2,784.9 1598.2,770 1618.2,764.9 1638.8,754.8 1658.2,723.6 1678.8,715.6 1698.8,746" fill="none" stroke="#000" stroke-width="3.4" stroke-linejoin="round" stroke-linecap="butt"/>
<ellipse cx="1558.2" cy="778.8" rx="10.7" ry="11.3" fill="#000"/>
<ellipse cx="1578.2" cy="784.9" rx="10.7" ry="11.3" fill="#000"/>
<ellipse cx="1598.2" cy="770" rx="10.7" ry="11.3" fill="#000"/>
<ellipse cx="1618.2" cy="764.9" rx="10.7" ry="11.3" fill="#000"/>
<ellipse cx="1638.8" cy="754.8" rx="10.7" ry="11.3" fill="#000"/>
<ellipse cx="1658.2" cy="723.6" rx="10.7" ry="11.3" fill="#000"/>
<ellipse cx="1678.8" cy="715.6" rx="10.7" ry="11.3" fill="#000"/>
<ellipse cx="1698.8" cy="746" rx="10.7" ry="11.3" fill="#000"/>
<line x1="1564.8" y1="702.8" x2="1564.8" y2="774.8" stroke="#000" stroke-width="3.6"/>
<line x1="1667" y1="702.8" x2="1667" y2="780" stroke="#dc2a1c" stroke-width="3.8"/>
<polyline points="1536,825.5 1536,918.9 1716,918.9" fill="none" stroke="#000" stroke-width="3.4" stroke-linejoin="miter" stroke-linecap="butt"/>
<polyline points="1556,896.2 1576,848.2 1596,842.8 1616,873.5 1636,899.7 1656,914.3 1676,919.7 1696.6,916.7" fill="none" stroke="#000" stroke-width="3.4" stroke-linejoin="round" stroke-linecap="butt"/>
<ellipse cx="1556" cy="896.2" rx="10.7" ry="11.3" fill="#000"/>
<ellipse cx="1576" cy="848.2" rx="10.7" ry="11.3" fill="#000"/>
<ellipse cx="1596" cy="842.8" rx="10.7" ry="11.3" fill="#000"/>
<ellipse cx="1616" cy="873.5" rx="10.7" ry="11.3" fill="#000"/>
<ellipse cx="1636" cy="899.7" rx="10.7" ry="11.3" fill="#000"/>
<ellipse cx="1656" cy="914.3" rx="10.7" ry="11.3" fill="#000"/>
<ellipse cx="1676" cy="919.7" rx="10.7" ry="11.3" fill="#000"/>
<ellipse cx="1696.6" cy="916.7" rx="10.7" ry="11.3" fill="#000"/>
<line x1="1588.9" y1="838" x2="1588.9" y2="914.9" stroke="#000" stroke-width="3.6"/>
<line x1="1592.3" y1="838" x2="1592.3" y2="914.9" stroke="#dc2a1c" stroke-width="3.8"/>
<line x1="1720.7" y1="327.7" x2="1780.2" y2="327.7" stroke="#000" stroke-width="4.5"/>
<line x1="1727.6" y1="470" x2="1786.8" y2="470" stroke="#dc2a1c" stroke-width="8.5"/>
<text x="1807" y="325.9" font-size="39">Presented</text>
<text x="1806" y="372.6" font-size="39">orientation</text>
<text x="1814" y="468.1" font-size="39">Decoded</text>
<text x="1813" y="514.8" font-size="39">orientation</text>
<text x="1529.5" y="966.4" font-size="39">0</text>
<text x="1684.5" y="966.4" font-size="38.5">180</text>
<text x="1658" y="1009.6" font-size="39" font-weight="bold" text-anchor="middle">Orientation</text>
</g>
<g id="panel-c">
<text x="25.8" y="1111.7" font-size="48.5" font-weight="bold">c</text>
<text transform="translate(55.5 1553) rotate(-90)" font-size="39.3" font-weight="bold" font-style="italic">Trials ( % )</text>
<polyline points="149.3,1091 149.3,1443.3 550,1443.3" fill="none" stroke="#000" stroke-width="2.6" stroke-linejoin="miter" stroke-linecap="butt"/>
<line x1="149.3" y1="1092.3" x2="159.3" y2="1092.3" stroke="#000" stroke-width="2.6"/>
<line x1="149.3" y1="1198.5" x2="159.3" y2="1198.5" stroke="#000" stroke-width="2.6"/>
<line x1="149.3" y1="1303.2" x2="159.3" y2="1303.2" stroke="#000" stroke-width="2.6"/>
<line x1="149.3" y1="1408.8" x2="159.3" y2="1408.8" stroke="#000" stroke-width="2.6"/>
<line x1="169.3" y1="1443.3" x2="169.3" y2="1434.3" stroke="#000" stroke-width="2.6"/>
<line x1="348.8" y1="1443.3" x2="348.8" y2="1434.3" stroke="#000" stroke-width="2.6"/>
<line x1="529" y1="1443.3" x2="529" y2="1434.3" stroke="#000" stroke-width="2.6"/>
<polyline points="169,1346.6 172,1346.3 175,1345.9 178,1345.5 181.1,1345 184.1,1344.5 187.1,1343.9 190.1,1343.3 193.2,1342.7 196.2,1342 199.2,1341.3 202.2,1340.5 205.3,1339.6 208.3,1338.7 211.3,1337.7 214.3,1336.7 217.4,1335.6 220.4,1334.5 223.4,1333.3 226.4,1332 229.5,1330.6 232.5,1329.3 235.5,1327.8 238.5,1326.3 241.6,1324.7 244.6,1323.1 247.6,1321.5 250.6,1319.8 253.7,1318 256.7,1316.3 259.7,1314.5 262.7,1312.6 265.8,1310.8 268.8,1309 271.8,1307.1 274.8,1305.3 277.9,1303.5 280.9,1301.7 283.9,1299.9 286.9,1298.2 290,1296.5 293,1294.9 296,1293.4 299.1,1291.9 302.1,1290.5 305.1,1289.2 308.1,1288 311.2,1286.9 314.2,1286 317.2,1285.1 320.2,1284.4 323.3,1283.7 326.3,1283.2 329.3,1282.9 332.3,1282.7 335.4,1282.6 338.4,1282.7 341.4,1282.8 344.4,1283.2 347.5,1283.6 350.5,1284.2 353.5,1285 356.5,1285.8 359.6,1286.8 362.6,1287.8 365.6,1289 368.6,1290.3 371.7,1291.7 374.7,1293.1 377.7,1294.7 380.7,1296.3 383.8,1297.9 386.8,1299.6 389.8,1301.4 392.8,1303.2 395.9,1305 398.9,1306.8 401.9,1308.6 404.9,1310.5 408,1312.3 411,1314.1 414,1315.9 417.1,1317.7 420.1,1319.5 423.1,1321.2 426.1,1322.8 429.2,1324.4 432.2,1326 435.2,1327.5 438.2,1329 441.3,1330.4 444.3,1331.7 447.3,1333 450.3,1334.3 453.4,1335.4 456.4,1336.5 459.4,1337.6 462.4,1338.5 465.5,1339.5 468.5,1340.3 471.5,1341.1 474.5,1341.9 477.6,1342.6 480.6,1343.2 483.6,1343.8 486.6,1344.4 489.7,1344.9 492.7,1345.4 495.7,1345.8 498.7,1346.2 501.8,1346.6 504.8,1346.9 507.8,1347.2 510.8,1347.4 513.9,1347.7 516.9,1347.9 519.9,1348.1 522.9,1348.3 526,1348.4 529,1348.6" fill="none" stroke="#5c8bb5" stroke-width="3.9" stroke-linejoin="round" stroke-linecap="butt"/>
<ellipse cx="169" cy="1346.3" rx="10.5" ry="9" fill="#5c8bb5"/>
<ellipse cx="188.9" cy="1343.9" rx="10.5" ry="9" fill="#5c8bb5"/>
<ellipse cx="208.9" cy="1338" rx="10.5" ry="9" fill="#5c8bb5"/>
<ellipse cx="228.9" cy="1330.9" rx="10.5" ry="9" fill="#5c8bb5"/>
<ellipse cx="248.9" cy="1323.2" rx="10.5" ry="9" fill="#5c8bb5"/>
<ellipse cx="268.9" cy="1309.4" rx="10.5" ry="9" fill="#5c8bb5"/>
<ellipse cx="288.9" cy="1295.5" rx="10.5" ry="9" fill="#5c8bb5"/>
<ellipse cx="308.8" cy="1286.3" rx="10.5" ry="9" fill="#5c8bb5"/>
<ellipse cx="328.8" cy="1283.2" rx="10.5" ry="9" fill="#5c8bb5"/>
<ellipse cx="348.8" cy="1283.2" rx="10.5" ry="9" fill="#5c8bb5"/>
<ellipse cx="368.8" cy="1292.5" rx="10.5" ry="9" fill="#5c8bb5"/>
<ellipse cx="388.8" cy="1301.7" rx="10.5" ry="9" fill="#5c8bb5"/>
<ellipse cx="408.8" cy="1312.5" rx="10.5" ry="9" fill="#5c8bb5"/>
<ellipse cx="428.7" cy="1324.2" rx="10.5" ry="9" fill="#5c8bb5"/>
<ellipse cx="448.7" cy="1330.9" rx="10.5" ry="9" fill="#5c8bb5"/>
<ellipse cx="468.7" cy="1341.7" rx="10.5" ry="9" fill="#5c8bb5"/>
<ellipse cx="488.7" cy="1341.7" rx="10.5" ry="9" fill="#5c8bb5"/>
<ellipse cx="508.7" cy="1350" rx="10.5" ry="9" fill="#5c8bb5"/>
<polyline points="169,1355.3 172,1354.7 175,1354 178,1353.3 181.1,1352.5 184.1,1351.7 187.1,1350.8 190.1,1349.9 193.2,1348.9 196.2,1347.8 199.2,1346.7 202.2,1345.6 205.3,1344.3 208.3,1343.1 211.3,1341.7 214.3,1340.3 217.4,1338.8 220.4,1337.3 223.4,1335.7 226.4,1334.1 229.5,1332.4 232.5,1330.6 235.5,1328.8 238.5,1327 241.6,1325.1 244.6,1323.2 247.6,1321.2 250.6,1319.2 253.7,1317.2 256.7,1315.2 259.7,1313.2 262.7,1311.1 265.8,1309.1 268.8,1307 271.8,1305 274.8,1303 277.9,1301 280.9,1299.1 283.9,1297.2 286.9,1295.4 290,1293.6 293,1291.9 296,1290.2 299.1,1288.7 302.1,1287.2 305.1,1285.8 308.1,1284.5 311.2,1283.4 314.2,1282.3 317.2,1281.4 320.2,1280.5 323.3,1279.8 326.3,1279.3 329.3,1278.8 332.3,1278.5 335.4,1278.4 338.4,1278.4 341.4,1278.5 344.4,1278.7 347.5,1279.1 350.5,1279.6 353.5,1280.2 356.5,1281 359.6,1281.9 362.6,1282.9 365.6,1284 368.6,1285.3 371.7,1286.6 374.7,1288.1 377.7,1289.6 380.7,1291.2 383.8,1292.9 386.8,1294.6 389.8,1296.5 392.8,1298.3 395.9,1300.3 398.9,1302.2 401.9,1304.2 404.9,1306.2 408,1308.3 411,1310.3 414,1312.4 417.1,1314.4 420.1,1316.4 423.1,1318.5 426.1,1320.5 429.2,1322.4 432.2,1324.4 435.2,1326.3 438.2,1328.1 441.3,1329.9 444.3,1331.7 447.3,1333.4 450.3,1335.1 453.4,1336.7 456.4,1338.2 459.4,1339.7 462.4,1341.2 465.5,1342.5 468.5,1343.8 471.5,1345.1 474.5,1346.3 477.6,1347.4 480.6,1348.5 483.6,1349.5 486.6,1350.4 489.7,1351.3 492.7,1352.2 495.7,1353 498.7,1353.7 501.8,1354.4 504.8,1355.1 507.8,1355.7 510.8,1356.2 513.9,1356.7 516.9,1357.2 519.9,1357.7 522.9,1358.1 526,1358.4 529,1358.8" fill="none" stroke="#e8474a" stroke-width="3.9" stroke-linejoin="round" stroke-linecap="butt"/>
<ellipse cx="169" cy="1355.6" rx="10.5" ry="9" fill="#e8474a"/>
<ellipse cx="188.9" cy="1350.9" rx="10.5" ry="9" fill="#e8474a"/>
<ellipse cx="208.9" cy="1341.7" rx="10.5" ry="9" fill="#e8474a"/>
<ellipse cx="228.9" cy="1332.5" rx="10.5" ry="9" fill="#e8474a"/>
<ellipse cx="248.9" cy="1319.5" rx="10.5" ry="9" fill="#e8474a"/>
<ellipse cx="268.9" cy="1307.8" rx="10.5" ry="9" fill="#e8474a"/>
<ellipse cx="288.9" cy="1295.5" rx="10.5" ry="9" fill="#e8474a"/>
<ellipse cx="308.8" cy="1284.8" rx="10.5" ry="9" fill="#e8474a"/>
<ellipse cx="328.8" cy="1277.1" rx="10.5" ry="9" fill="#e8474a"/>
<ellipse cx="348.8" cy="1279.2" rx="10.5" ry="9" fill="#e8474a"/>
<ellipse cx="368.8" cy="1284.1" rx="10.5" ry="9" fill="#e8474a"/>
<ellipse cx="388.8" cy="1298.6" rx="10.5" ry="9" fill="#e8474a"/>
<ellipse cx="408.8" cy="1307.2" rx="10.5" ry="9" fill="#e8474a"/>
<ellipse cx="428.7" cy="1323.2" rx="10.5" ry="9" fill="#e8474a"/>
<ellipse cx="448.7" cy="1335.6" rx="10.5" ry="9" fill="#e8474a"/>
<ellipse cx="468.7" cy="1340.8" rx="10.5" ry="9" fill="#e8474a"/>
<ellipse cx="488.7" cy="1350.9" rx="10.5" ry="9" fill="#e8474a"/>
<ellipse cx="508.7" cy="1357.1" rx="10.5" ry="9" fill="#e8474a"/>
<polyline points="169,1363 172,1362.4 175,1361.7 178,1361 181.1,1360.3 184.1,1359.5 187.1,1358.6 190.1,1357.6 193.2,1356.5 196.2,1355.4 199.2,1354.2 202.2,1352.9 205.3,1351.5 208.3,1350.1 211.3,1348.5 214.3,1346.8 217.4,1345.1 220.4,1343.3 223.4,1341.3 226.4,1339.3 229.5,1337.2 232.5,1335 235.5,1332.7 238.5,1330.3 241.6,1327.8 244.6,1325.3 247.6,1322.7 250.6,1320 253.7,1317.3 256.7,1314.5 259.7,1311.7 262.7,1308.9 265.8,1306 268.8,1303.2 271.8,1300.3 274.8,1297.5 277.9,1294.7 280.9,1291.9 283.9,1289.2 286.9,1286.5 290,1284 293,1281.5 296,1279.1 299.1,1276.9 302.1,1274.7 305.1,1272.8 308.1,1270.9 311.2,1269.3 314.2,1267.8 317.2,1266.5 320.2,1265.4 323.3,1264.4 326.3,1263.7 329.3,1263.2 332.3,1262.9 335.4,1262.8 338.4,1262.9 341.4,1263.2 344.4,1263.7 347.5,1264.5 350.5,1265.4 353.5,1266.5 356.5,1267.9 359.6,1269.4 362.6,1271 365.6,1272.9 368.6,1274.8 371.7,1277 374.7,1279.2 377.7,1281.6 380.7,1284.1 383.8,1286.7 386.8,1289.3 389.8,1292 392.8,1294.8 395.9,1297.6 398.9,1300.5 401.9,1303.3 404.9,1306.2 408,1309 411,1311.9 414,1314.7 417.1,1317.4 420.1,1320.1 423.1,1322.8 426.1,1325.4 429.2,1327.9 432.2,1330.4 435.2,1332.8 438.2,1335.1 441.3,1337.3 444.3,1339.4 447.3,1341.4 450.3,1343.3 453.4,1345.2 456.4,1346.9 459.4,1348.6 462.4,1350.1 465.5,1351.6 468.5,1353 471.5,1354.3 474.5,1355.5 477.6,1356.6 480.6,1357.6 483.6,1358.6 486.6,1359.5 489.7,1360.3 492.7,1361.1 495.7,1361.8 498.7,1362.4 501.8,1363 504.8,1363.5 507.8,1364 510.8,1364.5 513.9,1364.9 516.9,1365.2 519.9,1365.5 522.9,1365.8 526,1366.1 529,1366.3" fill="none" stroke="#85d45b" stroke-width="3.9" stroke-linejoin="round" stroke-linecap="butt"/>
<ellipse cx="169" cy="1365.7" rx="10.5" ry="9" fill="#85d45b"/>
<ellipse cx="188.9" cy="1358" rx="10.5" ry="9" fill="#85d45b"/>
<ellipse cx="208.9" cy="1346.3" rx="10.5" ry="9" fill="#85d45b"/>
<ellipse cx="228.9" cy="1337.1" rx="10.5" ry="9" fill="#85d45b"/>
<ellipse cx="248.9" cy="1321.1" rx="10.5" ry="9" fill="#85d45b"/>
<ellipse cx="268.9" cy="1304.2" rx="10.5" ry="9" fill="#85d45b"/>
<ellipse cx="288.9" cy="1290.3" rx="10.5" ry="9" fill="#85d45b"/>
<ellipse cx="308.8" cy="1269.4" rx="10.5" ry="9" fill="#85d45b"/>
<ellipse cx="328.8" cy="1255.8" rx="10.5" ry="9" fill="#85d45b"/>
<ellipse cx="348.8" cy="1268.7" rx="10.5" ry="9" fill="#85d45b"/>
<ellipse cx="368.8" cy="1274" rx="10.5" ry="9" fill="#85d45b"/>
<ellipse cx="388.8" cy="1291.5" rx="10.5" ry="9" fill="#85d45b"/>
<ellipse cx="408.8" cy="1313.1" rx="10.5" ry="9" fill="#85d45b"/>
<ellipse cx="428.7" cy="1328.8" rx="10.5" ry="9" fill="#85d45b"/>
<ellipse cx="448.7" cy="1340.2" rx="10.5" ry="9" fill="#85d45b"/>
<ellipse cx="468.7" cy="1347.9" rx="10.5" ry="9" fill="#85d45b"/>
<ellipse cx="488.7" cy="1359.6" rx="10.5" ry="9" fill="#85d45b"/>
<ellipse cx="508.7" cy="1367.9" rx="10.5" ry="9" fill="#85d45b"/>
<text x="138.5" y="1101" font-size="39" text-anchor="end">12</text>
<text x="138.5" y="1206.2" font-size="39" text-anchor="end">9</text>
<text x="138.5" y="1311.8" font-size="39" text-anchor="end">6</text>
<text x="138.5" y="1416.5" font-size="39" text-anchor="end">3</text>
<text x="556" y="1179.5" font-size="39.3" font-weight="bold" text-anchor="end">Circular mean</text>
<text x="159" y="1255.5" font-size="39.5" font-weight="bold">N = 50</text>
<text x="551.5" y="1231.5" font-size="39" text-anchor="end" fill="#5c8bb5">0.08</text>
<text x="551.5" y="1270.3" font-size="39" text-anchor="end" fill="#e8474a">0.10</text>
<text x="551.5" y="1308.8" font-size="39" text-anchor="end" fill="#85d45b">0.13</text>
<polyline points="152.4,1504.9 152.4,1856.6 553.6,1856.6" fill="none" stroke="#000" stroke-width="2.6" stroke-linejoin="miter" stroke-linecap="butt"/>
<line x1="152.4" y1="1506.2" x2="162.4" y2="1506.2" stroke="#000" stroke-width="2.6"/>
<line x1="152.4" y1="1611.5" x2="162.4" y2="1611.5" stroke="#000" stroke-width="2.6"/>
<line x1="152.4" y1="1716.2" x2="162.4" y2="1716.2" stroke="#000" stroke-width="2.6"/>
<line x1="152.4" y1="1820.8" x2="162.4" y2="1820.8" stroke="#000" stroke-width="2.6"/>
<line x1="172.4" y1="1856.6" x2="172.4" y2="1847.6" stroke="#000" stroke-width="2.6"/>
<line x1="352.5" y1="1856.6" x2="352.5" y2="1847.6" stroke="#000" stroke-width="2.6"/>
<line x1="532.6" y1="1856.6" x2="532.6" y2="1847.6" stroke="#000" stroke-width="2.6"/>
<polyline points="172.4,1810.6 175.4,1810 178.5,1809.5 181.5,1808.8 184.5,1808 187.5,1807.2 190.6,1806.3 193.6,1805.2 196.6,1804 199.6,1802.7 202.7,1801.3 205.7,1799.6 208.7,1797.9 211.7,1795.9 214.8,1793.8 217.8,1791.5 220.8,1788.9 223.9,1786.2 226.9,1783.2 229.9,1780 232.9,1776.6 236,1772.9 239,1769 242,1764.9 245,1760.5 248.1,1755.9 251.1,1751 254.1,1745.9 257.2,1740.6 260.2,1735.1 263.2,1729.4 266.2,1723.6 269.3,1717.6 272.3,1711.4 275.3,1705.2 278.3,1698.9 281.4,1692.5 284.4,1686.1 287.4,1679.8 290.4,1673.5 293.5,1667.3 296.5,1661.3 299.5,1655.4 302.6,1649.8 305.6,1644.4 308.6,1639.3 311.6,1634.5 314.7,1630.1 317.7,1626.1 320.7,1622.5 323.7,1619.3 326.8,1616.6 329.8,1614.5 332.8,1612.8 335.9,1611.7 338.9,1611.1 341.9,1611 344.9,1611.5 348,1612.6 351,1614.1 354,1616.2 357,1618.8 360.1,1621.8 363.1,1625.4 366.1,1629.3 369.1,1633.7 372.2,1638.4 375.2,1643.4 378.2,1648.8 381.3,1654.4 384.3,1660.2 387.3,1666.2 390.3,1672.4 393.4,1678.6 396.4,1685 399.4,1691.3 402.4,1697.7 405.5,1704 408.5,1710.3 411.5,1716.4 414.6,1722.5 417.6,1728.4 420.6,1734.1 423.6,1739.6 426.7,1745 429.7,1750.1 432.7,1755 435.7,1759.7 438.8,1764.1 441.8,1768.3 444.8,1772.3 447.8,1776 450.9,1779.4 453.9,1782.7 456.9,1785.7 460,1788.5 463,1791 466,1793.4 469,1795.6 472.1,1797.5 475.1,1799.3 478.1,1801 481.1,1802.5 484.2,1803.8 487.2,1805 490.2,1806.1 493.3,1807 496.3,1807.9 499.3,1808.7 502.3,1809.3 505.4,1809.9 508.4,1810.5 511.4,1810.9 514.4,1811.3 517.5,1811.7 520.5,1812 523.5,1812.3 526.5,1812.5 529.6,1812.7 532.6,1812.9" fill="none" stroke="#5c8bb5" stroke-width="3.9" stroke-linejoin="round" stroke-linecap="butt"/>
<ellipse cx="172.4" cy="1812.5" rx="10.5" ry="7.8" fill="#5c8bb5"/>
<ellipse cx="192.4" cy="1804.2" rx="10.5" ry="7.8" fill="#5c8bb5"/>
<ellipse cx="212.4" cy="1793.1" rx="10.5" ry="7.8" fill="#5c8bb5"/>
<ellipse cx="232.4" cy="1777.1" rx="10.5" ry="7.8" fill="#5c8bb5"/>
<ellipse cx="252.4" cy="1747.9" rx="10.5" ry="7.8" fill="#5c8bb5"/>
<ellipse cx="272.5" cy="1711.8" rx="10.5" ry="7.8" fill="#5c8bb5"/>
<ellipse cx="292.5" cy="1672.4" rx="10.5" ry="7.8" fill="#5c8bb5"/>
<ellipse cx="312.5" cy="1631.8" rx="10.5" ry="7.8" fill="#5c8bb5"/>
<ellipse cx="332.5" cy="1613.3" rx="10.5" ry="7.8" fill="#5c8bb5"/>
<ellipse cx="352.5" cy="1610.2" rx="10.5" ry="7.8" fill="#5c8bb5"/>
<ellipse cx="372.5" cy="1643.2" rx="10.5" ry="7.8" fill="#5c8bb5"/>
<ellipse cx="392.5" cy="1678" rx="10.5" ry="7.8" fill="#5c8bb5"/>
<ellipse cx="412.5" cy="1717.1" rx="10.5" ry="7.8" fill="#5c8bb5"/>
<ellipse cx="432.5" cy="1755.6" rx="10.5" ry="7.8" fill="#5c8bb5"/>
<ellipse cx="452.6" cy="1778.7" rx="10.5" ry="7.8" fill="#5c8bb5"/>
<ellipse cx="472.6" cy="1798.1" rx="10.5" ry="7.8" fill="#5c8bb5"/>
<ellipse cx="492.6" cy="1808.5" rx="10.5" ry="7.8" fill="#5c8bb5"/>
<ellipse cx="512.6" cy="1811.9" rx="10.5" ry="7.8" fill="#5c8bb5"/>
<polyline points="172.4,1834.6 175.4,1833.8 178.5,1832.9 181.5,1831.8 184.5,1830.7 187.5,1829.4 190.6,1828 193.6,1826.4 196.6,1824.6 199.6,1822.7 202.7,1820.6 205.7,1818.3 208.7,1815.7 211.7,1813 214.8,1810 217.8,1806.7 220.8,1803.2 223.9,1799.5 226.9,1795.4 229.9,1791.1 232.9,1786.5 236,1781.6 239,1776.5 242,1771 245,1765.3 248.1,1759.3 251.1,1753 254.1,1746.5 257.2,1739.7 260.2,1732.7 263.2,1725.6 266.2,1718.2 269.3,1710.7 272.3,1703.1 275.3,1695.3 278.3,1687.6 281.4,1679.8 284.4,1672 287.4,1664.3 290.4,1656.7 293.5,1649.2 296.5,1641.9 299.5,1634.9 302.6,1628.1 305.6,1621.7 308.6,1615.6 311.6,1609.9 314.7,1604.7 317.7,1599.9 320.7,1595.7 323.7,1592 326.8,1588.9 329.8,1586.3 332.8,1584.4 335.9,1583.1 338.9,1582.4 341.9,1582.4 344.9,1583 348,1584.3 351,1586.1 354,1588.6 357,1591.7 360.1,1595.3 363.1,1599.5 366.1,1604.3 369.1,1609.5 372.2,1615.1 375.2,1621.1 378.2,1627.6 381.3,1634.3 384.3,1641.3 387.3,1648.6 390.3,1656 393.4,1663.6 396.4,1671.3 399.4,1679.1 402.4,1686.9 405.5,1694.7 408.5,1702.4 411.5,1710.1 414.6,1717.6 417.6,1724.9 420.6,1732.1 423.6,1739.2 426.7,1745.9 429.7,1752.5 432.7,1758.8 435.7,1764.8 438.8,1770.6 441.8,1776 444.8,1781.2 447.8,1786.1 450.9,1790.8 453.9,1795.1 456.9,1799.2 460,1802.9 463,1806.5 466,1809.7 469,1812.7 472.1,1815.5 475.1,1818.1 478.1,1820.4 481.1,1822.5 484.2,1824.5 487.2,1826.3 490.2,1827.8 493.3,1829.3 496.3,1830.6 499.3,1831.7 502.3,1832.8 505.4,1833.7 508.4,1834.5 511.4,1835.3 514.4,1835.9 517.5,1836.5 520.5,1837 523.5,1837.4 526.5,1837.8 529.6,1838.2 532.6,1838.5" fill="none" stroke="#e8474a" stroke-width="3.9" stroke-linejoin="round" stroke-linecap="butt"/>
<ellipse cx="172.4" cy="1834.1" rx="10.5" ry="7.8" fill="#e8474a"/>
<ellipse cx="192.4" cy="1829.5" rx="10.5" ry="7.8" fill="#e8474a"/>
<ellipse cx="212.4" cy="1814.1" rx="10.5" ry="7.8" fill="#e8474a"/>
<ellipse cx="232.4" cy="1784.8" rx="10.5" ry="7.8" fill="#e8474a"/>
<ellipse cx="252.4" cy="1750.3" rx="10.5" ry="7.8" fill="#e8474a"/>
<ellipse cx="272.5" cy="1701.7" rx="10.5" ry="7.8" fill="#e8474a"/>
<ellipse cx="292.5" cy="1654" rx="10.5" ry="7.8" fill="#e8474a"/>
<ellipse cx="312.5" cy="1610.9" rx="10.5" ry="7.8" fill="#e8474a"/>
<ellipse cx="332.5" cy="1580.1" rx="10.5" ry="7.8" fill="#e8474a"/>
<ellipse cx="352.5" cy="1583.8" rx="10.5" ry="7.8" fill="#e8474a"/>
<ellipse cx="372.5" cy="1621.6" rx="10.5" ry="7.8" fill="#e8474a"/>
<ellipse cx="392.5" cy="1660.1" rx="10.5" ry="7.8" fill="#e8474a"/>
<ellipse cx="412.5" cy="1717.1" rx="10.5" ry="7.8" fill="#e8474a"/>
<ellipse cx="432.5" cy="1755.6" rx="10.5" ry="7.8" fill="#e8474a"/>
<ellipse cx="452.6" cy="1787.9" rx="10.5" ry="7.8" fill="#e8474a"/>
<ellipse cx="472.6" cy="1816.5" rx="10.5" ry="7.8" fill="#e8474a"/>
<ellipse cx="492.6" cy="1831.9" rx="10.5" ry="7.8" fill="#e8474a"/>
<ellipse cx="512.6" cy="1834.1" rx="10.5" ry="7.8" fill="#e8474a"/>
<polyline points="172.4,1847.3 175.4,1846.9 178.5,1846.5 181.5,1846 184.5,1845.4 187.5,1844.8 190.6,1844 193.6,1843.1 196.6,1842.1 199.6,1840.9 202.7,1839.5 205.7,1838 208.7,1836.2 211.7,1834.2 214.8,1831.9 217.8,1829.4 220.8,1826.5 223.9,1823.3 226.9,1819.8 229.9,1815.8 232.9,1811.5 236,1806.8 239,1801.6 242,1795.9 245,1789.8 248.1,1783.2 251.1,1776.1 254.1,1768.6 257.2,1760.5 260.2,1751.9 263.2,1742.9 266.2,1733.5 269.3,1723.6 272.3,1713.3 275.3,1702.7 278.3,1691.8 281.4,1680.7 284.4,1669.4 287.4,1657.9 290.4,1646.4 293.5,1635 296.5,1623.7 299.5,1612.6 302.6,1601.7 305.6,1591.3 308.6,1581.3 311.6,1571.9 314.7,1563.1 317.7,1555 320.7,1547.8 323.7,1541.4 326.8,1535.9 329.8,1531.4 332.8,1527.9 335.9,1525.5 338.9,1524.2 341.9,1524 344.9,1524.9 348,1526.8 351,1529.9 354,1534 357,1539 360.1,1545.1 363.1,1552 366.1,1559.8 369.1,1568.3 372.2,1577.4 375.2,1587.2 378.2,1597.5 381.3,1608.1 384.3,1619.2 387.3,1630.4 390.3,1641.8 393.4,1653.3 396.4,1664.7 399.4,1676.1 402.4,1687.3 405.5,1698.4 408.5,1709.1 411.5,1719.5 414.6,1729.5 417.6,1739.2 420.6,1748.4 423.6,1757.1 426.7,1765.4 429.7,1773.1 432.7,1780.4 435.7,1787.2 438.8,1793.5 441.8,1799.4 444.8,1804.7 447.8,1809.7 450.9,1814.1 453.9,1818.2 456.9,1821.9 460,1825.3 463,1828.2 466,1830.9 469,1833.3 472.1,1835.4 475.1,1837.3 478.1,1838.9 481.1,1840.4 484.2,1841.6 487.2,1842.7 490.2,1843.7 493.3,1844.5 496.3,1845.2 499.3,1845.8 502.3,1846.3 505.4,1846.7 508.4,1847.1 511.4,1847.4 514.4,1847.7 517.5,1847.9 520.5,1848.1 523.5,1848.3 526.5,1848.4 529.6,1848.5 532.6,1848.6" fill="none" stroke="#85d45b" stroke-width="3.9" stroke-linejoin="round" stroke-linecap="butt"/>
<ellipse cx="172.4" cy="1852.5" rx="10.5" ry="7.8" fill="#85d45b"/>
<ellipse cx="192.4" cy="1838.7" rx="10.5" ry="7.8" fill="#85d45b"/>
<ellipse cx="212.4" cy="1827.9" rx="10.5" ry="7.8" fill="#85d45b"/>
<ellipse cx="232.4" cy="1811.9" rx="10.5" ry="7.8" fill="#85d45b"/>
<ellipse cx="252.4" cy="1774" rx="10.5" ry="7.8" fill="#85d45b"/>
<ellipse cx="272.5" cy="1706.3" rx="10.5" ry="7.8" fill="#85d45b"/>
<ellipse cx="292.5" cy="1640.1" rx="10.5" ry="7.8" fill="#85d45b"/>
<ellipse cx="312.5" cy="1577" rx="10.5" ry="7.8" fill="#85d45b"/>
<ellipse cx="332.5" cy="1533" rx="10.5" ry="7.8" fill="#85d45b"/>
<ellipse cx="352.5" cy="1517" rx="10.5" ry="7.8" fill="#85d45b"/>
<ellipse cx="372.5" cy="1581.6" rx="10.5" ry="7.8" fill="#85d45b"/>
<ellipse cx="392.5" cy="1653" rx="10.5" ry="7.8" fill="#85d45b"/>
<ellipse cx="412.5" cy="1725.4" rx="10.5" ry="7.8" fill="#85d45b"/>
<ellipse cx="432.5" cy="1780.2" rx="10.5" ry="7.8" fill="#85d45b"/>
<ellipse cx="452.6" cy="1814.1" rx="10.5" ry="7.8" fill="#85d45b"/>
<ellipse cx="472.6" cy="1835" rx="10.5" ry="7.8" fill="#85d45b"/>
<ellipse cx="492.6" cy="1847.9" rx="10.5" ry="7.8" fill="#85d45b"/>
<ellipse cx="512.6" cy="1850.4" rx="10.5" ry="7.8" fill="#85d45b"/>
<text x="142.5" y="1514.8" font-size="39" text-anchor="end">12</text>
<text x="142.5" y="1619.5" font-size="39" text-anchor="end">9</text>
<text x="142.5" y="1724.2" font-size="39" text-anchor="end">6</text>
<text x="142.5" y="1828.8" font-size="39" text-anchor="end">3</text>
<text x="159" y="1535.4" font-size="39.4" font-weight="bold">N = 500</text>
<text x="517.5" y="1545.6" font-size="39" text-anchor="end" fill="#5c8bb5">0.25</text>
<text x="517.5" y="1580" font-size="39" text-anchor="end" fill="#e8474a">0.32</text>
<text x="517.5" y="1614.9" font-size="39" text-anchor="end" fill="#85d45b">0.40</text>
<text x="147" y="1902.7" font-size="39">-90</text>
<text x="356.2" y="1902.7" font-size="39" text-anchor="middle">0</text>
<text x="539.5" y="1902.7" font-size="39" text-anchor="middle">90</text>
<text x="-1" y="1943.6" font-size="39.2" font-weight="bold">Orientation error (Presented-decoded)</text>
</g>
<g id="panel-d">
<text x="587.3" y="1111.7" font-size="48.5" font-weight="bold">d</text>
<text transform="translate(692.8 1785) rotate(-90)" font-size="39" font-weight="bold" font-style="italic" style="white-space:pre">Decoding accuracy  ( circular mean)</text>
<clipPath id="clipd"><rect x="794" y="1100" width="518.6" height="740"/></clipPath>
<g clip-path="url(#clipd)">
<polygon points="792.9,1825.9 794.2,1826 795.5,1826.1 796.8,1826.3 798.1,1826.5 799.4,1826.6 800.7,1826.8 802,1826.9 803.3,1827 804.6,1827.2 805.9,1827.3 807.2,1827.4 808.5,1827.5 809.8,1827.5 811.1,1827.6 812.4,1827.7 813.7,1827.8 815,1827.8 816.3,1827.9 817.6,1828 818.9,1828.2 820.2,1828.3 821.5,1828.5 822.8,1828.8 824.1,1829 825.4,1829.3 826.7,1829.6 828,1829.9 829.3,1830.1 830.6,1830.3 831.9,1830.4 833.2,1830.5 834.5,1830.4 835.8,1830.2 837.1,1830 838.4,1829.8 839.7,1829.5 841,1829.3 842.3,1829.1 843.6,1828.9 844.9,1828.7 846.2,1828.7 847.5,1828.6 848.8,1828.6 850.1,1828.6 851.5,1828.6 852.8,1828.6 854.1,1828.6 855.4,1828.6 856.7,1828.6 858,1828.6 859.3,1828.6 860.6,1828.7 861.9,1828.7 863.2,1828.8 864.5,1828.9 865.8,1829.1 867.1,1829.2 868.4,1829.4 869.7,1829.6 871,1829.7 872.3,1829.9 873.6,1830 874.9,1830.1 876.2,1830.2 877.5,1830.2 878.8,1830.3 880.1,1830.3 881.4,1830.4 882.7,1830.4 884,1830.5 885.3,1830.5 886.6,1830.5 887.9,1830.5 889.2,1830.5 890.5,1830.4 891.8,1830.3 893.1,1830.2 894.4,1830.1 895.7,1829.9 897,1829.8 898.3,1829.7 899.6,1829.7 900.9,1829.6 902.2,1829.6 903.5,1829.6 904.8,1829.6 906.1,1829.6 907.4,1829.6 908.8,1829.6 910.1,1829.6 911.4,1829.6 912.7,1829.6 914,1829.6 915.3,1829.6 916.6,1829.5 917.9,1829.3 919.2,1829.1 920.5,1828.9 921.8,1828.6 923.1,1828.2 924.4,1827.9 925.7,1827.5 927,1827.2 928.3,1826.9 929.6,1826.6 930.9,1826.3 932.2,1825.9 933.5,1825.6 934.8,1825.3 936.1,1825.1 937.4,1825 938.7,1825 940,1825 941.3,1825.2 942.6,1825.4 943.9,1825.7 945.2,1826 946.5,1826.4 947.8,1826.7 949.1,1827.1 950.4,1827.6 951.7,1828.1 953,1828.6 954.3,1829 955.6,1829.4 956.9,1829.5 958.2,1829.5 959.5,1829.4 960.8,1829.3 962.1,1829.1 963.4,1828.9 964.7,1828.8 966.1,1828.6 967.4,1828.5 968.7,1828.3 970,1828.2 971.3,1828.1 972.6,1828 973.9,1827.8 975.2,1827.7 976.5,1827.6 977.8,1827.4 979.1,1827.3 980.4,1827.1 981.7,1827 983,1826.9 984.3,1826.7 985.6,1826.6 986.9,1826.4 988.2,1826.2 989.5,1826 990.8,1825.8 992.1,1825.6 993.4,1825.3 994.7,1824.9 996,1824.5 997.3,1823.8 998.6,1822.8 999.9,1821.3 1001.2,1819.4 1002.5,1817.2 1003.8,1814.6 1005.1,1811.5 1006.4,1807.9 1007.7,1803.5 1009,1798.6 1010.3,1793 1011.6,1786.8 1012.9,1780.1 1014.2,1772.8 1015.5,1764.9 1016.8,1756.5 1018.1,1747.4 1019.4,1737.7 1020.7,1727.8 1022,1717.8 1023.3,1707.9 1024.7,1698.2 1026,1688.5 1027.3,1678.7 1028.6,1668.9 1029.9,1659 1031.2,1649.1 1032.5,1639.2 1033.8,1629.7 1035.1,1620.5 1036.4,1611.8 1037.7,1603.4 1039,1595.4 1040.3,1587.6 1041.6,1580.2 1042.9,1573.1 1044.2,1566.3 1045.5,1559.8 1046.8,1553.4 1048.1,1547.3 1049.4,1541.6 1050.7,1536.3 1052,1531.2 1053.3,1526.3 1054.6,1521.8 1055.9,1517.7 1057.2,1513.9 1058.5,1510.5 1059.8,1507.3 1061.1,1504.4 1062.4,1501.9 1063.7,1499.8 1065,1498 1066.3,1496.5 1067.6,1495.2 1068.9,1494 1070.2,1493 1071.5,1492.2 1072.8,1491.6 1074.1,1491.2 1075.4,1490.9 1076.7,1490.6 1078,1490.4 1079.3,1490.2 1080.6,1490 1082,1490 1083.3,1490 1084.6,1490.1 1085.9,1490.3 1087.2,1490.7 1088.5,1491.1 1089.8,1491.6 1091.1,1492.2 1092.4,1492.8 1093.7,1493.6 1095,1494.6 1096.3,1495.7 1097.6,1497 1098.9,1498.3 1100.2,1499.8 1101.5,1501.2 1102.8,1502.8 1104.1,1504.4 1105.4,1506.1 1106.7,1507.9 1108,1509.8 1109.3,1511.7 1110.6,1513.6 1111.9,1515.6 1113.2,1517.7 1114.5,1519.8 1115.8,1522 1117.1,1524.2 1118.4,1526.4 1119.7,1528.6 1121,1530.7 1122.3,1532.9 1123.6,1535.1 1124.9,1537.2 1126.2,1539.4 1127.5,1541.5 1128.8,1543.6 1130.1,1545.7 1131.4,1547.7 1132.7,1549.8 1134,1551.8 1135.3,1553.8 1136.6,1555.7 1137.9,1557.7 1139.3,1559.7 1140.6,1561.6 1141.9,1563.5 1143.2,1565.3 1144.5,1567.2 1145.8,1569.1 1147.1,1571 1148.4,1573 1149.7,1575 1151,1577.1 1152.3,1579.3 1153.6,1581.4 1154.9,1583.5 1156.2,1585.5 1157.5,1587.5 1158.8,1589.3 1160.1,1591 1161.4,1592.7 1162.7,1594.4 1164,1596.1 1165.3,1597.9 1166.6,1599.7 1167.9,1601.6 1169.2,1603.5 1170.5,1605.4 1171.8,1607.4 1173.1,1609.4 1174.4,1611.3 1175.7,1613.3 1177,1615.2 1178.3,1617.1 1179.6,1619 1180.9,1620.9 1182.2,1622.7 1183.5,1624.6 1184.8,1626.4 1186.1,1628.2 1187.4,1630.1 1188.7,1631.9 1190,1633.7 1191.3,1635.4 1192.6,1637 1193.9,1638.5 1195.2,1639.9 1196.5,1641.3 1197.9,1642.5 1199.2,1643.8 1200.5,1644.9 1201.8,1646 1203.1,1646.9 1204.4,1647.8 1205.7,1648.7 1207,1649.4 1208.3,1650.2 1209.6,1651 1210.9,1651.8 1212.2,1652.6 1213.5,1653.5 1214.8,1654.4 1216.1,1655.4 1217.4,1656.4 1218.7,1657.4 1220,1658.5 1221.3,1659.7 1222.6,1661 1223.9,1662.4 1225.2,1664 1226.5,1665.6 1227.8,1667.2 1229.1,1668.8 1230.4,1670.4 1231.7,1671.9 1233,1673.4 1234.3,1675 1235.6,1676.5 1236.9,1677.9 1238.2,1679.4 1239.5,1680.7 1240.8,1682.1 1242.1,1683.4 1243.4,1684.7 1244.7,1686 1246,1687.2 1247.3,1688.3 1248.6,1689.2 1249.9,1690.1 1251.2,1691 1252.5,1691.8 1253.8,1692.5 1255.2,1693.1 1256.5,1693.6 1257.8,1693.9 1259.1,1694.1 1260.4,1694.3 1261.7,1694.4 1263,1694.5 1264.3,1694.6 1265.6,1694.8 1266.9,1694.9 1268.2,1695.1 1269.5,1695.4 1270.8,1695.7 1272.1,1696 1273.4,1696.4 1274.7,1696.8 1276,1697.3 1277.3,1698 1278.6,1698.8 1279.9,1699.7 1281.2,1700.7 1282.5,1701.8 1283.8,1703 1285.1,1704.1 1286.4,1705.3 1287.7,1706.5 1289,1707.7 1290.3,1708.9 1291.6,1710.2 1292.9,1711.4 1294.2,1712.6 1295.5,1713.7 1296.8,1714.8 1298.1,1715.8 1299.4,1716.8 1300.7,1717.8 1302,1718.8 1303.3,1719.7 1304.6,1720.6 1305.9,1721.5 1307.2,1722.3 1308.5,1723.2 1309.8,1724 1311.1,1724.7 1312.5,1725.2 1312.5,1742.3 1311.1,1741.9 1309.8,1741.3 1308.5,1740.6 1307.2,1739.9 1305.9,1739.1 1304.6,1738.3 1303.3,1737.5 1302,1736.6 1300.7,1735.8 1299.4,1734.9 1298.1,1733.9 1296.8,1733 1295.5,1732 1294.2,1731 1292.9,1729.9 1291.6,1728.8 1290.3,1727.7 1289,1726.5 1287.7,1725.4 1286.4,1724.2 1285.1,1723.1 1283.8,1722 1282.5,1720.9 1281.2,1719.8 1279.9,1718.7 1278.6,1717.7 1277.3,1716.9 1276,1716.2 1274.7,1715.6 1273.4,1715.2 1272.1,1714.8 1270.8,1714.5 1269.5,1714.2 1268.2,1713.9 1266.9,1713.7 1265.6,1713.6 1264.3,1713.4 1263,1713.3 1261.7,1713.2 1260.4,1713.1 1259.1,1713 1257.8,1712.8 1256.5,1712.5 1255.2,1712.1 1253.8,1711.6 1252.5,1711 1251.2,1710.3 1249.9,1709.6 1248.6,1708.8 1247.3,1707.9 1246,1707 1244.7,1706 1243.4,1704.9 1242.1,1703.7 1240.8,1702.5 1239.5,1701.2 1238.2,1700 1236.9,1698.7 1235.6,1697.3 1234.3,1696 1233,1694.5 1231.7,1693.1 1230.4,1691.7 1229.1,1690.2 1227.8,1688.8 1226.5,1687.3 1225.2,1685.7 1223.9,1684.2 1222.6,1682.7 1221.3,1681.3 1220,1680.1 1218.7,1679 1217.4,1677.9 1216.1,1676.9 1214.8,1676 1213.5,1675.1 1212.2,1674.2 1210.9,1673.4 1209.6,1672.6 1208.3,1671.9 1207,1671.1 1205.7,1670.4 1204.4,1669.7 1203.1,1668.9 1201.8,1668 1200.5,1667.1 1199.2,1666.1 1197.9,1665 1196.5,1663.9 1195.2,1662.7 1193.9,1661.5 1192.6,1660.2 1191.3,1658.9 1190,1657.5 1188.7,1656.1 1187.4,1654.5 1186.1,1652.9 1184.8,1651.4 1183.5,1649.8 1182.2,1648.2 1180.9,1646.6 1179.6,1644.9 1178.3,1643.3 1177,1641.6 1175.7,1640 1174.4,1638.3 1173.1,1636.6 1171.8,1634.9 1170.5,1633.2 1169.2,1631.5 1167.9,1629.7 1166.6,1628 1165.3,1626.4 1164,1624.8 1162.7,1623.3 1161.4,1621.8 1160.1,1620.3 1158.8,1618.8 1157.5,1617.3 1156.2,1615.7 1154.9,1614.1 1153.6,1612.3 1152.3,1610.5 1151,1608.6 1149.7,1606.8 1148.4,1604.9 1147.1,1603.1 1145.8,1601.4 1144.5,1599.7 1143.2,1598 1141.9,1596.4 1140.6,1594.8 1139.3,1593.3 1137.9,1591.7 1136.6,1590.1 1135.3,1588.5 1134,1586.8 1132.7,1585.2 1131.4,1583.6 1130.1,1581.9 1128.8,1580.2 1127.5,1578.5 1126.2,1576.8 1124.9,1575 1123.6,1573.3 1122.3,1571.5 1121,1569.7 1119.7,1568 1118.4,1566.2 1117.1,1564.4 1115.8,1562.6 1114.5,1560.8 1113.2,1559 1111.9,1557.3 1110.6,1555.6 1109.3,1553.9 1108,1552.3 1106.7,1550.8 1105.4,1549.3 1104.1,1547.8 1102.8,1546.4 1101.5,1545.1 1100.2,1543.9 1098.9,1542.7 1097.6,1541.5 1096.3,1540.4 1095,1539.5 1093.7,1538.6 1092.4,1537.9 1091.1,1537.2 1089.8,1536.7 1088.5,1536.2 1087.2,1535.7 1085.9,1535.3 1084.6,1535.1 1083.3,1535 1082,1535 1080.6,1535 1079.3,1535.2 1078,1535.4 1076.7,1535.6 1075.4,1535.9 1074.1,1536.3 1072.8,1536.7 1071.5,1537.3 1070.2,1538.1 1068.9,1539 1067.6,1540.1 1066.3,1541.2 1065,1542.6 1063.7,1544.3 1062.4,1546.4 1061.1,1548.8 1059.8,1551.6 1058.5,1554.6 1057.2,1557.9 1055.9,1561.6 1054.6,1565.7 1053.3,1570.1 1052,1574.8 1050.7,1579.8 1049.4,1585.2 1048.1,1591 1046.8,1597.1 1045.5,1603.5 1044.2,1610.4 1042.9,1617.7 1041.6,1625.3 1040.3,1633.3 1039,1641.6 1037.7,1650.4 1036.4,1659.6 1035.1,1669.1 1033.8,1679 1032.5,1688.8 1031.2,1698.4 1029.9,1707.9 1028.6,1717.3 1027.3,1726.7 1026,1736.1 1024.7,1745.4 1023.3,1754.6 1022,1763.5 1020.7,1771.9 1019.4,1779.5 1018.1,1786.3 1016.8,1792.6 1015.5,1798.3 1014.2,1803.5 1012.9,1808.1 1011.6,1812.2 1010.3,1815.8 1009,1818.8 1007.7,1821.3 1006.4,1823.4 1005.1,1825.1 1003.8,1826.7 1002.5,1828.1 1001.2,1829.2 999.9,1830.1 998.6,1830.6 997.3,1831.1 996,1831.4 994.7,1831.7 993.4,1832 992.1,1832.3 990.8,1832.5 989.5,1832.7 988.2,1832.8 986.9,1833 985.6,1833.1 984.3,1833.3 983,1833.4 981.7,1833.5 980.4,1833.7 979.1,1833.8 977.8,1833.9 976.5,1834.1 975.2,1834.2 973.9,1834.3 972.6,1834.5 971.3,1834.6 970,1834.7 968.7,1834.8 967.4,1835 966.1,1835.1 964.7,1835.2 963.4,1835.4 962.1,1835.5 960.8,1835.7 959.5,1835.8 958.2,1835.9 956.9,1835.9 955.6,1835.8 954.3,1835.6 953,1835.3 951.7,1834.9 950.4,1834.4 949.1,1834 947.8,1833.5 946.5,1833.1 945.2,1832.8 943.9,1832.5 942.6,1832.1 941.3,1831.9 940,1831.7 938.7,1831.6 937.4,1831.6 936.1,1831.8 934.8,1832 933.5,1832.3 932.2,1832.7 930.9,1833 929.6,1833.3 928.3,1833.6 927,1833.9 925.7,1834.2 924.4,1834.5 923.1,1834.8 921.8,1835.1 920.5,1835.4 919.2,1835.6 917.9,1835.8 916.6,1835.9 915.3,1836 914,1836 912.7,1836 911.4,1836 910.1,1836 908.8,1836 907.4,1836 906.1,1836 904.8,1836 903.5,1836 902.2,1836 900.9,1836 899.6,1836.1 898.3,1836.1 897,1836.2 895.7,1836.3 894.4,1836.5 893.1,1836.6 891.8,1836.7 890.5,1836.8 889.2,1836.8 887.9,1836.9 886.6,1836.9 885.3,1836.8 884,1836.8 882.7,1836.8 881.4,1836.7 880.1,1836.7 878.8,1836.6 877.5,1836.6 876.2,1836.5 874.9,1836.5 873.6,1836.4 872.3,1836.3 871,1836.2 869.7,1836 868.4,1835.8 867.1,1835.7 865.8,1835.5 864.5,1835.4 863.2,1835.2 861.9,1835.2 860.6,1835.1 859.3,1835.1 858,1835.1 856.7,1835.1 855.4,1835.1 854.1,1835.1 852.8,1835.1 851.5,1835.1 850.1,1835.1 848.8,1835.1 847.5,1835.1 846.2,1835.1 844.9,1835.2 843.6,1835.3 842.3,1835.5 841,1835.8 839.7,1836 838.4,1836.2 837.1,1836.5 835.8,1836.6 834.5,1836.8 833.2,1836.8 831.9,1836.8 830.6,1836.7 829.3,1836.6 828,1836.4 826.7,1836.1 825.4,1835.9 824.1,1835.6 822.8,1835.3 821.5,1835.1 820.2,1834.8 818.9,1834.7 817.6,1834.5 816.3,1834.4 815,1834.3 813.7,1834.3 812.4,1834.2 811.1,1834.1 809.8,1834 808.5,1834 807.2,1833.9 805.9,1833.8 804.6,1833.7 803.3,1833.6 802,1833.5 800.7,1833.3 799.4,1833.2 798.1,1833 796.8,1832.9 795.5,1832.7 794.2,1832.6 792.9,1832.5" fill="#5a8ab8" fill-opacity="0.39"/>
<polygon points="792.9,1679.6 794.2,1676.6 795.5,1672.4 796.8,1668.3 798.1,1664.2 799.4,1660.1 800.7,1655.9 802,1651.6 803.3,1647.2 804.6,1642.5 805.9,1637.6 807.2,1632.3 808.5,1626.9 809.8,1621.4 811.1,1616.1 812.4,1611 813.7,1606.3 815,1602 816.3,1597.9 817.6,1594.1 818.9,1590.3 820.2,1586.6 821.5,1583 822.8,1579.7 824.1,1576.5 825.4,1573.5 826.7,1570.7 828,1568 829.3,1565.4 830.6,1562.8 831.9,1560.3 833.2,1557.9 834.5,1555.8 835.8,1554 837.1,1552.5 838.4,1551.4 839.7,1550.7 841,1550.9 842.3,1551.6 843.6,1552.3 844.9,1553.2 846.2,1554.2 847.5,1555.3 848.8,1556.5 850.1,1558 851.5,1559.8 852.8,1562.1 854.1,1564.9 855.4,1568 856.7,1571.4 858,1575 859.3,1578.7 860.6,1582.8 861.9,1587.4 863.2,1592.5 864.5,1598.3 865.8,1604.3 867.1,1610.6 868.4,1617 869.7,1623.6 871,1630.7 872.3,1638.2 873.6,1646.2 874.9,1654.4 876.2,1662.6 877.5,1671 878.8,1679.6 880.1,1688.7 881.4,1698.1 882.7,1707.4 884,1716.3 885.3,1725.4 886.6,1735 887.9,1744.9 889.2,1754.1 890.5,1761.6 891.8,1766.8 893.1,1768.7 894.4,1765.9 895.7,1760.2 897,1753.4 898.3,1746.1 899.6,1738.1 900.9,1729.3 902.2,1720 903.5,1710.6 904.8,1700.9 906.1,1690.5 907.4,1679.2 908.8,1667 910.1,1654.4 911.4,1641.7 912.7,1629.1 914,1616.8 915.3,1604.5 916.6,1592 917.9,1579.2 919.2,1566.3 920.5,1553.3 921.8,1540.5 923.1,1527.8 924.4,1515.1 925.7,1502.4 927,1489.6 928.3,1476.9 929.6,1464.4 930.9,1452.2 932.2,1440.3 933.5,1428.7 934.8,1417.2 936.1,1405.8 937.4,1394.6 938.7,1383.7 940,1373.2 941.3,1362.8 942.6,1352.6 943.9,1342.2 945.2,1331.9 946.5,1322.1 947.8,1313.2 949.1,1305.7 950.4,1299.2 951.7,1293.6 953,1288.3 954.3,1283.4 955.6,1279.4 956.9,1276.6 958.2,1274.8 959.5,1274.3 960.8,1275 962.1,1276.3 963.4,1278.2 964.7,1280.4 966.1,1283.3 967.4,1287.5 968.7,1293.4 970,1300.7 971.3,1308.5 972.6,1316.4 973.9,1324.3 975.2,1332.5 976.5,1341 977.8,1349.8 979.1,1358.7 980.4,1367.8 981.7,1377 983,1386.5 984.3,1396.3 985.6,1406.3 986.9,1416.5 988.2,1426.7 989.5,1436.9 990.8,1447 992.1,1457.2 993.4,1467.5 994.7,1477.9 996,1488.3 997.3,1498.5 998.6,1508.5 999.9,1518.2 1001.2,1527.8 1002.5,1537.3 1003.8,1546.8 1005.1,1556 1006.4,1564.8 1007.7,1573.1 1009,1581.1 1010.3,1589.1 1011.6,1597.3 1012.9,1605.5 1014.2,1613.3 1015.5,1620.1 1016.8,1625.6 1018.1,1630 1019.4,1633.6 1020.7,1636.8 1022,1639.2 1023.3,1639.3 1024.7,1635.7 1026,1629.7 1027.3,1622.6 1028.6,1615.6 1029.9,1608.6 1031.2,1601 1032.5,1592.4 1033.8,1583.2 1035.1,1573.6 1036.4,1564.1 1037.7,1554.6 1039,1544.9 1040.3,1534.8 1041.6,1524.3 1042.9,1513.5 1044.2,1502.9 1045.5,1492.6 1046.8,1482.6 1048.1,1473 1049.4,1463.5 1050.7,1454 1052,1444.6 1053.3,1435.3 1054.6,1426.3 1055.9,1417.5 1057.2,1408.8 1058.5,1400.1 1059.8,1391.6 1061.1,1383.3 1062.4,1375.3 1063.7,1367.9 1065,1360.9 1066.3,1354.4 1067.6,1348.2 1068.9,1342.1 1070.2,1336.3 1071.5,1330.9 1072.8,1325.9 1074.1,1321.3 1075.4,1317.2 1076.7,1313.3 1078,1309.7 1079.3,1306.2 1080.6,1303.1 1082,1300.2 1083.3,1297.8 1084.6,1295.8 1085.9,1294 1087.2,1292.5 1088.5,1291.3 1089.8,1290.2 1091.1,1289.6 1092.4,1290.5 1093.7,1291.8 1095,1293.7 1096.3,1295.9 1097.6,1298.5 1098.9,1301.3 1100.2,1304.5 1101.5,1308.1 1102.8,1312.4 1104.1,1317.3 1105.4,1322.7 1106.7,1328.6 1108,1334.6 1109.3,1340.8 1110.6,1347.2 1111.9,1353.9 1113.2,1361.2 1114.5,1368.8 1115.8,1376.7 1117.1,1384.6 1118.4,1392.5 1119.7,1400.4 1121,1408.4 1122.3,1416.6 1123.6,1424.8 1124.9,1433.1 1126.2,1441.4 1127.5,1449.6 1128.8,1457.8 1130.1,1466 1131.4,1474.2 1132.7,1482.3 1134,1490.5 1135.3,1498.7 1136.6,1506.8 1137.9,1515 1139.3,1523.1 1140.6,1531.2 1141.9,1539.4 1143.2,1547.5 1144.5,1555.6 1145.8,1563.8 1147.1,1571.9 1148.4,1580 1149.7,1588.1 1151,1596.2 1152.3,1604.3 1153.6,1612.4 1154.9,1620.5 1156.2,1628.6 1157.5,1636.6 1158.8,1644.7 1160.1,1652.8 1161.4,1660.6 1162.7,1668.5 1164,1676.3 1165.3,1684.2 1166.6,1692.3 1167.9,1700.5 1169.2,1708.8 1170.5,1717.1 1171.8,1725.2 1173.1,1733 1174.4,1740.6 1175.7,1748.2 1177,1755.8 1178.3,1763.4 1179.6,1770.8 1180.9,1777.8 1182.2,1784.1 1183.5,1789.9 1184.8,1795.4 1186.1,1800.6 1187.4,1805.3 1188.7,1809.1 1190,1812.2 1191.3,1814.7 1192.6,1816.6 1193.9,1817.6 1195.2,1817.7 1196.5,1816.9 1197.9,1815.8 1199.2,1814.5 1200.5,1813.1 1201.8,1811.7 1203.1,1810.2 1204.4,1808.4 1205.7,1806.5 1207,1804.4 1208.3,1802.3 1209.6,1800.3 1210.9,1798.3 1212.2,1796.4 1213.5,1794.6 1214.8,1792.7 1216.1,1790.9 1217.4,1789.1 1218.7,1787.2 1220,1785.4 1221.3,1783.6 1222.6,1781.9 1223.9,1780.3 1225.2,1778.7 1226.5,1777.1 1227.8,1775.6 1229.1,1774.1 1230.4,1772.6 1231.7,1771.2 1233,1770 1234.3,1768.9 1235.6,1768 1236.9,1767.3 1238.2,1766.6 1239.5,1766 1240.8,1765.5 1242.1,1765 1243.4,1764.7 1244.7,1764.5 1246,1764.4 1247.3,1764.4 1248.6,1764.6 1249.9,1764.9 1251.2,1765.2 1252.5,1765.6 1253.8,1766.1 1255.2,1766.5 1256.5,1767 1257.8,1767.4 1259.1,1767.9 1260.4,1768.3 1261.7,1768.9 1263,1769.4 1264.3,1769.9 1265.6,1770.5 1266.9,1770.9 1268.2,1771.3 1269.5,1771.6 1270.8,1771.7 1272.1,1771.6 1273.4,1771.4 1274.7,1771.1 1276,1770.6 1277.3,1770.1 1278.6,1769.5 1279.9,1769 1281.2,1768.4 1282.5,1767.9 1283.8,1767.4 1285.1,1766.8 1286.4,1766.2 1287.7,1765.6 1289,1765 1290.3,1764.4 1291.6,1763.8 1292.9,1763.3 1294.2,1762.9 1295.5,1762.5 1296.8,1762.2 1298.1,1761.9 1299.4,1761.6 1300.7,1761.3 1302,1761.1 1303.3,1760.8 1304.6,1760.6 1305.9,1760.4 1307.2,1760.2 1308.5,1760.1 1309.8,1760 1311.1,1759.9 1312.5,1759.8 1312.5,1781.8 1311.1,1781.9 1309.8,1781.9 1308.5,1782 1307.2,1782.1 1305.9,1782.3 1304.6,1782.4 1303.3,1782.6 1302,1782.9 1300.7,1783.1 1299.4,1783.3 1298.1,1783.6 1296.8,1783.9 1295.5,1784.2 1294.2,1784.6 1292.9,1785.1 1291.6,1785.6 1290.3,1786.1 1289,1786.7 1287.7,1787.3 1286.4,1787.9 1285.1,1788.4 1283.8,1788.9 1282.5,1789.4 1281.2,1789.9 1279.9,1790.4 1278.6,1791 1277.3,1791.5 1276,1791.9 1274.7,1792.3 1273.4,1792.5 1272.1,1792.7 1270.8,1792.7 1269.5,1792.6 1268.2,1792.3 1266.9,1792 1265.6,1791.5 1264.3,1791 1263,1790.5 1261.7,1789.9 1260.4,1789.3 1259.1,1788.8 1257.8,1788.3 1256.5,1787.8 1255.2,1787.3 1253.8,1786.9 1252.5,1786.4 1251.2,1785.9 1249.9,1785.5 1248.6,1785.1 1247.3,1784.9 1246,1784.8 1244.7,1784.9 1243.4,1785.1 1242.1,1785.5 1240.8,1786 1239.5,1786.6 1238.2,1787.3 1236.9,1788 1235.6,1789 1234.3,1790.2 1233,1791.5 1231.7,1793 1230.4,1794.5 1229.1,1796 1227.8,1797.6 1226.5,1799.1 1225.2,1800.7 1223.9,1802.4 1222.6,1804.2 1221.3,1806 1220,1807.7 1218.7,1809.5 1217.4,1811.3 1216.1,1813.1 1214.8,1814.9 1213.5,1816.8 1212.2,1818.7 1210.9,1820.7 1209.6,1822.7 1208.3,1824.6 1207,1826.4 1205.7,1828 1204.4,1829.4 1203.1,1830.6 1201.8,1831.8 1200.5,1833 1199.2,1834.1 1197.9,1834.9 1196.5,1835.5 1195.2,1835.8 1193.9,1836 1192.6,1836 1191.3,1835.6 1190,1834.8 1188.7,1833.6 1187.4,1832.2 1186.1,1830.4 1184.8,1828 1183.5,1824.9 1182.2,1821.2 1180.9,1817.3 1179.6,1813.1 1178.3,1808.3 1177,1802.9 1175.7,1796.9 1174.4,1790.3 1173.1,1783.6 1171.8,1776.8 1170.5,1770 1169.2,1762.9 1167.9,1755.5 1166.6,1747.8 1165.3,1739.9 1164,1731.9 1162.7,1723.9 1161.4,1716.1 1160.1,1708.3 1158.8,1700.8 1157.5,1693.2 1156.2,1685.6 1154.9,1678.1 1153.6,1670.6 1152.3,1663 1151,1655.5 1149.7,1648 1148.4,1640.5 1147.1,1632.9 1145.8,1625.4 1144.5,1617.9 1143.2,1610.4 1141.9,1602.9 1140.6,1595.5 1139.3,1588 1137.9,1580.5 1136.6,1573 1135.3,1565.5 1134,1558.1 1132.7,1550.6 1131.4,1543.1 1130.1,1535.7 1128.8,1528.2 1127.5,1520.8 1126.2,1513.4 1124.9,1505.9 1123.6,1498.4 1122.3,1490.9 1121,1483.3 1119.7,1475.7 1118.4,1468.2 1117.1,1460.9 1115.8,1453.7 1114.5,1446.4 1113.2,1439 1111.9,1431.7 1110.6,1424.5 1109.3,1417.8 1108,1411.5 1106.7,1405.6 1105.4,1400 1104.1,1394.5 1102.8,1389.3 1101.5,1384.6 1100.2,1380.6 1098.9,1377.5 1097.6,1375 1096.3,1373 1095,1371.4 1093.7,1370.2 1092.4,1369.6 1091.1,1369.6 1089.8,1369.2 1088.5,1369.3 1087.2,1369.6 1085.9,1370.1 1084.6,1371 1083.3,1372.4 1082,1374.2 1080.6,1376.4 1079.3,1379 1078,1381.9 1076.7,1385 1075.4,1388.6 1074.1,1392.7 1072.8,1397.4 1071.5,1402.6 1070.2,1408.1 1068.9,1414 1067.6,1420.1 1066.3,1426.8 1065,1434 1063.7,1441.8 1062.4,1449.9 1061.1,1458.1 1059.8,1466.3 1058.5,1474.6 1057.2,1483.1 1055.9,1491.8 1054.6,1500.8 1053.3,1509.9 1052,1519.1 1050.7,1528.3 1049.4,1537.7 1048.1,1547.3 1046.8,1557.2 1045.5,1567.2 1044.2,1577 1042.9,1586.2 1041.6,1594.9 1040.3,1603.2 1039,1611.2 1037.7,1619.2 1036.4,1626.9 1035.1,1634.2 1033.8,1640.5 1032.5,1645.9 1031.2,1650.7 1029.9,1655.3 1028.6,1659.5 1027.3,1662.9 1026,1664.6 1024.7,1664.7 1023.3,1664 1022,1664.1 1020.7,1664.1 1019.4,1663.4 1018.1,1662 1016.8,1660.3 1015.5,1658.5 1014.2,1656.2 1012.9,1653 1011.6,1648.6 1010.3,1643 1009,1636.7 1007.7,1630 1006.4,1623.2 1005.1,1616.5 1003.8,1609.5 1002.5,1602 1001.2,1594.1 999.9,1585.9 998.6,1577.4 997.3,1568.9 996,1560.3 994.7,1551.4 993.4,1542.1 992.1,1532.6 990.8,1522.9 989.5,1513.2 988.2,1503.6 986.9,1493.9 985.6,1484.3 984.3,1474.5 983,1464.6 981.7,1454.8 980.4,1445.1 979.1,1435.8 977.8,1426.7 976.5,1417.7 975.2,1408.9 973.9,1400.2 972.6,1391.8 971.3,1383.8 970,1376.1 968.7,1368.2 967.4,1360 966.1,1352.3 964.7,1346.5 963.4,1342.9 962.1,1341 960.8,1340 959.5,1340 958.2,1341 956.9,1343.8 955.6,1348.4 954.3,1353.9 953,1360.1 951.7,1367.1 950.4,1375.5 949.1,1385.1 947.8,1395.6 946.5,1406.2 945.2,1416.6 943.9,1426.8 942.6,1437.1 941.3,1447.7 940,1458.7 938.7,1470 937.4,1481.5 936.1,1493.1 934.8,1504.9 933.5,1516.9 932.2,1529.2 930.9,1541.7 929.6,1554.2 928.3,1566.7 927,1579.1 925.7,1591.4 924.4,1603.6 923.1,1616 921.8,1628.4 920.5,1640.6 919.2,1652.6 917.9,1664.3 916.6,1675.7 915.3,1687.2 914,1698.6 912.7,1710 911.4,1720.7 910.1,1730.7 908.8,1739.6 907.4,1747.6 906.1,1755.1 904.8,1762.3 903.5,1769.3 902.2,1775.7 900.9,1781.2 899.6,1785.7 898.3,1789.3 897,1792.1 895.7,1793.6 894.4,1793.5 893.1,1792.8 891.8,1793.3 890.5,1793.7 889.2,1793.3 887.9,1791.5 886.6,1787.8 885.3,1782 884,1774.8 882.7,1767.2 881.4,1759.5 880.1,1751.5 878.8,1743 877.5,1734.1 876.2,1725.3 874.9,1716.7 873.6,1708.4 872.3,1700.1 871,1691.8 869.7,1683.6 868.4,1675.8 867.1,1668.4 865.8,1661.6 864.5,1655.1 863.2,1648.7 861.9,1642.6 860.6,1636.8 859.3,1631.6 858,1627.2 856.7,1623.4 855.4,1620.1 854.1,1617 852.8,1614.3 851.5,1612 850.1,1610.3 848.8,1609.3 847.5,1608.6 846.2,1608.3 844.9,1608.1 843.6,1608 842.3,1608.1 841,1608.3 839.7,1608.6 838.4,1608.6 837.1,1609.1 835.8,1610.2 834.5,1611.6 833.2,1613.3 831.9,1615.1 830.6,1617 829.3,1618.9 828,1620.9 826.7,1623.1 825.4,1625.6 824.1,1628.3 822.8,1631.2 821.5,1634.2 820.2,1637.5 818.9,1640.8 817.6,1644.4 816.3,1648.3 815,1652.7 813.7,1657.3 812.4,1662.2 811.1,1667 809.8,1671.7 808.5,1676.1 807.2,1680.1 805.9,1683.8 804.6,1687.3 803.3,1690.8 802,1694.2 800.7,1697.5 799.4,1700.7 798.1,1703.8 796.8,1706.8 795.5,1709.4 794.2,1711 792.9,1712.3" fill="#f0444c" fill-opacity="0.39"/>
<polygon points="792.9,1799.6 794.2,1800.1 795.5,1800.7 796.8,1801.5 798.1,1802.3 799.4,1803.1 800.7,1803.9 802,1804.7 803.3,1805.6 804.6,1806.6 805.9,1807.6 807.2,1808.6 808.5,1809.4 809.8,1809.9 811.1,1810.3 812.4,1810.6 813.7,1810.9 815,1811.1 816.3,1811.3 817.6,1811.4 818.9,1811.5 820.2,1811.5 821.5,1811.4 822.8,1810.8 824.1,1809.7 825.4,1808.4 826.7,1807 828,1805.7 829.3,1804.5 830.6,1803.4 831.9,1802.3 833.2,1801.2 834.5,1800.2 835.8,1799.3 837.1,1798.7 838.4,1798.3 839.7,1798.1 841,1798 842.3,1798 843.6,1798 844.9,1798 846.2,1798 847.5,1798 848.8,1798.1 850.1,1798.3 851.5,1798.6 852.8,1799.1 854.1,1799.8 855.4,1800.5 856.7,1801.3 858,1802 859.3,1802.5 860.6,1802.7 861.9,1802.7 863.2,1802.5 864.5,1802.2 865.8,1801.9 867.1,1801.6 868.4,1801.3 869.7,1801.1 871,1801 872.3,1801.1 873.6,1801.2 874.9,1801.5 876.2,1801.9 877.5,1802.4 878.8,1803 880.1,1803.5 881.4,1803.9 882.7,1804.2 884,1804.2 885.3,1804.1 886.6,1803.9 887.9,1803.6 889.2,1803.3 890.5,1803 891.8,1802.6 893.1,1802.4 894.4,1802.2 895.7,1802 897,1802 898.3,1802.1 899.6,1802.3 900.9,1802.6 902.2,1803 903.5,1803.5 904.8,1804 906.1,1804.6 907.4,1805 908.8,1805.4 910.1,1805.6 911.4,1805.7 912.7,1805.6 914,1805.4 915.3,1805.1 916.6,1804.8 917.9,1804.5 919.2,1804.1 920.5,1803.9 921.8,1803.6 923.1,1803.5 924.4,1803.5 925.7,1803.5 927,1803.8 928.3,1804.1 929.6,1804.6 930.9,1805.1 932.2,1805.7 933.5,1806.1 934.8,1806.5 936.1,1806.7 937.4,1806.7 938.7,1806.8 940,1806.8 941.3,1806.7 942.6,1806.4 943.9,1805.4 945.2,1803.3 946.5,1800.6 947.8,1797.8 949.1,1795 950.4,1792.2 951.7,1789.2 953,1786.2 954.3,1783.5 955.6,1781.2 956.9,1779.3 958.2,1777.5 959.5,1775.8 960.8,1774.4 962.1,1773.2 963.4,1772.3 964.7,1771.5 966.1,1770.9 967.4,1770.2 968.7,1769.5 970,1768.7 971.3,1767.7 972.6,1766.7 973.9,1765.5 975.2,1764.3 976.5,1762.9 977.8,1761.4 979.1,1759.8 980.4,1758.1 981.7,1756.3 983,1754.4 984.3,1752.6 985.6,1750.7 986.9,1748.7 988.2,1746.5 989.5,1744 990.8,1741.3 992.1,1738.3 993.4,1734.9 994.7,1731.2 996,1727.1 997.3,1722.7 998.6,1717.8 999.9,1712.4 1001.2,1706.6 1002.5,1700.5 1003.8,1694.2 1005.1,1687.6 1006.4,1680.5 1007.7,1673.1 1009,1665.1 1010.3,1656.8 1011.6,1647.9 1012.9,1638.5 1014.2,1628.6 1015.5,1618.4 1016.8,1608 1018.1,1597.3 1019.4,1586.2 1020.7,1574.7 1022,1563.1 1023.3,1551.6 1024.7,1540.2 1026,1528.8 1027.3,1517.2 1028.6,1505.6 1029.9,1493.9 1031.2,1482.3 1032.5,1470.8 1033.8,1459.3 1035.1,1447.8 1036.4,1436.2 1037.7,1424.7 1039,1413.2 1040.3,1401.8 1041.6,1390.7 1042.9,1379.6 1044.2,1368.7 1045.5,1357.7 1046.8,1346.9 1048.1,1336.2 1049.4,1325.8 1050.7,1315.6 1052,1305.6 1053.3,1295.8 1054.6,1286.1 1055.9,1276.6 1057.2,1267.3 1058.5,1258.3 1059.8,1249.7 1061.1,1241.5 1062.4,1233.5 1063.7,1225.7 1065,1218.1 1066.3,1210.8 1067.6,1203.8 1068.9,1197.3 1070.2,1191.1 1071.5,1185.2 1072.8,1179.5 1074.1,1173.9 1075.4,1168.7 1076.7,1164 1078,1159.8 1079.3,1156.2 1080.6,1153.1 1082,1150.2 1083.3,1147.7 1084.6,1145.5 1085.9,1143.8 1087.2,1142.6 1088.5,1141.8 1089.8,1141.3 1091.1,1141.1 1092.4,1141.2 1093.7,1141.7 1095,1142.7 1096.3,1144.3 1097.6,1146.2 1098.9,1148.5 1100.2,1151.1 1101.5,1154.4 1102.8,1158.5 1104.1,1163.5 1105.4,1168.9 1106.7,1174.6 1108,1180.6 1109.3,1187 1110.6,1194 1111.9,1201.3 1113.2,1208.9 1114.5,1216.6 1115.8,1224.6 1117.1,1232.7 1118.4,1241 1119.7,1249.6 1121,1258.4 1122.3,1267.3 1123.6,1276.5 1124.9,1286.2 1126.2,1296.2 1127.5,1306.8 1128.8,1317.7 1130.1,1328.7 1131.4,1339.8 1132.7,1350.9 1134,1362 1135.3,1373.3 1136.6,1384.7 1137.9,1396.3 1139.3,1407.9 1140.6,1419.5 1141.9,1431 1143.2,1442.5 1144.5,1454 1145.8,1465.4 1147.1,1476.8 1148.4,1488.2 1149.7,1499.5 1151,1510.9 1152.3,1522.3 1153.6,1534 1154.9,1545.9 1156.2,1557.8 1157.5,1569.7 1158.8,1581.3 1160.1,1592.6 1161.4,1603.7 1162.7,1614.7 1164,1625.6 1165.3,1636.5 1166.6,1647.1 1167.9,1657.3 1169.2,1667.2 1170.5,1676.9 1171.8,1686.5 1173.1,1696 1174.4,1704.9 1175.7,1713.1 1177,1720.6 1178.3,1727.7 1179.6,1734.3 1180.9,1740.3 1182.2,1745.7 1183.5,1750.5 1184.8,1755 1186.1,1759.1 1187.4,1762.7 1188.7,1765.7 1190,1768.2 1191.3,1770.3 1192.6,1772 1193.9,1772.7 1195.2,1773 1196.5,1772.8 1197.9,1772.5 1199.2,1772 1200.5,1771.7 1201.8,1771.7 1203.1,1771.6 1204.4,1771.3 1205.7,1770.9 1207,1770.5 1208.3,1770.3 1209.6,1770.4 1210.9,1770.7 1212.2,1771.3 1213.5,1772.2 1214.8,1773.4 1216.1,1774.7 1217.4,1776.1 1218.7,1777.7 1220,1779.5 1221.3,1781.5 1222.6,1783.3 1223.9,1784.9 1225.2,1786.3 1226.5,1787.4 1227.8,1788.5 1229.1,1789.5 1230.4,1790.4 1231.7,1791.2 1233,1792.1 1234.3,1792.9 1235.6,1793.7 1236.9,1794.4 1238.2,1795.1 1239.5,1795.7 1240.8,1796.2 1242.1,1796.6 1243.4,1796.9 1244.7,1797.2 1246,1797.5 1247.3,1797.7 1248.6,1797.8 1249.9,1797.8 1251.2,1797.6 1252.5,1797.1 1253.8,1796.2 1255.2,1795.2 1256.5,1794.1 1257.8,1793 1259.1,1792.1 1260.4,1791.2 1261.7,1790.3 1263,1789.3 1264.3,1788.4 1265.6,1787.6 1266.9,1786.9 1268.2,1786.4 1269.5,1785.8 1270.8,1785.4 1272.1,1785 1273.4,1784.7 1274.7,1784.6 1276,1784.5 1277.3,1784.7 1278.6,1784.9 1279.9,1785.3 1281.2,1785.7 1282.5,1786.2 1283.8,1786.6 1285.1,1787.1 1286.4,1787.6 1287.7,1788.1 1289,1788.5 1290.3,1788.9 1291.6,1789 1292.9,1789.1 1294.2,1789.1 1295.5,1789.1 1296.8,1789.1 1298.1,1789 1299.4,1789 1300.7,1788.9 1302,1788.8 1303.3,1788.7 1304.6,1788.6 1305.9,1788.4 1307.2,1788.1 1308.5,1787.7 1309.8,1787.3 1311.1,1787 1312.5,1786.7 1312.5,1816.8 1311.1,1817.1 1309.8,1817.5 1308.5,1817.9 1307.2,1818.2 1305.9,1818.5 1304.6,1818.7 1303.3,1818.9 1302,1819 1300.7,1819.1 1299.4,1819.2 1298.1,1819.3 1296.8,1819.3 1295.5,1819.4 1294.2,1819.4 1292.9,1819.5 1291.6,1819.4 1290.3,1819.3 1289,1819.1 1287.7,1818.7 1286.4,1818.3 1285.1,1817.8 1283.8,1817.3 1282.5,1816.9 1281.2,1816.5 1279.9,1816 1278.6,1815.6 1277.3,1815.3 1276,1815.2 1274.7,1815.2 1273.4,1815.5 1272.1,1815.9 1270.8,1816.3 1269.5,1816.9 1268.2,1817.5 1266.9,1818.3 1265.6,1819.1 1264.3,1820.1 1263,1821 1261.7,1822 1260.4,1822.9 1259.1,1823.9 1257.8,1825 1256.5,1826.1 1255.2,1827.1 1253.8,1827.9 1252.5,1828.4 1251.2,1828.8 1249.9,1828.9 1248.6,1828.9 1247.3,1828.8 1246,1828.7 1244.7,1828.5 1243.4,1828.2 1242.1,1828 1240.8,1827.6 1239.5,1827.3 1238.2,1826.8 1236.9,1826.2 1235.6,1825.5 1234.3,1824.8 1233,1824.1 1231.7,1823.3 1230.4,1822.5 1229.1,1821.7 1227.8,1820.8 1226.5,1819.9 1225.2,1819 1223.9,1818 1222.6,1816.9 1221.3,1815.6 1220,1814 1218.7,1812.2 1217.4,1810.3 1216.1,1808.5 1214.8,1806.9 1213.5,1805.4 1212.2,1804 1210.9,1802.9 1209.6,1802.3 1208.3,1802.2 1207,1802.5 1205.7,1802.9 1204.4,1803.3 1203.1,1803.6 1201.8,1803.7 1200.5,1803.7 1199.2,1803.1 1197.9,1802.2 1196.5,1801.3 1195.2,1800.3 1193.9,1799.1 1192.6,1797.8 1191.3,1796.8 1190,1795.7 1188.7,1794.5 1187.4,1793.2 1186.1,1791.7 1184.8,1789.9 1183.5,1787.7 1182.2,1785.2 1180.9,1782.5 1179.6,1779.6 1178.3,1776.2 1177,1772.4 1175.7,1768.3 1174.4,1763.8 1173.1,1759 1171.8,1753.5 1170.5,1747.3 1169.2,1740.4 1167.9,1733 1166.6,1725.4 1165.3,1717.5 1164,1709.2 1162.7,1700.5 1161.4,1691.4 1160.1,1682.1 1158.8,1672.6 1157.5,1663 1156.2,1653.2 1154.9,1643.1 1153.6,1632.6 1152.3,1621.8 1151,1610.8 1149.7,1599.8 1148.4,1588.9 1147.1,1578.1 1145.8,1567.4 1144.5,1556.7 1143.2,1546 1141.9,1535.3 1140.6,1524.7 1139.3,1514.1 1137.9,1503.4 1136.6,1492.7 1135.3,1481.8 1134,1470.9 1132.7,1460.1 1131.4,1449.4 1130.1,1438.9 1128.8,1428.4 1127.5,1417.8 1126.2,1407.2 1124.9,1396.5 1123.6,1386 1122.3,1375.8 1121,1366 1119.7,1356.6 1118.4,1347.6 1117.1,1338.9 1115.8,1330.5 1114.5,1322.3 1113.2,1314.4 1111.9,1306.7 1110.6,1299.2 1109.3,1291.8 1108,1284.6 1106.7,1277.8 1105.4,1271.5 1104.1,1265.6 1102.8,1259.8 1101.5,1254.4 1100.2,1249.7 1098.9,1246 1097.6,1243.2 1096.3,1241 1095,1239.2 1093.7,1237.9 1092.4,1237.2 1091.1,1237.1 1089.8,1237.4 1088.5,1237.9 1087.2,1238.8 1085.9,1240.3 1084.6,1242.3 1083.3,1244.7 1082,1247.6 1080.6,1250.8 1079.3,1254.6 1078,1259.1 1076.7,1264 1075.4,1269.4 1074.1,1275 1072.8,1280.7 1071.5,1286.7 1070.2,1293.1 1068.9,1299.9 1067.6,1307.1 1066.3,1314.6 1065,1322.3 1063.7,1330.2 1062.4,1338.4 1061.1,1346.9 1059.8,1355.8 1058.5,1365 1057.2,1374.4 1055.9,1383.9 1054.6,1393.4 1053.3,1403.2 1052,1413.1 1050.7,1423.3 1049.4,1433.7 1048.1,1444.2 1046.8,1454.6 1045.5,1465.1 1044.2,1475.7 1042.9,1486.4 1041.6,1497.2 1040.3,1508.1 1039,1519 1037.7,1529.8 1036.4,1540.6 1035.1,1551.3 1033.8,1562.1 1032.5,1572.9 1031.2,1583.7 1029.9,1594.3 1028.6,1604.8 1027.3,1615.1 1026,1625.4 1024.7,1635.6 1023.3,1645.6 1022,1655.2 1020.7,1664.3 1019.4,1672.8 1018.1,1681 1016.8,1689 1015.5,1696.5 1014.2,1703.5 1012.9,1710 1011.6,1716 1010.3,1721.7 1009,1727.2 1007.7,1732.3 1006.4,1737.1 1005.1,1741.7 1003.8,1746.1 1002.5,1750.2 1001.2,1753.9 999.9,1757.3 998.6,1760.2 997.3,1762.9 996,1765.4 994.7,1767.8 993.4,1769.9 992.1,1771.9 990.8,1773.7 989.5,1775.4 988.2,1776.9 986.9,1778.5 985.6,1780.1 984.3,1781.6 983,1783.2 981.7,1784.7 980.4,1786 979.1,1787.3 977.8,1788.4 976.5,1789.4 975.2,1790.4 973.9,1791.3 972.6,1792.2 971.3,1792.9 970,1793.6 968.7,1794.2 967.4,1794.8 966.1,1795.5 964.7,1796.3 963.4,1797.5 962.1,1799.1 960.8,1801 959.5,1803.1 958.2,1805.3 956.9,1807.8 955.6,1810.5 954.3,1813.4 953,1816.2 951.7,1818.5 950.4,1820.5 949.1,1822.4 947.8,1824.2 946.5,1825.5 945.2,1826.2 943.9,1826.4 942.6,1826.6 941.3,1826.6 940,1826.7 938.7,1826.7 937.4,1826.7 936.1,1826.6 934.8,1826.5 933.5,1826.3 932.2,1826 930.9,1825.5 929.6,1825.1 928.3,1824.6 927,1824.1 925.7,1823.9 924.4,1823.7 923.1,1823.8 921.8,1823.9 920.5,1824.2 919.2,1824.5 917.9,1824.8 916.6,1825 915.3,1825.3 914,1825.5 912.7,1825.6 911.4,1825.7 910.1,1825.7 908.8,1825.5 907.4,1825.3 906.1,1825 904.8,1824.6 903.5,1824.1 902.2,1823.6 900.9,1823.2 899.6,1822.8 898.3,1822.5 897,1822.4 895.7,1822.5 894.4,1822.6 893.1,1822.9 891.8,1823.1 890.5,1823.4 889.2,1823.7 887.9,1824 886.6,1824.2 885.3,1824.3 884,1824.4 882.7,1824.4 881.4,1824.2 880.1,1824 878.8,1823.6 877.5,1823.2 876.2,1822.7 874.9,1822.2 873.6,1821.8 872.3,1821.6 871,1821.6 869.7,1821.7 868.4,1821.9 867.1,1822.2 865.8,1822.5 864.5,1822.7 863.2,1822.9 861.9,1823.1 860.6,1823.1 859.3,1823 858,1822.8 856.7,1822.4 855.4,1821.8 854.1,1821.1 852.8,1820.4 851.5,1819.8 850.1,1819.3 848.8,1819 847.5,1818.9 846.2,1818.9 844.9,1818.9 843.6,1818.9 842.3,1818.9 841,1818.9 839.7,1819 838.4,1819.4 837.1,1820.1 835.8,1821.1 834.5,1822.1 833.2,1823.2 831.9,1824.2 830.6,1825.3 829.3,1826.4 828,1827.6 826.7,1828.7 825.4,1829.6 824.1,1830.3 822.8,1830.6 821.5,1830.8 820.2,1830.9 818.9,1830.9 817.6,1830.8 816.3,1830.7 815,1830.5 813.7,1830.4 812.4,1830.2 811.1,1830 809.8,1829.7 808.5,1829.4 807.2,1828.9 805.9,1828.3 804.6,1827.6 803.3,1826.8 802,1825.9 800.7,1825 799.4,1824.2 798.1,1823.5 796.8,1822.8 795.5,1822 794.2,1821.2 792.9,1820.7" fill="#86d85a" fill-opacity="0.39"/>
<polyline points="792.9,1829.2 794.2,1829.3 795.5,1829.4 796.8,1829.6 798.1,1829.8 799.4,1829.9 800.7,1830 802,1830.2 803.3,1830.3 804.6,1830.4 805.9,1830.5 807.2,1830.6 808.5,1830.7 809.8,1830.8 811.1,1830.9 812.4,1830.9 813.7,1831 815,1831.1 816.3,1831.2 817.6,1831.3 818.9,1831.4 820.2,1831.6 821.5,1831.8 822.8,1832 824.1,1832.3 825.4,1832.6 826.7,1832.9 828,1833.1 829.3,1833.4 830.6,1833.5 831.9,1833.6 833.2,1833.6 834.5,1833.6 835.8,1833.4 837.1,1833.2 838.4,1833 839.7,1832.8 841,1832.5 842.3,1832.3 843.6,1832.1 844.9,1832 846.2,1831.9 847.5,1831.9 848.8,1831.9 850.1,1831.9 851.5,1831.9 852.8,1831.9 854.1,1831.9 855.4,1831.9 856.7,1831.9 858,1831.9 859.3,1831.9 860.6,1831.9 861.9,1831.9 863.2,1832 864.5,1832.1 865.8,1832.3 867.1,1832.4 868.4,1832.6 869.7,1832.8 871,1832.9 872.3,1833.1 873.6,1833.2 874.9,1833.3 876.2,1833.3 877.5,1833.4 878.8,1833.5 880.1,1833.5 881.4,1833.6 882.7,1833.6 884,1833.6 885.3,1833.7 886.6,1833.7 887.9,1833.7 889.2,1833.6 890.5,1833.6 891.8,1833.5 893.1,1833.4 894.4,1833.3 895.7,1833.1 897,1833 898.3,1832.9 899.6,1832.9 900.9,1832.8 902.2,1832.8 903.5,1832.8 904.8,1832.8 906.1,1832.8 907.4,1832.8 908.8,1832.8 910.1,1832.8 911.4,1832.8 912.7,1832.8 914,1832.8 915.3,1832.8 916.6,1832.7 917.9,1832.6 919.2,1832.4 920.5,1832.1 921.8,1831.9 923.1,1831.5 924.4,1831.2 925.7,1830.9 927,1830.5 928.3,1830.2 929.6,1829.9 930.9,1829.6 932.2,1829.3 933.5,1829 934.8,1828.7 936.1,1828.4 937.4,1828.3 938.7,1828.3 940,1828.4 941.3,1828.5 942.6,1828.8 943.9,1829.1 945.2,1829.4 946.5,1829.8 947.8,1830.1 949.1,1830.6 950.4,1831 951.7,1831.5 953,1832 954.3,1832.3 955.6,1832.6 956.9,1832.7 958.2,1832.7 959.5,1832.6 960.8,1832.5 962.1,1832.3 963.4,1832.2 964.7,1832 966.1,1831.9 967.4,1831.7 968.7,1831.6 970,1831.5 971.3,1831.3 972.6,1831.2 973.9,1831.1 975.2,1830.9 976.5,1830.8 977.8,1830.7 979.1,1830.5 980.4,1830.4 981.7,1830.3 983,1830.1 984.3,1830 985.6,1829.9 986.9,1829.7 988.2,1829.5 989.5,1829.4 990.8,1829.1 992.1,1828.9 993.4,1828.7 994.7,1828.3 996,1828 997.3,1827.4 998.6,1826.7 999.9,1825.7 1001.2,1824.3 1002.5,1822.6 1003.8,1820.6 1005.1,1818.3 1006.4,1815.6 1007.7,1812.4 1009,1808.7 1010.3,1804.4 1011.6,1799.5 1012.9,1794.1 1014.2,1788.1 1015.5,1781.6 1016.8,1774.5 1018.1,1766.9 1019.4,1758.6 1020.7,1749.8 1022,1740.6 1023.3,1731.2 1024.7,1721.8 1026,1712.3 1027.3,1702.7 1028.6,1693.1 1029.9,1683.5 1031.2,1673.8 1032.5,1664 1033.8,1654.3 1035.1,1644.8 1036.4,1635.7 1037.7,1626.9 1039,1618.5 1040.3,1610.5 1041.6,1602.8 1042.9,1595.4 1044.2,1588.4 1045.5,1581.7 1046.8,1575.2 1048.1,1569.2 1049.4,1563.4 1050.7,1558 1052,1553 1053.3,1548.2 1054.6,1543.8 1055.9,1539.7 1057.2,1535.9 1058.5,1532.6 1059.8,1529.4 1061.1,1526.6 1062.4,1524.1 1063.7,1522.1 1065,1520.3 1066.3,1518.9 1067.6,1517.6 1068.9,1516.5 1070.2,1515.6 1071.5,1514.8 1072.8,1514.2 1074.1,1513.7 1075.4,1513.4 1076.7,1513.1 1078,1512.9 1079.3,1512.7 1080.6,1512.5 1082,1512.5 1083.3,1512.5 1084.6,1512.6 1085.9,1512.8 1087.2,1513.2 1088.5,1513.6 1089.8,1514.1 1091.1,1514.7 1092.4,1515.3 1093.7,1516.1 1095,1517 1096.3,1518.1 1097.6,1519.3 1098.9,1520.5 1100.2,1521.8 1101.5,1523.2 1102.8,1524.6 1104.1,1526.1 1105.4,1527.7 1106.7,1529.3 1108,1531.1 1109.3,1532.8 1110.6,1534.6 1111.9,1536.5 1113.2,1538.4 1114.5,1540.3 1115.8,1542.3 1117.1,1544.3 1118.4,1546.3 1119.7,1548.3 1121,1550.2 1122.3,1552.2 1123.6,1554.2 1124.9,1556.1 1126.2,1558.1 1127.5,1560 1128.8,1561.9 1130.1,1563.8 1131.4,1565.7 1132.7,1567.5 1134,1569.3 1135.3,1571.1 1136.6,1572.9 1137.9,1574.7 1139.3,1576.5 1140.6,1578.2 1141.9,1579.9 1143.2,1581.7 1144.5,1583.4 1145.8,1585.2 1147.1,1587.1 1148.4,1588.9 1149.7,1590.9 1151,1592.9 1152.3,1594.9 1153.6,1596.9 1154.9,1598.8 1156.2,1600.6 1157.5,1602.4 1158.8,1604.1 1160.1,1605.7 1161.4,1607.3 1162.7,1608.9 1164,1610.5 1165.3,1612.1 1166.6,1613.9 1167.9,1615.7 1169.2,1617.5 1170.5,1619.3 1171.8,1621.2 1173.1,1623 1174.4,1624.8 1175.7,1626.6 1177,1628.4 1178.3,1630.2 1179.6,1632 1180.9,1633.7 1182.2,1635.5 1183.5,1637.2 1184.8,1638.9 1186.1,1640.6 1187.4,1642.3 1188.7,1644 1190,1645.6 1191.3,1647.1 1192.6,1648.6 1193.9,1650 1195.2,1651.3 1196.5,1652.6 1197.9,1653.8 1199.2,1654.9 1200.5,1656 1201.8,1657 1203.1,1657.9 1204.4,1658.8 1205.7,1659.5 1207,1660.3 1208.3,1661 1209.6,1661.8 1210.9,1662.6 1212.2,1663.4 1213.5,1664.3 1214.8,1665.2 1216.1,1666.2 1217.4,1667.1 1218.7,1668.2 1220,1669.3 1221.3,1670.5 1222.6,1671.9 1223.9,1673.3 1225.2,1674.8 1226.5,1676.4 1227.8,1678 1229.1,1679.5 1230.4,1681 1231.7,1682.5 1233,1684 1234.3,1685.5 1235.6,1686.9 1236.9,1688.3 1238.2,1689.7 1239.5,1691 1240.8,1692.3 1242.1,1693.6 1243.4,1694.8 1244.7,1696 1246,1697.1 1247.3,1698.1 1248.6,1699 1249.9,1699.9 1251.2,1700.7 1252.5,1701.4 1253.8,1702.1 1255.2,1702.6 1256.5,1703 1257.8,1703.3 1259.1,1703.5 1260.4,1703.7 1261.7,1703.8 1263,1703.9 1264.3,1704 1265.6,1704.2 1266.9,1704.3 1268.2,1704.5 1269.5,1704.8 1270.8,1705.1 1272.1,1705.4 1273.4,1705.8 1274.7,1706.2 1276,1706.8 1277.3,1707.4 1278.6,1708.2 1279.9,1709.2 1281.2,1710.3 1282.5,1711.4 1283.8,1712.5 1285.1,1713.6 1286.4,1714.7 1287.7,1715.9 1289,1717.1 1290.3,1718.3 1291.6,1719.5 1292.9,1720.7 1294.2,1721.8 1295.5,1722.8 1296.8,1723.9 1298.1,1724.9 1299.4,1725.9 1300.7,1726.8 1302,1727.7 1303.3,1728.6 1304.6,1729.5 1305.9,1730.3 1307.2,1731.1 1308.5,1731.9 1309.8,1732.6 1311.1,1733.3 1312.5,1733.8" fill="none" stroke="#4f81ac" stroke-width="2.1" stroke-linejoin="round" stroke-linecap="butt"/>
<polyline points="792.9,1696 794.2,1693.8 795.5,1690.9 796.8,1687.5 798.1,1684 799.4,1680.4 800.7,1676.7 802,1672.9 803.3,1669 804.6,1664.9 805.9,1660.7 807.2,1656.2 808.5,1651.5 809.8,1646.5 811.1,1641.6 812.4,1636.6 813.7,1631.8 815,1627.3 816.3,1623.1 817.6,1619.2 818.9,1615.6 820.2,1612 821.5,1608.6 822.8,1605.4 824.1,1602.4 825.4,1599.5 826.7,1596.9 828,1594.5 829.3,1592.2 830.6,1589.9 831.9,1587.7 833.2,1585.6 834.5,1583.7 835.8,1582.1 837.1,1580.8 838.4,1580 839.7,1579.6 841,1579.6 842.3,1579.8 843.6,1580.2 844.9,1580.7 846.2,1581.2 847.5,1582 848.8,1582.9 850.1,1584.2 851.5,1585.9 852.8,1588.2 854.1,1591 855.4,1594 856.7,1597.4 858,1601.1 859.3,1605.1 860.6,1609.8 861.9,1615 863.2,1620.6 864.5,1626.7 865.8,1633 867.1,1639.5 868.4,1646.4 869.7,1653.6 871,1661.2 872.3,1669.1 873.6,1677.3 874.9,1685.6 876.2,1694 877.5,1702.5 878.8,1711.3 880.1,1720.1 881.4,1728.8 882.7,1737.3 884,1745.6 885.3,1753.7 886.6,1761.4 887.9,1768.2 889.2,1773.7 890.5,1777.6 891.8,1780 893.1,1780.8 894.4,1779.7 895.7,1776.9 897,1772.8 898.3,1767.7 899.6,1761.9 900.9,1755.2 902.2,1747.9 903.5,1739.9 904.8,1731.6 906.1,1722.8 907.4,1713.4 908.8,1703.3 910.1,1692.5 911.4,1681.2 912.7,1669.5 914,1657.7 915.3,1645.9 916.6,1633.9 917.9,1621.7 919.2,1609.4 920.5,1597 921.8,1584.4 923.1,1571.9 924.4,1559.4 925.7,1546.9 927,1534.3 928.3,1521.8 929.6,1509.3 930.9,1496.9 932.2,1484.7 933.5,1472.8 934.8,1461 936.1,1449.5 937.4,1438.1 938.7,1426.9 940,1415.9 941.3,1405.3 942.6,1394.8 943.9,1384.5 945.2,1374.3 946.5,1364.2 947.8,1354.4 949.1,1345.4 950.4,1337.4 951.7,1330.3 953,1324.2 954.3,1318.7 955.6,1313.9 956.9,1310.2 958.2,1307.9 959.5,1307.1 960.8,1307.5 962.1,1308.7 963.4,1310.5 964.7,1313.4 966.1,1317.8 967.4,1323.7 968.7,1330.8 970,1338.4 971.3,1346.2 972.6,1354.1 973.9,1362.2 975.2,1370.7 976.5,1379.3 977.8,1388.2 979.1,1397.3 980.4,1406.5 981.7,1415.9 983,1425.5 984.3,1435.4 985.6,1445.3 986.9,1455.2 988.2,1465.1 989.5,1475 990.8,1485 992.1,1494.9 993.4,1504.8 994.7,1514.7 996,1524.3 997.3,1533.7 998.6,1543 999.9,1552 1001.2,1560.9 1002.5,1569.7 1003.8,1578.1 1005.1,1586.2 1006.4,1594 1007.7,1601.5 1009,1608.9 1010.3,1616 1011.6,1622.9 1012.9,1629.3 1014.2,1634.7 1015.5,1639.3 1016.8,1643 1018.1,1646 1019.4,1648.5 1020.7,1650.5 1022,1651.7 1023.3,1651.7 1024.7,1650.2 1026,1647.1 1027.3,1642.8 1028.6,1637.6 1029.9,1631.9 1031.2,1625.8 1032.5,1619.2 1033.8,1611.8 1035.1,1603.9 1036.4,1595.5 1037.7,1586.9 1039,1578 1040.3,1569 1041.6,1559.6 1042.9,1549.9 1044.2,1539.9 1045.5,1529.9 1046.8,1519.9 1048.1,1510.2 1049.4,1500.6 1050.7,1491.2 1052,1481.8 1053.3,1472.6 1054.6,1463.5 1055.9,1454.6 1057.2,1445.9 1058.5,1437.4 1059.8,1429 1061.1,1420.7 1062.4,1412.6 1063.7,1404.8 1065,1397.5 1066.3,1390.6 1067.6,1384.2 1068.9,1378 1070.2,1372.2 1071.5,1366.7 1072.8,1361.6 1074.1,1357 1075.4,1352.9 1076.7,1349.2 1078,1345.8 1079.3,1342.6 1080.6,1339.7 1082,1337.2 1083.3,1335.1 1084.6,1333.4 1085.9,1332.1 1087.2,1331.1 1088.5,1330.3 1089.8,1329.7 1091.1,1329.6 1092.4,1330 1093.7,1331 1095,1332.5 1096.3,1334.5 1097.6,1336.8 1098.9,1339.4 1100.2,1342.5 1101.5,1346.3 1102.8,1350.8 1104.1,1355.9 1105.4,1361.4 1106.7,1367.1 1108,1373 1109.3,1379.3 1110.6,1385.8 1111.9,1392.8 1113.2,1400.1 1114.5,1407.6 1115.8,1415.2 1117.1,1422.8 1118.4,1430.4 1119.7,1438.1 1121,1445.9 1122.3,1453.7 1123.6,1461.6 1124.9,1469.5 1126.2,1477.4 1127.5,1485.2 1128.8,1493 1130.1,1500.8 1131.4,1508.7 1132.7,1516.5 1134,1524.3 1135.3,1532.1 1136.6,1539.9 1137.9,1547.7 1139.3,1555.5 1140.6,1563.3 1141.9,1571.2 1143.2,1579 1144.5,1586.8 1145.8,1594.6 1147.1,1602.4 1148.4,1610.2 1149.7,1618 1151,1625.9 1152.3,1633.7 1153.6,1641.5 1154.9,1649.3 1156.2,1657.1 1157.5,1664.9 1158.8,1672.7 1160.1,1680.6 1161.4,1688.4 1162.7,1696.2 1164,1704.1 1165.3,1712 1166.6,1720 1167.9,1728 1169.2,1735.9 1170.5,1743.5 1171.8,1751 1173.1,1758.3 1174.4,1765.5 1175.7,1772.5 1177,1779.4 1178.3,1785.9 1179.6,1791.9 1180.9,1797.5 1182.2,1802.6 1183.5,1807.4 1184.8,1811.7 1186.1,1815.5 1187.4,1818.7 1188.7,1821.4 1190,1823.5 1191.3,1825.1 1192.6,1826.3 1193.9,1826.8 1195.2,1826.8 1196.5,1826.2 1197.9,1825.4 1199.2,1824.3 1200.5,1823.1 1201.8,1821.8 1203.1,1820.4 1204.4,1818.9 1205.7,1817.2 1207,1815.4 1208.3,1813.5 1209.6,1811.5 1210.9,1809.5 1212.2,1807.6 1213.5,1805.7 1214.8,1803.8 1216.1,1802 1217.4,1800.2 1218.7,1798.4 1220,1796.6 1221.3,1794.8 1222.6,1793 1223.9,1791.3 1225.2,1789.7 1226.5,1788.1 1227.8,1786.6 1229.1,1785.1 1230.4,1783.6 1231.7,1782.1 1233,1780.7 1234.3,1779.5 1235.6,1778.5 1236.9,1777.7 1238.2,1776.9 1239.5,1776.3 1240.8,1775.7 1242.1,1775.3 1243.4,1774.9 1244.7,1774.7 1246,1774.6 1247.3,1774.7 1248.6,1774.9 1249.9,1775.2 1251.2,1775.6 1252.5,1776 1253.8,1776.5 1255.2,1776.9 1256.5,1777.4 1257.8,1777.8 1259.1,1778.3 1260.4,1778.8 1261.7,1779.4 1263,1779.9 1264.3,1780.5 1265.6,1781 1266.9,1781.5 1268.2,1781.8 1269.5,1782.1 1270.8,1782.2 1272.1,1782.1 1273.4,1782 1274.7,1781.7 1276,1781.2 1277.3,1780.8 1278.6,1780.2 1279.9,1779.7 1281.2,1779.2 1282.5,1778.7 1283.8,1778.1 1285.1,1777.6 1286.4,1777 1287.7,1776.4 1289,1775.8 1290.3,1775.3 1291.6,1774.7 1292.9,1774.2 1294.2,1773.7 1295.5,1773.4 1296.8,1773 1298.1,1772.7 1299.4,1772.5 1300.7,1772.2 1302,1772 1303.3,1771.7 1304.6,1771.5 1305.9,1771.3 1307.2,1771.2 1308.5,1771 1309.8,1770.9 1311.1,1770.9 1312.5,1770.8" fill="none" stroke="#e5444a" stroke-width="2.1" stroke-linejoin="round" stroke-linecap="butt"/>
<polyline points="792.9,1810.2 794.2,1810.7 795.5,1811.4 796.8,1812.1 798.1,1812.9 799.4,1813.7 800.7,1814.5 802,1815.3 803.3,1816.2 804.6,1817.1 805.9,1818 807.2,1818.7 808.5,1819.4 809.8,1819.8 811.1,1820.1 812.4,1820.4 813.7,1820.6 815,1820.8 816.3,1821 817.6,1821.1 818.9,1821.2 820.2,1821.2 821.5,1821.1 822.8,1820.7 824.1,1820 825.4,1819 826.7,1817.8 828,1816.6 829.3,1815.4 830.6,1814.3 831.9,1813.3 833.2,1812.2 834.5,1811.1 835.8,1810.2 837.1,1809.4 838.4,1808.9 839.7,1808.6 841,1808.5 842.3,1808.4 843.6,1808.4 844.9,1808.4 846.2,1808.4 847.5,1808.5 848.8,1808.6 850.1,1808.8 851.5,1809.2 852.8,1809.8 854.1,1810.4 855.4,1811.2 856.7,1811.8 858,1812.4 859.3,1812.8 860.6,1812.9 861.9,1812.9 863.2,1812.7 864.5,1812.5 865.8,1812.2 867.1,1811.9 868.4,1811.6 869.7,1811.4 871,1811.3 872.3,1811.3 873.6,1811.5 874.9,1811.9 876.2,1812.3 877.5,1812.8 878.8,1813.3 880.1,1813.7 881.4,1814.1 882.7,1814.3 884,1814.3 885.3,1814.2 886.6,1814 887.9,1813.8 889.2,1813.5 890.5,1813.2 891.8,1812.9 893.1,1812.6 894.4,1812.4 895.7,1812.2 897,1812.2 898.3,1812.3 899.6,1812.5 900.9,1812.9 902.2,1813.3 903.5,1813.8 904.8,1814.3 906.1,1814.8 907.4,1815.2 908.8,1815.5 910.1,1815.7 911.4,1815.7 912.7,1815.6 914,1815.4 915.3,1815.2 916.6,1814.9 917.9,1814.6 919.2,1814.3 920.5,1814 921.8,1813.8 923.1,1813.6 924.4,1813.6 925.7,1813.7 927,1814 928.3,1814.3 929.6,1814.8 930.9,1815.3 932.2,1815.8 933.5,1816.2 934.8,1816.5 936.1,1816.6 937.4,1816.7 938.7,1816.7 940,1816.7 941.3,1816.7 942.6,1816.5 943.9,1815.9 945.2,1814.7 946.5,1813.1 947.8,1811 949.1,1808.7 950.4,1806.4 951.7,1803.8 953,1801.2 954.3,1798.5 955.6,1795.9 956.9,1793.6 958.2,1791.4 959.5,1789.5 960.8,1787.7 962.1,1786.2 963.4,1784.9 964.7,1783.9 966.1,1783.2 967.4,1782.5 968.7,1781.9 970,1781.1 971.3,1780.3 972.6,1779.4 973.9,1778.4 975.2,1777.4 976.5,1776.2 977.8,1774.9 979.1,1773.5 980.4,1772 981.7,1770.5 983,1768.8 984.3,1767.1 985.6,1765.4 986.9,1763.6 988.2,1761.7 989.5,1759.7 990.8,1757.5 992.1,1755.1 993.4,1752.4 994.7,1749.5 996,1746.3 997.3,1742.8 998.6,1739 999.9,1734.8 1001.2,1730.3 1002.5,1725.4 1003.8,1720.1 1005.1,1714.6 1006.4,1708.8 1007.7,1702.7 1009,1696.2 1010.3,1689.3 1011.6,1682 1012.9,1674.3 1014.2,1666.1 1015.5,1657.5 1016.8,1648.5 1018.1,1639.1 1019.4,1629.5 1020.7,1619.5 1022,1609.2 1023.3,1598.6 1024.7,1587.9 1026,1577.1 1027.3,1566.2 1028.6,1555.2 1029.9,1544.1 1031.2,1533 1032.5,1521.8 1033.8,1510.7 1035.1,1499.5 1036.4,1488.4 1037.7,1477.3 1039,1466.1 1040.3,1455 1041.6,1444 1042.9,1433 1044.2,1422.2 1045.5,1411.4 1046.8,1400.8 1048.1,1390.2 1049.4,1379.7 1050.7,1369.4 1052,1359.4 1053.3,1349.5 1054.6,1339.8 1055.9,1330.2 1057.2,1320.8 1058.5,1311.7 1059.8,1302.8 1061.1,1294.2 1062.4,1285.9 1063.7,1277.9 1065,1270.2 1066.3,1262.7 1067.6,1255.5 1068.9,1248.6 1070.2,1242.1 1071.5,1236 1072.8,1230.1 1074.1,1224.4 1075.4,1219.1 1076.7,1214 1078,1209.4 1079.3,1205.4 1080.6,1201.9 1082,1198.9 1083.3,1196.2 1084.6,1193.9 1085.9,1192.1 1087.2,1190.7 1088.5,1189.9 1089.8,1189.3 1091.1,1189.1 1092.4,1189.2 1093.7,1189.8 1095,1191 1096.3,1192.6 1097.6,1194.7 1098.9,1197.2 1100.2,1200.4 1101.5,1204.4 1102.8,1209.2 1104.1,1214.5 1105.4,1220.2 1106.7,1226.2 1108,1232.6 1109.3,1239.4 1110.6,1246.6 1111.9,1254 1113.2,1261.6 1114.5,1269.5 1115.8,1277.5 1117.1,1285.8 1118.4,1294.3 1119.7,1303.1 1121,1312.2 1122.3,1321.5 1123.6,1331.3 1124.9,1341.3 1126.2,1351.7 1127.5,1362.3 1128.8,1373 1130.1,1383.8 1131.4,1394.6 1132.7,1405.5 1134,1416.5 1135.3,1427.6 1136.6,1438.7 1137.9,1449.9 1139.3,1461 1140.6,1472.1 1141.9,1483.2 1143.2,1494.3 1144.5,1505.3 1145.8,1516.4 1147.1,1527.5 1148.4,1538.6 1149.7,1549.7 1151,1560.8 1152.3,1572.1 1153.6,1583.3 1154.9,1594.5 1156.2,1605.5 1157.5,1616.3 1158.8,1626.9 1160.1,1637.3 1161.4,1647.5 1162.7,1657.6 1164,1667.4 1165.3,1677 1166.6,1686.2 1167.9,1695.1 1169.2,1703.8 1170.5,1712.1 1171.8,1720 1173.1,1727.5 1174.4,1734.3 1175.7,1740.7 1177,1746.5 1178.3,1752 1179.6,1756.9 1180.9,1761.4 1182.2,1765.4 1183.5,1769.1 1184.8,1772.4 1186.1,1775.4 1187.4,1778 1188.7,1780.1 1190,1782 1191.3,1783.6 1192.6,1784.9 1193.9,1785.9 1195.2,1786.6 1196.5,1787.1 1197.9,1787.3 1199.2,1787.5 1200.5,1787.7 1201.8,1787.7 1203.1,1787.6 1204.4,1787.3 1205.7,1786.9 1207,1786.5 1208.3,1786.3 1209.6,1786.3 1210.9,1786.8 1212.2,1787.7 1213.5,1788.8 1214.8,1790.1 1216.1,1791.6 1217.4,1793.2 1218.7,1794.9 1220,1796.8 1221.3,1798.5 1222.6,1800.1 1223.9,1801.4 1225.2,1802.6 1226.5,1803.7 1227.8,1804.7 1229.1,1805.6 1230.4,1806.4 1231.7,1807.3 1233,1808.1 1234.3,1808.8 1235.6,1809.6 1236.9,1810.3 1238.2,1810.9 1239.5,1811.5 1240.8,1811.9 1242.1,1812.3 1243.4,1812.6 1244.7,1812.8 1246,1813.1 1247.3,1813.3 1248.6,1813.4 1249.9,1813.4 1251.2,1813.2 1252.5,1812.8 1253.8,1812 1255.2,1811.1 1256.5,1810.1 1257.8,1809 1259.1,1808 1260.4,1807.1 1261.7,1806.1 1263,1805.2 1264.3,1804.3 1265.6,1803.4 1266.9,1802.6 1268.2,1801.9 1269.5,1801.4 1270.8,1800.9 1272.1,1800.4 1273.4,1800.1 1274.7,1799.9 1276,1799.9 1277.3,1800 1278.6,1800.3 1279.9,1800.7 1281.2,1801.1 1282.5,1801.5 1283.8,1802 1285.1,1802.5 1286.4,1802.9 1287.7,1803.4 1289,1803.8 1290.3,1804.1 1291.6,1804.2 1292.9,1804.3 1294.2,1804.3 1295.5,1804.3 1296.8,1804.2 1298.1,1804.2 1299.4,1804.1 1300.7,1804 1302,1803.9 1303.3,1803.8 1304.6,1803.7 1305.9,1803.4 1307.2,1803.1 1308.5,1802.8 1309.8,1802.4 1311.1,1802 1312.5,1801.8" fill="none" stroke="#7acb50" stroke-width="2.1" stroke-linejoin="round" stroke-linecap="butt"/>
</g>
<polyline points="793.3,1126.9 793.3,1840.6 1313.8,1840.6" fill="none" stroke="#000" stroke-width="2.7" stroke-linejoin="miter" stroke-linecap="butt"/>
<line x1="793.3" y1="1128.2" x2="804.2" y2="1128.2" stroke="#000" stroke-width="2.7"/>
<line x1="793.3" y1="1246.6" x2="804.2" y2="1246.6" stroke="#000" stroke-width="2.7"/>
<line x1="793.3" y1="1366" x2="804.2" y2="1366" stroke="#000" stroke-width="2.7"/>
<line x1="793.3" y1="1484" x2="804.2" y2="1484" stroke="#000" stroke-width="2.7"/>
<line x1="793.3" y1="1603.3" x2="804.2" y2="1603.3" stroke="#000" stroke-width="2.7"/>
<line x1="793.3" y1="1721.2" x2="804.2" y2="1721.2" stroke="#000" stroke-width="2.7"/>
<line x1="965.9" y1="1840.6" x2="965.9" y2="1829" stroke="#000" stroke-width="2.7"/>
<line x1="1139.4" y1="1840.6" x2="1139.4" y2="1829" stroke="#000" stroke-width="2.7"/>
<line x1="1312.4" y1="1840.6" x2="1312.4" y2="1829" stroke="#000" stroke-width="2.7"/>
<text x="786.5" y="1139.2" font-size="39" text-anchor="end">0.3</text>
<text x="786.5" y="1375.9" font-size="39" text-anchor="end">0.2</text>
<text x="786.5" y="1613.3" font-size="39" text-anchor="end">0.1</text>
<text x="778" y="1852" font-size="39" text-anchor="end">0</text>
<text x="790.6" y="1881" font-size="39" text-anchor="middle">-1</text>
<text x="947.5" y="1881" font-size="39" text-anchor="middle">0</text>
<text x="1132" y="1881" font-size="39" text-anchor="middle">1</text>
<text x="1311.5" y="1881" font-size="39" text-anchor="middle">2</text>
<text x="1065.7" y="1944.8" font-size="39" font-weight="bold" text-anchor="middle">Time (s)</text>
<line x1="1160" y1="1193.5" x2="1236.7" y2="1193.5" stroke="#5c8bb5" stroke-width="8.3"/>
<line x1="1156.3" y1="1243.8" x2="1233" y2="1243.8" stroke="#e8474a" stroke-width="8.3"/>
<line x1="1156.3" y1="1291.8" x2="1233" y2="1291.8" stroke="#85d45b" stroke-width="8.3"/>
<text x="1247.3" y="1202.2" font-size="39" font-weight="bold" fill="#5c8bb5">Random</text>
<text x="1246.5" y="1252.6" font-size="39" font-weight="bold" fill="#e8474a">Expected</text>
<text x="1243" y="1301" font-size="39" font-weight="bold" fill="#85d45b">Unexpected</text>
</g>
<g id="panel-e">
<text x="1337.3" y="1111.7" font-size="48.5" font-weight="bold">e</text>
<polygon points="1477.1,1825.1 1516.2,1823.2 1539.3,1819.8 1555.3,1816.5 1568.1,1817.1 1579,1814.5 1587.4,1802.9 1593.1,1804.1 1600.8,1811.1 1602.8,1802.8 1607.2,1809.1 1612.4,1797.6 1616.9,1799.5 1621.4,1798.2 1625.8,1803.9 1630.3,1797.5 1633.5,1800.7 1638,1796.1 1640.6,1792.9 1647,1792.2 1649.6,1789.7 1654.7,1789.6 1659.2,1778 1663.7,1773.5 1666.9,1781.2 1671.4,1767.7 1675.2,1776.7 1683.6,1758.7 1688.1,1763.1 1690,1752.2 1692.6,1756 1695.8,1761.8 1707.3,1738 1713.1,1747 1720,1735.4 1725.4,1717.9 1729.9,1738.1 1734.4,1724.6 1741.1,1711.1 1750.1,1699.9 1756,1704.3 1759.5,1683.6 1763.6,1684.9 1768.4,1671.3 1773.1,1664.4 1777.2,1650 1783.4,1653.4 1788.8,1642.5 1801.1,1617.8 1805.9,1617.8 1810,1601.4 1814.1,1600 1818.9,1593.2 1827.1,1572.7 1831.2,1574 1836.6,1561.7 1840.1,1542.6 1844.8,1541.2 1848.9,1534.3 1853,1523.5 1857.1,1518.2 1869.4,1484.4 1883.1,1464.4 1896.7,1437.5 1896.7,1442.5 1883.1,1470.2 1869.4,1491.1 1857.1,1525.7 1853,1531.3 1848.9,1542.3 1844.8,1549.1 1840.1,1550.5 1836.6,1569.6 1831.2,1581.8 1827.1,1580.4 1818.9,1600.9 1814.1,1607.7 1810,1609 1805.9,1625.4 1801.1,1625.4 1788.8,1649.9 1783.4,1660.8 1777.2,1657.4 1773.1,1671.7 1768.4,1678.5 1763.6,1692.1 1759.5,1690.7 1756,1711.5 1750.1,1706.9 1741.1,1718.1 1734.4,1731.5 1729.9,1745 1725.4,1724.8 1720,1742.2 1713.1,1753.7 1707.3,1744.7 1695.8,1768.3 1692.6,1762.5 1690,1758.7 1688.1,1769.6 1683.6,1765.1 1675.2,1783 1671.4,1774 1666.9,1787.4 1663.7,1779.7 1659.2,1784.1 1654.7,1795.7 1649.6,1795.6 1647,1798.2 1640.6,1798.8 1638,1802 1633.5,1806.4 1630.3,1803.2 1625.8,1809.6 1621.4,1803.8 1616.9,1805.1 1612.4,1803.1 1607.2,1814.6 1602.8,1808.2 1600.8,1816.5 1593.1,1809.4 1587.4,1808.1 1579,1819.6 1568.1,1822.1 1555.3,1821.4 1539.3,1824.5 1516.2,1827.6 1477.1,1829.5" fill="#b9cbdf" stroke="#b9cbdf" stroke-width="1.6" stroke-linejoin="round"/>
<polyline points="1477.1,1827.3 1516.2,1825.4 1539.3,1822.1 1555.3,1818.9 1568.1,1819.6 1579,1817 1587.4,1805.5 1593.1,1806.8 1600.8,1813.8 1602.8,1805.5 1607.2,1811.9 1612.4,1800.3 1616.9,1802.3 1621.4,1801 1625.8,1806.8 1630.3,1800.3 1633.5,1803.5 1638,1799.1 1640.6,1795.8 1647,1795.2 1649.6,1792.6 1654.7,1792.6 1659.2,1781.1 1663.7,1776.6 1666.9,1784.3 1671.4,1770.8 1675.2,1779.8 1683.6,1761.9 1688.1,1766.3 1690,1755.4 1692.6,1759.3 1695.8,1765.1 1707.3,1741.3 1713.1,1750.3 1720,1738.8 1725.4,1721.4 1729.9,1741.5 1734.4,1728.1 1741.1,1714.6 1750.1,1703.4 1756,1707.9 1759.5,1687.2 1763.6,1688.5 1768.4,1674.9 1773.1,1668 1777.2,1653.7 1783.4,1657.1 1788.8,1646.2 1801.1,1621.6 1805.9,1621.6 1810,1605.2 1814.1,1603.9 1818.9,1597 1827.1,1576.6 1831.2,1577.9 1836.6,1565.6 1840.1,1546.5 1844.8,1545.1 1848.9,1538.3 1853,1527.4 1857.1,1521.9 1869.4,1487.8 1883.1,1467.3 1896.7,1440" fill="none" stroke="#4f81ac" stroke-width="2.3" stroke-linejoin="miter" stroke-linecap="butt"/>
<polygon points="1477.1,1815.5 1516.2,1814.3 1516.2,1807.2 1539.3,1816 1539.3,1806.4 1555.3,1805.6 1555.3,1814.6 1568.1,1803.6 1568.1,1807.5 1579,1808 1579,1813.8 1587.4,1797.1 1587.4,1806.7 1594.4,1793.8 1602.8,1789.2 1607.2,1801.4 1612.4,1786 1616.9,1788.5 1621.4,1783.3 1625.8,1786.5 1630.3,1785.2 1633.5,1771.7 1638,1787 1649.6,1767.7 1659.2,1776 1663.7,1767 1666.9,1766.9 1671.4,1757.3 1675.2,1768.8 1688.1,1737.9 1692.6,1752 1696.4,1723.1 1700.9,1731.4 1713.1,1708.2 1716.9,1719.7 1720,1706.9 1729.4,1679.4 1734.2,1694.4 1738.3,1680.7 1742.4,1676.6 1747.9,1684.8 1751.3,1667 1758.8,1658.7 1763.6,1634.8 1768.4,1651.8 1771.8,1632.7 1776.6,1629.9 1780.7,1600.5 1784.7,1623 1788.8,1602.5 1793.6,1604.5 1805.9,1550.5 1810,1560 1814.1,1547.7 1822.3,1516.3 1827.1,1518.3 1831.2,1510.7 1836,1485.4 1840.1,1486.1 1843.5,1466 1847.6,1462.4 1851.7,1447.9 1858.5,1436.4 1860.5,1425.8 1866.4,1416.4 1873.9,1395.5 1879,1375.6 1895,1334 1895,1336 1879,1378.4 1873.9,1398.8 1866.4,1421.6 1860.5,1432.4 1858.5,1443.6 1851.7,1456.7 1847.6,1472.2 1843.5,1476.8 1840.1,1497.7 1836,1497 1831.2,1522.2 1827.1,1529.7 1822.3,1527.6 1814.1,1559 1810,1571.2 1805.9,1561.6 1793.6,1615.5 1788.8,1613.4 1784.7,1633.9 1780.7,1611.3 1776.6,1640.6 1771.8,1643.3 1768.4,1662.4 1763.6,1645.3 1758.8,1669.2 1751.3,1677.3 1747.9,1695 1742.4,1686.8 1738.3,1690.9 1734.2,1704.5 1729.4,1689.4 1720,1716.8 1716.9,1729.6 1713.1,1718 1700.9,1741 1696.4,1732.6 1692.6,1761.5 1688.1,1747.3 1675.2,1778 1671.4,1766.4 1666.9,1776 1663.7,1776 1659.2,1784.9 1649.6,1776.5 1638,1795.7 1633.5,1780.3 1630.3,1793.7 1625.8,1794.9 1621.4,1791.7 1616.9,1796.8 1612.4,1794.2 1607.2,1809.5 1602.8,1797.3 1594.4,1801.8 1587.4,1814.5 1587.4,1804.9 1579,1821.5 1579,1815.7 1568.1,1815 1568.1,1811.2 1555.3,1822 1555.3,1813 1539.3,1813.5 1539.3,1823.1 1516.2,1814 1516.2,1821.1 1477.1,1822.3" fill="#fbb3b7" stroke="#fbb3b7" stroke-width="1.6" stroke-linejoin="round"/>
<polyline points="1477.1,1818.9 1516.2,1817.7 1516.2,1810.6 1539.3,1819.6 1539.3,1810 1555.3,1809.3 1555.3,1818.3 1568.1,1807.4 1568.1,1811.2 1579,1811.9 1579,1817.7 1587.4,1801 1587.4,1810.6 1594.4,1797.8 1602.8,1793.3 1607.2,1805.5 1612.4,1790.1 1616.9,1792.6 1621.4,1787.5 1625.8,1790.7 1630.3,1789.4 1633.5,1776 1638,1791.4 1649.6,1772.1 1659.2,1780.5 1663.7,1771.5 1666.9,1771.5 1671.4,1761.9 1675.2,1773.4 1688.1,1742.6 1692.6,1756.7 1696.4,1727.9 1700.9,1736.2 1713.1,1713.1 1716.9,1724.7 1720,1711.8 1729.4,1684.4 1734.2,1699.5 1738.3,1685.8 1742.4,1681.7 1747.9,1689.9 1751.3,1672.1 1758.8,1664 1763.6,1640.1 1768.4,1657.1 1771.8,1638 1776.6,1635.3 1780.7,1605.9 1784.7,1628.4 1788.8,1608 1793.6,1610 1805.9,1556.1 1810,1565.6 1814.1,1553.3 1822.3,1521.9 1827.1,1524 1831.2,1516.5 1836,1491.2 1840.1,1491.9 1843.5,1471.4 1847.6,1467.3 1851.7,1452.3 1858.5,1440 1860.5,1429.1 1866.4,1419 1873.9,1397.1 1879,1377 1895,1335" fill="none" stroke="#e6444a" stroke-width="2.3" stroke-linejoin="miter" stroke-linecap="butt"/>
<polygon points="1477.1,1792.6 1516.2,1795.1 1539.3,1787.7 1539.3,1781.3 1555.3,1781 1555.3,1786.8 1568.1,1782.1 1568.1,1787.8 1579,1785.7 1587.4,1775.3 1594.4,1786.1 1607.2,1765.3 1613,1775.5 1622.6,1763.8 1626.5,1770.7 1630.3,1747.6 1633.5,1748.8 1636.8,1746.8 1640.6,1735.2 1649.6,1745.3 1654.1,1756.1 1659.2,1723.3 1663.7,1737.3 1671.4,1700 1675.2,1726.9 1679.7,1711.4 1683.6,1711.3 1688.1,1707.4 1692.6,1700.9 1693.3,1691.6 1696,1676 1700.1,1675.3 1704.9,1652.6 1709,1670.3 1713.7,1636.1 1717.8,1660.6 1721.9,1630.5 1725.3,1633.2 1729.4,1626.3 1734.2,1641.3 1738.3,1613.2 1741.7,1612.5 1747.9,1601.5 1752,1586.4 1756.1,1587.7 1760.2,1563.1 1763.6,1552.1 1768.4,1558.8 1771.8,1534.2 1776.6,1535.5 1782,1525.9 1789.5,1499.1 1793.6,1499.7 1797,1477.8 1801.8,1483.5 1805.9,1464.9 1810,1457.3 1812.1,1445.3 1814.1,1431.9 1818.5,1413.7 1823.5,1412.7 1831.1,1369.6 1839.5,1358.2 1847.9,1337.3 1852.1,1316.4 1857.1,1304.7 1861.3,1302.2 1868.9,1262.8 1873.9,1260.4 1878.2,1235.2 1882.4,1234.4 1885.7,1217.7 1895,1190.9 1895,1193.3 1885.7,1220.3 1882.4,1237.2 1878.2,1238.1 1873.9,1263.3 1868.9,1265.9 1861.3,1305.5 1857.1,1308.1 1852.1,1319.9 1847.9,1341 1839.5,1362.1 1831.1,1375.9 1823.5,1423.6 1818.5,1427.6 1814.1,1448.1 1812.1,1462 1810,1474.6 1805.9,1483.4 1801.8,1503 1797,1497.8 1793.6,1519.5 1789.5,1518.8 1782,1545.3 1776.6,1554.8 1771.8,1553.4 1768.4,1577.9 1763.6,1571 1760.2,1581.9 1756.1,1606.4 1752,1605 1747.9,1619.9 1741.7,1630.7 1738.3,1631.4 1734.2,1659.3 1729.4,1644.2 1725.3,1651 1721.9,1648.2 1717.8,1678.2 1713.7,1653.5 1709,1687.6 1704.9,1669.8 1700.1,1692.3 1696,1692.9 1693.3,1708.4 1692.6,1717.6 1688.1,1724 1683.6,1727.7 1679.7,1727.7 1675.2,1743 1671.4,1716 1663.7,1753 1659.2,1738.8 1654.1,1771.4 1649.6,1760.5 1640.6,1750 1636.8,1761.5 1633.5,1763.4 1630.3,1762 1626.5,1785 1622.6,1777.9 1613,1789.3 1607.2,1778.9 1594.4,1799.2 1587.4,1788.2 1579,1798.3 1568.1,1800 1568.1,1794.2 1555.3,1798.5 1555.3,1792.7 1539.3,1792.4 1539.3,1798.8 1516.2,1805.5 1477.1,1803" fill="#d2f2bc" stroke="#d2f2bc" stroke-width="1.6" stroke-linejoin="round"/>
<polyline points="1477.1,1797.8 1516.2,1800.3 1539.3,1793.3 1539.3,1786.9 1555.3,1786.9 1555.3,1792.6 1568.1,1788.2 1568.1,1793.9 1579,1792 1587.4,1781.7 1594.4,1792.6 1607.2,1772.1 1613,1782.4 1622.6,1770.8 1626.5,1777.9 1630.3,1754.8 1633.5,1756.1 1636.8,1754.2 1640.6,1742.6 1649.6,1752.9 1654.1,1763.8 1659.2,1731.1 1663.7,1745.2 1671.4,1708 1675.2,1734.9 1679.7,1719.5 1683.6,1719.5 1688.1,1715.7 1692.6,1709.3 1693.3,1700 1696,1684.4 1700.1,1683.8 1704.9,1661.2 1709,1679 1713.7,1644.8 1717.8,1669.4 1721.9,1639.4 1725.3,1642.1 1729.4,1635.3 1734.2,1650.3 1738.3,1622.3 1741.7,1621.6 1747.9,1610.7 1752,1595.7 1756.1,1597 1760.2,1572.5 1763.6,1561.5 1768.4,1568.4 1771.8,1543.8 1776.6,1545.1 1782,1535.6 1789.5,1509 1793.6,1509.6 1797,1487.8 1801.8,1493.3 1805.9,1474.1 1810,1465.9 1812.1,1453.7 1814.1,1440 1818.5,1420.7 1823.5,1418.2 1831.1,1372.8 1839.5,1360.2 1847.9,1339.2 1852.1,1318.2 1857.1,1306.4 1861.3,1303.9 1868.9,1264.4 1873.9,1261.8 1878.2,1236.6 1882.4,1235.8 1885.7,1219 1895,1192.1" fill="none" stroke="#7acb50" stroke-width="2.3" stroke-linejoin="miter" stroke-linecap="butt"/>
<polyline points="1477.5,1127 1477.5,1840.2 2000,1840.2" fill="none" stroke="#000" stroke-width="2.7" stroke-linejoin="miter" stroke-linecap="butt"/>
<line x1="1477.5" y1="1128.3" x2="1489" y2="1128.3" stroke="#000" stroke-width="2.7"/>
<line x1="1477.5" y1="1246.7" x2="1489" y2="1246.7" stroke="#000" stroke-width="2.7"/>
<line x1="1477.5" y1="1365.6" x2="1489" y2="1365.6" stroke="#000" stroke-width="2.7"/>
<line x1="1477.5" y1="1484.5" x2="1489" y2="1484.5" stroke="#000" stroke-width="2.7"/>
<line x1="1477.5" y1="1603.4" x2="1489" y2="1603.4" stroke="#000" stroke-width="2.7"/>
<line x1="1477.5" y1="1722.3" x2="1489" y2="1722.3" stroke="#000" stroke-width="2.7"/>
<line x1="1607.9" y1="1840.2" x2="1607.9" y2="1828.5" stroke="#000" stroke-width="2.7"/>
<line x1="1737.6" y1="1840.2" x2="1737.6" y2="1828.5" stroke="#000" stroke-width="2.7"/>
<line x1="1868.1" y1="1840.2" x2="1868.1" y2="1828.5" stroke="#000" stroke-width="2.7"/>
<text x="1465.5" y="1139.4" font-size="39" text-anchor="end">0.6</text>
<text x="1465.5" y="1377.7" font-size="39" text-anchor="end">0.4</text>
<text x="1465.5" y="1612.8" font-size="39" text-anchor="end">0.2</text>
<text x="1454.5" y="1851.5" font-size="39" text-anchor="end">0</text>
<text x="1597" y="1900.8" font-size="39" text-anchor="middle">10</text>
<text x="1740.5" y="1900.8" font-size="39" text-anchor="middle">100</text>
<text x="1882.5" y="1900.8" font-size="39" text-anchor="middle">1000</text>
<text x="1741" y="1945.2" font-size="39" font-weight="bold" text-anchor="middle">Neurons</text>
<line x1="1729.9" y1="1152.5" x2="1742.9" y2="1152.5" stroke="#e8474a" stroke-width="8"/>
<line x1="1751.3" y1="1152.5" x2="1772.6" y2="1152.5" stroke="#e8474a" stroke-width="8"/>
<line x1="1781" y1="1152.5" x2="1895" y2="1152.5" stroke="#e8474a" stroke-width="8"/>
<line x1="1516.5" y1="1176" x2="1587.2" y2="1176" stroke="#85d45b" stroke-width="8.1"/>
<line x1="1617.2" y1="1176" x2="1895" y2="1176" stroke="#85d45b" stroke-width="8.1"/>
</g>
</svg>
</body>
</html>
